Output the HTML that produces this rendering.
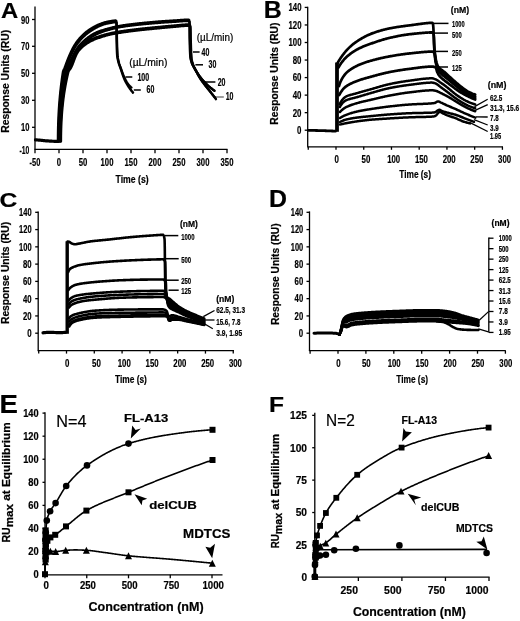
<!DOCTYPE html>
<html><head><meta charset="utf-8"><style>
html,body{margin:0;padding:0;background:#fff;}
svg{display:block;filter:grayscale(1);}
text{font-family:"Liberation Sans", sans-serif;fill:#000;}
</style></head><body>
<svg width="520" height="621" viewBox="0 0 520 621">
<rect width="520" height="621" fill="#fff"/>
<text x="1" y="18.1" font-size="22.4" font-weight="bold" text-anchor="start" textLength="17.2" lengthAdjust="spacingAndGlyphs" stroke="#000" stroke-width="0.2">A</text>
<line x1="35" y1="6.5" x2="35" y2="149.3" stroke="#000" stroke-width="1.3"/>
<line x1="32" y1="19.5" x2="35" y2="19.5" stroke="#000" stroke-width="1.3"/>
<line x1="32" y1="46.3" x2="35" y2="46.3" stroke="#000" stroke-width="1.3"/>
<line x1="32" y1="73.3" x2="35" y2="73.3" stroke="#000" stroke-width="1.3"/>
<line x1="32" y1="100.3" x2="35" y2="100.3" stroke="#000" stroke-width="1.3"/>
<line x1="32" y1="127.3" x2="35" y2="127.3" stroke="#000" stroke-width="1.3"/>
<line x1="34.4" y1="149.3" x2="227.5" y2="149.3" stroke="#000" stroke-width="1.3"/>
<line x1="35" y1="149.3" x2="35" y2="153.3" stroke="#000" stroke-width="1.3"/>
<line x1="59" y1="149.3" x2="59" y2="153.3" stroke="#000" stroke-width="1.3"/>
<line x1="83" y1="149.3" x2="83" y2="153.3" stroke="#000" stroke-width="1.3"/>
<line x1="107" y1="149.3" x2="107" y2="153.3" stroke="#000" stroke-width="1.3"/>
<line x1="131" y1="149.3" x2="131" y2="153.3" stroke="#000" stroke-width="1.3"/>
<line x1="155" y1="149.3" x2="155" y2="153.3" stroke="#000" stroke-width="1.3"/>
<line x1="179" y1="149.3" x2="179" y2="153.3" stroke="#000" stroke-width="1.3"/>
<line x1="203" y1="149.3" x2="203" y2="153.3" stroke="#000" stroke-width="1.3"/>
<line x1="227" y1="149.3" x2="227" y2="153.3" stroke="#000" stroke-width="1.3"/>
<text x="29.4" y="23.5" font-size="10.6" font-weight="bold" text-anchor="end" textLength="8.4" lengthAdjust="spacingAndGlyphs" stroke="#000" stroke-width="0.2">90</text>
<text x="29.4" y="50.3" font-size="10.6" font-weight="bold" text-anchor="end" textLength="8.4" lengthAdjust="spacingAndGlyphs" stroke="#000" stroke-width="0.2">70</text>
<text x="29.4" y="77.3" font-size="10.6" font-weight="bold" text-anchor="end" textLength="8.4" lengthAdjust="spacingAndGlyphs" stroke="#000" stroke-width="0.2">50</text>
<text x="29.4" y="104.3" font-size="10.6" font-weight="bold" text-anchor="end" textLength="8.4" lengthAdjust="spacingAndGlyphs" stroke="#000" stroke-width="0.2">30</text>
<text x="29.4" y="131.3" font-size="10.6" font-weight="bold" text-anchor="end" textLength="8.4" lengthAdjust="spacingAndGlyphs" stroke="#000" stroke-width="0.2">10</text>
<text x="29.4" y="154" font-size="10.6" font-weight="bold" text-anchor="end" textLength="9.8" lengthAdjust="spacingAndGlyphs" stroke="#000" stroke-width="0.2">-10</text>
<text x="35" y="166" font-size="10.4" font-weight="bold" text-anchor="middle" textLength="10.8" lengthAdjust="spacingAndGlyphs" stroke="#000" stroke-width="0.2">-50</text>
<text x="59" y="166" font-size="10.4" font-weight="bold" text-anchor="middle" textLength="4.3" lengthAdjust="spacingAndGlyphs" stroke="#000" stroke-width="0.2">0</text>
<text x="83" y="166" font-size="10.4" font-weight="bold" text-anchor="middle" textLength="8.6" lengthAdjust="spacingAndGlyphs" stroke="#000" stroke-width="0.2">50</text>
<text x="107" y="166" font-size="10.4" font-weight="bold" text-anchor="middle" textLength="12.8" lengthAdjust="spacingAndGlyphs" stroke="#000" stroke-width="0.2">100</text>
<text x="131" y="166" font-size="10.4" font-weight="bold" text-anchor="middle" textLength="12.8" lengthAdjust="spacingAndGlyphs" stroke="#000" stroke-width="0.2">150</text>
<text x="155" y="166" font-size="10.4" font-weight="bold" text-anchor="middle" textLength="12.8" lengthAdjust="spacingAndGlyphs" stroke="#000" stroke-width="0.2">200</text>
<text x="179" y="166" font-size="10.4" font-weight="bold" text-anchor="middle" textLength="12.8" lengthAdjust="spacingAndGlyphs" stroke="#000" stroke-width="0.2">250</text>
<text x="203" y="166" font-size="10.4" font-weight="bold" text-anchor="middle" textLength="12.8" lengthAdjust="spacingAndGlyphs" stroke="#000" stroke-width="0.2">300</text>
<text x="227" y="166" font-size="10.4" font-weight="bold" text-anchor="middle" textLength="12.8" lengthAdjust="spacingAndGlyphs" stroke="#000" stroke-width="0.2">350</text>
<text x="115.6" y="182.9" font-size="11" font-weight="bold" text-anchor="start" textLength="33" lengthAdjust="spacingAndGlyphs" stroke="#000" stroke-width="0.2">Time (s)</text>
<text transform="translate(8.9,132.8) rotate(-90)" x="0" y="0" font-size="10.3" font-weight="bold" textLength="103" lengthAdjust="spacingAndGlyphs" stroke="#000" stroke-width="0.2">Response Units (RU)</text>
<text x="129.2" y="65.6" font-size="10" font-weight="normal" text-anchor="start" textLength="38.2" lengthAdjust="spacingAndGlyphs" stroke="#000" stroke-width="0.2">(µL/min)</text>
<text x="137.4" y="80.7" font-size="10.3" font-weight="bold" text-anchor="start" textLength="11.8" lengthAdjust="spacingAndGlyphs" stroke="#000" stroke-width="0.2">100</text>
<text x="146.6" y="93.2" font-size="10.3" font-weight="bold" text-anchor="start" textLength="7.8" lengthAdjust="spacingAndGlyphs" stroke="#000" stroke-width="0.2">60</text>
<text x="196.7" y="40.8" font-size="10" font-weight="normal" text-anchor="start" textLength="36.5" lengthAdjust="spacingAndGlyphs" stroke="#000" stroke-width="0.2">(µL/min)</text>
<text x="201.5" y="55.7" font-size="10.3" font-weight="bold" text-anchor="start" textLength="7.8" lengthAdjust="spacingAndGlyphs" stroke="#000" stroke-width="0.2">40</text>
<text x="208.5" y="68.3" font-size="10.3" font-weight="bold" text-anchor="start" textLength="7.8" lengthAdjust="spacingAndGlyphs" stroke="#000" stroke-width="0.2">30</text>
<text x="217.7" y="85.5" font-size="10.3" font-weight="bold" text-anchor="start" textLength="7.8" lengthAdjust="spacingAndGlyphs" stroke="#000" stroke-width="0.2">20</text>
<text x="225.7" y="99.7" font-size="10.3" font-weight="bold" text-anchor="start" textLength="7.8" lengthAdjust="spacingAndGlyphs" stroke="#000" stroke-width="0.2">10</text>
<line x1="125.4" y1="77" x2="132.3" y2="77" stroke="#000" stroke-width="1.5"/>
<line x1="133.8" y1="90" x2="140.8" y2="90" stroke="#000" stroke-width="1.5"/>
<line x1="193" y1="52" x2="199.6" y2="52" stroke="#000" stroke-width="1.5"/>
<line x1="195.4" y1="64.8" x2="203" y2="64.8" stroke="#000" stroke-width="1.5"/>
<line x1="204.6" y1="82" x2="215.4" y2="82" stroke="#000" stroke-width="1.5"/>
<line x1="215" y1="97" x2="223.8" y2="97" stroke="#666" stroke-width="1.3"/>
<path d="M35.5,139.8 L36.24,139.86 L36.99,139.93 L37.73,139.99 L38.47,140.06 L39.21,140.13 L39.96,140.2 L40.7,140.27 L41.44,140.34 L42.18,140.42 L42.92,140.5 L43.66,140.58 L44.41,140.66 L45.15,140.73 L45.89,140.79 L46.63,140.85 L47.38,140.91 L48.12,140.96 L48.86,141.02 L49.61,141.07 L50.35,141.11 L51.1,141.16 L51.84,141.19 L52.58,141.23 L53.33,141.26 L54.07,141.29 L54.82,141.32 L55.56,141.34 L56.31,141.36 L57.05,141.38 L57.8,141.4" fill="none" stroke="#000" stroke-width="3.2" stroke-linejoin="round" stroke-linecap="round"/>
<path d="M58,141.5 L58,140.75 L58,140.01 L58,139.26 L58.01,138.52 L58.01,137.78 L58.02,137.03 L58.02,136.29 L58.03,135.55 L58.04,134.82 L58.05,134.08 L58.06,133.34 L58.07,132.61 L58.08,131.88 L58.09,131.14 L58.11,130.41 L58.12,129.68 L58.14,128.95 L58.15,128.22 L58.17,127.5 L58.19,126.77 L58.21,126.05 L58.23,125.32 L58.25,124.6 L58.27,123.88 L58.3,123.16 L58.32,122.44 L58.35,121.72 L58.37,121 L58.4,120.28 L58.43,119.57 L58.46,118.85 L58.49,118.14 L58.52,117.42 L58.55,116.71 L58.59,116 L58.62,115.29 L58.66,114.58 L58.69,113.87 L58.73,113.16 L58.77,112.45 L58.81,111.75 L58.85,111.04 L58.89,110.34 L58.94,109.63 L58.98,108.93 L59.03,108.23 L59.07,107.53 L59.12,106.83 L59.17,106.13 L59.22,105.43 L59.27,104.73 L59.32,104.03 L59.37,103.34 L59.43,102.64 L59.48,101.95 L59.54,101.25 L59.59,100.56 L59.65,99.87 L59.71,99.18 L59.77,98.48 L59.83,97.79 L59.89,97.1 L59.96,96.41 L60.02,95.73 L60.09,95.04 L60.15,94.35 L60.22,93.66 L60.29,92.98 L60.36,92.29 L60.43,91.61 L60.51,90.92 L60.58,90.24 L60.65,89.56 L60.73,88.88 L60.81,88.19 L60.88,87.51 L60.96,86.83 L61.04,86.15 L61.13,85.47 L61.21,84.79 L61.29,84.12 L61.38,83.44 L61.46,82.76 L61.55,82.08 L61.64,81.41 L61.73,80.73 L61.82,80.06 L61.91,79.38 L62,78.71 L62.1,78.03 L62.19,77.36 L62.29,76.69 L62.39,76.01 L62.49,75.34 L62.59,74.67 L62.69,74 L62.79,73.33 L62.9,72.66 L63,71.99 L63.16,71.32 L63.39,70.67 L63.67,70.01 L63.98,69.37 L64.29,68.72 L64.57,68.07 L64.83,67.41 L65.08,66.75 L65.33,66.09 L65.58,65.43 L65.83,64.77 L66.07,64.11 L66.32,63.45 L66.56,62.79 L66.81,62.13 L67.05,61.47 L67.3,60.81 L67.55,60.15 L67.8,59.49 L68.06,58.84 L68.32,58.19 L68.59,57.54 L68.86,56.89 L69.14,56.24 L69.42,55.6 L69.7,54.96 L69.99,54.31 L70.28,53.67 L70.57,53.02 L70.87,52.37 L71.17,51.73 L71.47,51.09 L71.78,50.45 L72.09,49.81 L72.41,49.18 L72.73,48.55 L73.06,47.93 L73.4,47.31 L73.74,46.7 L74.09,46.09 L74.44,45.49 L74.81,44.9 L75.18,44.32 L75.56,43.74 L75.96,43.16 L76.36,42.58 L76.77,42.01 L77.19,41.44 L77.62,40.88 L78.06,40.31 L78.51,39.76 L78.96,39.21 L79.43,38.66 L79.89,38.13 L80.37,37.6 L80.85,37.08 L81.33,36.56 L81.82,36.06 L82.31,35.56 L82.81,35.08 L83.31,34.6 L83.82,34.13 L84.34,33.66 L84.87,33.2 L85.41,32.74 L85.96,32.29 L86.51,31.85 L87.07,31.41 L87.64,30.98 L88.22,30.56 L88.8,30.14 L89.38,29.74 L89.97,29.34 L90.56,28.96 L91.15,28.58 L91.75,28.22 L92.35,27.87 L92.95,27.53 L93.56,27.19 L94.18,26.85 L94.8,26.51 L95.43,26.18 L96.06,25.86 L96.69,25.54 L97.33,25.23 L97.98,24.93 L98.63,24.63 L99.28,24.35 L99.93,24.07 L100.59,23.81 L101.25,23.56 L101.91,23.31 L102.57,23.09 L103.24,22.87 L103.9,22.67 L104.57,22.48 L105.25,22.3 L105.93,22.13 L106.62,21.96 L107.31,21.81 L108.01,21.66 L108.7,21.53 L109.39,21.4 L110.09,21.29 L110.78,21.17 L111.49,21.05 L112.19,20.93 L112.9,20.83 L113.6,20.73 L114.3,20.66 L114.99,20.61 L115.68,20.6 L116.21,20.86 L116.25,21.2 L116.28,21.59 L116.31,22.03 L116.34,22.52 L116.36,23.06 L116.38,23.64 L116.4,24.27 L116.42,24.92 L116.43,25.62 L116.44,26.34 L116.45,27.09 L116.46,27.86 L116.47,28.65 L116.48,29.46 L116.48,30.28 L116.49,31.11 L116.5,31.95 L116.5,32.79 L116.51,33.63 L116.51,34.47 L116.52,35.3 L116.53,36.12 L116.54,36.92 L116.55,37.71 L116.57,38.48 L116.58,39.23 L116.6,39.95 L116.62,40.66 L116.64,41.36 L116.66,42.07 L116.67,42.77 L116.69,43.48 L116.71,44.18 L116.73,44.89 L116.75,45.59 L116.77,46.3 L116.79,47 L116.82,47.71 L116.84,48.42 L116.87,49.12 L116.9,49.82 L116.93,50.53 L116.96,51.23 L116.99,51.93 L117.03,52.63 L117.07,53.33 L117.11,54.03 L117.15,54.73 L117.2,55.43 L117.27,56.12 L117.35,56.82 L117.46,57.52 L117.59,58.21 L117.73,58.9 L117.88,59.6 L118.04,60.29 L118.21,60.97 L118.38,61.66 L118.56,62.34 L118.74,63.01 L118.94,63.68 L119.17,64.35 L119.41,65.01 L119.65,65.68 L119.9,66.34 L120.15,67 L120.39,67.66 L120.62,68.33 L120.84,69 L121.07,69.66 L121.29,70.34 L121.51,71.01 L121.73,71.68 L121.95,72.35 L122.17,73.02 L122.4,73.69 L122.62,74.36 L122.86,75.03 L123.09,75.69 L123.33,76.35 L123.58,77.01 L123.83,77.66 L124.09,78.31 L124.36,78.96 L124.64,79.6 L124.94,80.23 L125.24,80.86 L125.56,81.49 L125.89,82.11 L126.23,82.73 L126.58,83.35 L126.93,83.96 L127.3,84.57 L127.66,85.17 L128.04,85.77 L128.41,86.36 L128.79,86.95 L129.18,87.54 L129.57,88.12 L129.98,88.69 L130.39,89.26 L130.81,89.83 L131.23,90.39 L131.66,90.95 L132.1,91.51 L132.55,92.05 L133,92.6" fill="none" stroke="#000" stroke-width="2.5" stroke-linejoin="round" stroke-linecap="round"/>
<path d="M58.6,141.5 L58.6,140.72 L58.6,139.95 L58.6,139.18 L58.61,138.41 L58.61,137.64 L58.62,136.88 L58.62,136.11 L58.63,135.35 L58.63,134.59 L58.64,133.83 L58.65,133.08 L58.66,132.32 L58.67,131.57 L58.69,130.82 L58.7,130.07 L58.71,129.32 L58.73,128.57 L58.74,127.83 L58.76,127.09 L58.78,126.35 L58.8,125.61 L58.82,124.87 L58.84,124.14 L58.86,123.4 L58.88,122.67 L58.9,121.94 L58.93,121.21 L58.95,120.48 L58.98,119.76 L59.01,119.03 L59.04,118.31 L59.07,117.59 L59.1,116.87 L59.13,116.15 L59.16,115.43 L59.2,114.72 L59.23,114 L59.27,113.29 L59.31,112.58 L59.34,111.87 L59.38,111.16 L59.42,110.46 L59.47,109.75 L59.51,109.05 L59.55,108.35 L59.6,107.65 L59.64,106.95 L59.69,106.25 L59.74,105.55 L59.79,104.86 L59.84,104.16 L59.89,103.47 L59.95,102.78 L60,102.09 L60.06,101.4 L60.11,100.71 L60.17,100.02 L60.23,99.34 L60.29,98.65 L60.35,97.97 L60.42,97.29 L60.48,96.61 L60.54,95.93 L60.61,95.25 L60.68,94.57 L60.75,93.9 L60.82,93.22 L60.89,92.55 L60.96,91.87 L61.04,91.2 L61.11,90.53 L61.19,89.86 L61.27,89.19 L61.35,88.52 L61.43,87.86 L61.51,87.19 L61.59,86.53 L61.68,85.86 L61.76,85.2 L61.85,84.54 L61.94,83.87 L62.03,83.21 L62.12,82.55 L62.22,81.9 L62.31,81.24 L62.41,80.58 L62.5,79.92 L62.6,79.27 L62.7,78.61 L62.8,77.96 L62.91,77.31 L63.01,76.66 L63.12,76 L63.22,75.35 L63.33,74.7 L63.44,74.05 L63.55,73.4 L63.67,72.76 L63.78,72.11 L63.95,71.47 L64.24,70.85 L64.61,70.23 L65.01,69.62 L65.39,69 L65.7,68.37 L65.99,67.73 L66.27,67.09 L66.54,66.44 L66.8,65.79 L67.05,65.13 L67.3,64.48 L67.55,63.82 L67.79,63.15 L68.04,62.49 L68.28,61.83 L68.52,61.17 L68.77,60.51 L69.02,59.85 L69.28,59.2 L69.54,58.55 L69.81,57.9 L70.09,57.26 L70.37,56.62 L70.66,55.98 L70.96,55.33 L71.25,54.69 L71.55,54.05 L71.85,53.41 L72.16,52.77 L72.47,52.13 L72.78,51.5 L73.1,50.87 L73.42,50.24 L73.75,49.62 L74.09,49 L74.43,48.38 L74.78,47.78 L75.14,47.18 L75.5,46.58 L75.87,46 L76.25,45.42 L76.64,44.85 L77.04,44.27 L77.45,43.7 L77.87,43.14 L78.3,42.57 L78.74,42.01 L79.18,41.46 L79.64,40.91 L80.1,40.37 L80.57,39.83 L81.04,39.3 L81.52,38.78 L82.01,38.27 L82.5,37.76 L82.99,37.27 L83.49,36.78 L83.99,36.3 L84.5,35.83 L85.01,35.37 L85.54,34.91 L86.08,34.46 L86.62,34.01 L87.18,33.57 L87.74,33.14 L88.3,32.71 L88.88,32.29 L89.46,31.88 L90.04,31.47 L90.63,31.07 L91.22,30.69 L91.81,30.31 L92.41,29.94 L93,29.58 L93.6,29.22 L94.2,28.87 L94.81,28.52 L95.43,28.18 L96.05,27.83 L96.67,27.49 L97.3,27.16 L97.93,26.83 L98.56,26.51 L99.2,26.2 L99.85,25.91 L100.49,25.62 L101.14,25.35 L101.8,25.09 L102.45,24.84 L103.11,24.62 L103.77,24.41 L104.44,24.21 L105.11,24.03 L105.79,23.85 L106.48,23.69 L107.16,23.53 L107.86,23.39 L108.55,23.25 L109.25,23.12 L109.94,23.01 L110.63,22.9 L111.33,22.78 L112.03,22.67 L112.73,22.56 L113.43,22.47 L114.13,22.39 L114.83,22.33 L115.52,22.3 L116.3,22.37 L116.62,22.61 L116.66,22.9 L116.69,23.27 L116.72,23.71 L116.75,24.2 L116.78,24.75 L116.8,25.35 L116.82,25.99 L116.83,26.68 L116.84,27.41 L116.86,28.16 L116.87,28.95 L116.87,29.76 L116.88,30.59 L116.89,31.43 L116.89,32.28 L116.9,33.14 L116.91,34 L116.92,34.86 L116.92,35.7 L116.93,36.54 L116.94,37.36 L116.96,38.15 L116.97,38.92 L116.99,39.66 L117.01,40.36 L117.03,41.07 L117.05,41.77 L117.07,42.47 L117.09,43.18 L117.11,43.88 L117.13,44.59 L117.15,45.29 L117.17,45.99 L117.19,46.7 L117.21,47.4 L117.24,48.11 L117.26,48.81 L117.29,49.51 L117.32,50.22 L117.35,50.92 L117.38,51.62 L117.41,52.32 L117.45,53.02 L117.49,53.72 L117.53,54.42 L117.58,55.11 L117.63,55.81 L117.7,56.51 L117.79,57.2 L117.9,57.9 L118.02,58.59 L118.15,59.29 L118.29,59.98 L118.44,60.67 L118.6,61.36 L118.77,62.04 L118.93,62.72 L119.1,63.4 L119.3,64.07 L119.52,64.74 L119.75,65.4 L119.99,66.06 L120.24,66.72 L120.5,67.38 L120.74,68.04 L120.98,68.7 L121.22,69.37 L121.46,70.03 L121.7,70.69 L121.93,71.36 L122.18,72.02 L122.42,72.68 L122.67,73.34 L122.92,74 L123.17,74.65 L123.44,75.3 L123.71,75.95 L123.99,76.59 L124.27,77.23 L124.57,77.86 L124.88,78.49 L125.19,79.13 L125.52,79.76 L125.85,80.38 L126.2,81 L126.55,81.61 L126.92,82.22 L127.3,82.8 L127.7,83.38 L128.1,83.94 L128.53,84.48 L128.98,85.01 L129.45,85.53 L129.94,86.04 L130.45,86.54 L130.97,87.03 L131.5,87.5" fill="none" stroke="#000" stroke-width="2.3" stroke-linejoin="round" stroke-linecap="round"/>
<path d="M59.2,141.5 L59.2,140.72 L59.2,139.93 L59.2,139.15 L59.21,138.37 L59.21,137.6 L59.22,136.82 L59.22,136.05 L59.23,135.28 L59.24,134.52 L59.25,133.75 L59.26,132.99 L59.27,132.23 L59.28,131.47 L59.3,130.71 L59.31,129.95 L59.33,129.2 L59.35,128.45 L59.36,127.7 L59.38,126.95 L59.4,126.21 L59.42,125.46 L59.45,124.72 L59.47,123.98 L59.49,123.24 L59.52,122.51 L59.55,121.77 L59.58,121.04 L59.6,120.31 L59.63,119.58 L59.67,118.85 L59.7,118.13 L59.73,117.41 L59.77,116.68 L59.8,115.96 L59.84,115.24 L59.88,114.53 L59.92,113.81 L59.96,113.1 L60,112.39 L60.05,111.68 L60.09,110.97 L60.14,110.26 L60.18,109.56 L60.23,108.85 L60.28,108.15 L60.33,107.45 L60.38,106.75 L60.44,106.05 L60.49,105.36 L60.55,104.66 L60.6,103.97 L60.66,103.28 L60.72,102.59 L60.78,101.9 L60.84,101.21 L60.91,100.53 L60.97,99.84 L61.04,99.16 L61.11,98.48 L61.18,97.8 L61.25,97.12 L61.32,96.44 L61.39,95.76 L61.47,95.09 L61.54,94.41 L61.62,93.74 L61.7,93.07 L61.78,92.4 L61.86,91.73 L61.94,91.06 L62.02,90.39 L62.11,89.73 L62.2,89.06 L62.28,88.4 L62.37,87.74 L62.47,87.08 L62.56,86.42 L62.65,85.76 L62.75,85.1 L62.84,84.44 L62.94,83.79 L63.04,83.13 L63.14,82.48 L63.25,81.83 L63.35,81.17 L63.46,80.52 L63.56,79.87 L63.67,79.22 L63.78,78.58 L63.9,77.93 L64.01,77.28 L64.12,76.64 L64.24,75.99 L64.36,75.35 L64.48,74.71 L64.6,74.06 L64.72,73.42 L64.85,72.78 L64.97,72.14 L65.15,71.51 L65.44,70.9 L65.82,70.29 L66.24,69.69 L66.66,69.09 L67.01,68.47 L67.33,67.85 L67.63,67.22 L67.93,66.58 L68.22,65.94 L68.5,65.29 L68.78,64.65 L69.06,64 L69.33,63.35 L69.6,62.7 L69.88,62.05 L70.15,61.4 L70.43,60.76 L70.71,60.11 L71,59.47 L71.3,58.83 L71.6,58.2 L71.91,57.58 L72.23,56.95 L72.55,56.32 L72.86,55.68 L73.19,55.05 L73.51,54.42 L73.84,53.79 L74.17,53.16 L74.51,52.54 L74.86,51.92 L75.21,51.3 L75.56,50.7 L75.93,50.1 L76.3,49.5 L76.68,48.92 L77.07,48.35 L77.46,47.79 L77.87,47.23 L78.3,46.69 L78.73,46.14 L79.18,45.6 L79.64,45.07 L80.11,44.54 L80.59,44.01 L81.08,43.5 L81.58,42.99 L82.08,42.48 L82.6,41.99 L83.11,41.5 L83.64,41.02 L84.16,40.55 L84.69,40.08 L85.23,39.63 L85.76,39.19 L86.3,38.76 L86.85,38.33 L87.4,37.9 L87.97,37.47 L88.54,37.05 L89.11,36.64 L89.7,36.23 L90.28,35.83 L90.88,35.44 L91.48,35.05 L92.08,34.68 L92.69,34.31 L93.31,33.96 L93.92,33.62 L94.55,33.3 L95.17,32.99 L95.79,32.69 L96.42,32.41 L97.06,32.14 L97.7,31.88 L98.35,31.63 L99,31.38 L99.66,31.14 L100.33,30.91 L101,30.68 L101.67,30.46 L102.34,30.24 L103.02,30.03 L103.7,29.82 L104.38,29.62 L105.06,29.42 L105.74,29.23 L106.42,29.04 L107.1,28.85 L107.78,28.66 L108.46,28.48 L109.13,28.29 L109.81,28.11 L110.49,27.93 L111.17,27.75 L111.85,27.57 L112.54,27.4 L113.22,27.23 L113.91,27.07 L114.59,26.91 L115.28,26.75 L115.96,26.59 L116.65,26.45 L117.34,26.3 L118.03,26.16 L118.72,26.03 L119.41,25.9 L120.1,25.78 L120.79,25.67 L121.48,25.55 L122.17,25.44 L122.87,25.33 L123.56,25.23 L124.25,25.12 L124.95,25.02 L125.64,24.92 L126.34,24.82 L127.04,24.73 L127.73,24.63 L128.43,24.54 L129.13,24.45 L129.83,24.36 L130.53,24.27 L131.22,24.19 L131.92,24.1 L132.62,24.02 L133.32,23.94 L134.02,23.86 L134.72,23.78 L135.42,23.7 L136.12,23.62 L136.82,23.54 L137.52,23.47 L138.22,23.39 L138.92,23.32 L139.62,23.24 L140.31,23.17 L141.01,23.09 L141.71,23.02 L142.41,22.95 L143.11,22.88 L143.81,22.81 L144.51,22.74 L145.21,22.67 L145.91,22.6 L146.61,22.54 L147.31,22.47 L148.01,22.41 L148.71,22.34 L149.41,22.28 L150.11,22.21 L150.81,22.15 L151.51,22.09 L152.21,22.03 L152.91,21.97 L153.61,21.91 L154.31,21.85 L155.01,21.79 L155.71,21.74 L156.41,21.68 L157.11,21.62 L157.81,21.57 L158.51,21.51 L159.22,21.46 L159.92,21.41 L160.62,21.35 L161.32,21.3 L162.02,21.25 L162.72,21.2 L163.42,21.15 L164.12,21.1 L164.82,21.05 L165.52,21.01 L166.23,20.96 L166.93,20.91 L167.63,20.87 L168.33,20.82 L169.03,20.78 L169.73,20.73 L170.43,20.69 L171.14,20.64 L171.84,20.6 L172.54,20.55 L173.24,20.51 L173.94,20.47 L174.64,20.42 L175.35,20.38 L176.06,20.33 L176.78,20.28 L177.51,20.23 L178.25,20.17 L178.99,20.12 L179.73,20.06 L180.47,20.01 L181.21,19.95 L181.94,19.9 L182.67,19.85 L183.39,19.8 L184.1,19.76 L184.8,19.72 L185.49,19.68 L186.16,19.65 L186.81,19.63 L187.44,19.61 L188.06,19.6 L188.66,19.64 L189.2,20.17 L189.23,20.7 L189.27,21.26 L189.3,21.84 L189.33,22.44 L189.35,23.06 L189.37,23.7 L189.39,24.36 L189.41,25.03 L189.42,25.72 L189.43,26.43 L189.44,27.14 L189.45,27.87 L189.46,28.61 L189.47,29.35 L189.48,30.1 L189.48,30.86 L189.49,31.61 L189.49,32.38 L189.5,33.14 L189.51,33.9 L189.51,34.66 L189.52,35.42 L189.53,36.18 L189.54,36.93 L189.55,37.67 L189.56,38.4 L189.58,39.12 L189.6,39.83 L189.61,40.54 L189.63,41.24 L189.65,41.94 L189.67,42.65 L189.68,43.35 L189.7,44.06 L189.72,44.76 L189.74,45.47 L189.76,46.17 L189.78,46.88 L189.8,47.58 L189.82,48.29 L189.84,48.99 L189.87,49.7 L189.9,50.4 L189.93,51.1 L189.96,51.8 L189.99,52.5 L190.03,53.2 L190.07,53.9 L190.11,54.6 L190.15,55.3 L190.2,55.99 L190.26,56.68 L190.35,57.38 L190.47,58.08 L190.61,58.77 L190.76,59.47 L190.93,60.16 L191.11,60.84 L191.31,61.52 L191.5,62.19 L191.71,62.84 L191.96,63.5 L192.23,64.14 L192.54,64.78 L192.86,65.41 L193.2,66.03 L193.54,66.66 L193.88,67.27 L194.21,67.89 L194.55,68.5 L194.9,69.11 L195.26,69.72 L195.62,70.33 L195.99,70.93 L196.36,71.52 L196.74,72.12 L197.13,72.71 L197.52,73.29 L197.91,73.87 L198.31,74.45 L198.71,75.02 L199.12,75.6 L199.54,76.17 L199.96,76.73 L200.38,77.29 L200.81,77.85 L201.25,78.41 L201.69,78.95 L202.14,79.49 L202.59,80.03 L203.05,80.56 L203.52,81.08 L203.99,81.6 L204.47,82.11 L204.96,82.62 L205.45,83.12 L205.95,83.62 L206.46,84.11 L206.97,84.6 L207.48,85.08 L208,85.55 L208.52,86.02 L209.05,86.48 L209.58,86.94 L210.12,87.39 L210.66,87.83 L211.21,88.27 L211.76,88.71 L212.32,89.14 L212.88,89.56 L213.45,89.98 L214.02,90.39 L214.6,90.8" fill="none" stroke="#000" stroke-width="2.3" stroke-linejoin="round" stroke-linecap="round"/>
<path d="M59.8,141.5 L59.8,140.69 L59.8,139.89 L59.8,139.08 L59.81,138.29 L59.81,137.49 L59.82,136.69 L59.82,135.9 L59.83,135.11 L59.84,134.33 L59.85,133.55 L59.86,132.76 L59.87,131.99 L59.89,131.21 L59.9,130.44 L59.92,129.67 L59.93,128.9 L59.95,128.13 L59.97,127.37 L59.99,126.61 L60.01,125.85 L60.03,125.1 L60.06,124.35 L60.08,123.59 L60.11,122.85 L60.13,122.1 L60.16,121.36 L60.19,120.62 L60.22,119.88 L60.25,119.14 L60.29,118.41 L60.32,117.67 L60.35,116.94 L60.39,116.22 L60.43,115.49 L60.47,114.77 L60.51,114.05 L60.55,113.33 L60.59,112.61 L60.64,111.9 L60.68,111.19 L60.73,110.47 L60.78,109.77 L60.83,109.06 L60.88,108.36 L60.93,107.65 L60.98,106.95 L61.04,106.26 L61.1,105.56 L61.15,104.86 L61.21,104.17 L61.27,103.48 L61.33,102.79 L61.4,102.11 L61.46,101.42 L61.53,100.74 L61.6,100.06 L61.66,99.38 L61.74,98.7 L61.81,98.02 L61.88,97.35 L61.95,96.68 L62.03,96.01 L62.11,95.34 L62.19,94.67 L62.27,94 L62.35,93.34 L62.43,92.68 L62.52,92.01 L62.61,91.35 L62.69,90.7 L62.78,90.04 L62.88,89.39 L62.97,88.73 L63.06,88.08 L63.16,87.43 L63.26,86.78 L63.36,86.13 L63.46,85.49 L63.56,84.84 L63.66,84.2 L63.77,83.56 L63.88,82.91 L63.98,82.28 L64.09,81.64 L64.21,81 L64.32,80.36 L64.44,79.73 L64.55,79.1 L64.67,78.46 L64.79,77.83 L64.91,77.2 L65.04,76.58 L65.16,75.95 L65.29,75.32 L65.42,74.7 L65.55,74.07 L65.68,73.45 L65.82,72.83 L65.95,72.21 L66.14,71.59 L66.47,71.01 L66.91,70.43 L67.39,69.86 L67.83,69.28 L68.18,68.68 L68.51,68.06 L68.83,67.44 L69.13,66.81 L69.43,66.17 L69.71,65.53 L69.99,64.88 L70.27,64.23 L70.55,63.58 L70.82,62.93 L71.1,62.28 L71.38,61.63 L71.66,60.99 L71.95,60.35 L72.25,59.71 L72.55,59.08 L72.87,58.46 L73.2,57.84 L73.52,57.21 L73.85,56.58 L74.19,55.96 L74.52,55.33 L74.86,54.71 L75.21,54.09 L75.56,53.47 L75.91,52.86 L76.27,52.25 L76.64,51.65 L77.02,51.06 L77.4,50.48 L77.79,49.91 L78.2,49.34 L78.61,48.79 L79.03,48.25 L79.47,47.71 L79.91,47.17 L80.37,46.64 L80.84,46.12 L81.33,45.6 L81.82,45.08 L82.32,44.58 L82.82,44.07 L83.34,43.58 L83.85,43.09 L84.38,42.62 L84.91,42.15 L85.44,41.68 L85.98,41.23 L86.52,40.79 L87.06,40.35 L87.6,39.93 L88.15,39.5 L88.71,39.08 L89.28,38.66 L89.86,38.24 L90.44,37.83 L91.02,37.43 L91.61,37.04 L92.21,36.65 L92.81,36.27 L93.42,35.9 L94.03,35.54 L94.64,35.2 L95.26,34.86 L95.88,34.54 L96.5,34.23 L97.13,33.94 L97.76,33.66 L98.39,33.38 L99.04,33.11 L99.68,32.85 L100.34,32.6 L101,32.35 L101.66,32.11 L102.32,31.87 L102.99,31.64 L103.66,31.42 L104.34,31.2 L105.01,30.98 L105.69,30.77 L106.37,30.57 L107.04,30.36 L107.72,30.17 L108.4,29.97 L109.07,29.78 L109.74,29.59 L110.42,29.4 L111.1,29.22 L111.78,29.04 L112.46,28.86 L113.14,28.69 L113.82,28.52 L114.51,28.35 L115.19,28.19 L115.88,28.03 L116.57,27.88 L117.25,27.73 L117.94,27.59 L118.63,27.45 L119.32,27.32 L120.01,27.2 L120.7,27.08 L121.39,26.97 L122.08,26.85 L122.77,26.74 L123.47,26.64 L124.16,26.53 L124.85,26.43 L125.55,26.33 L126.24,26.23 L126.94,26.13 L127.64,26.04 L128.33,25.95 L129.03,25.86 L129.73,25.77 L130.43,25.68 L131.13,25.6 L131.82,25.51 L132.52,25.43 L133.22,25.35 L133.92,25.27 L134.62,25.19 L135.32,25.11 L136.02,25.03 L136.72,24.95 L137.42,24.88 L138.12,24.8 L138.81,24.73 L139.51,24.65 L140.21,24.58 L140.91,24.5 L141.61,24.43 L142.31,24.36 L143,24.29 L143.7,24.22 L144.4,24.15 L145.1,24.08 L145.8,24.01 L146.5,23.95 L147.2,23.88 L147.9,23.82 L148.6,23.75 L149.3,23.69 L150,23.62 L150.7,23.56 L151.4,23.5 L152.1,23.44 L152.8,23.38 L153.5,23.32 L154.2,23.26 L154.9,23.2 L155.6,23.15 L156.3,23.09 L157,23.03 L157.7,22.98 L158.4,22.92 L159.1,22.87 L159.8,22.82 L160.5,22.76 L161.2,22.71 L161.9,22.66 L162.6,22.61 L163.3,22.56 L164,22.51 L164.7,22.46 L165.4,22.41 L166.11,22.37 L166.81,22.32 L167.51,22.27 L168.21,22.23 L168.91,22.18 L169.61,22.14 L170.31,22.09 L171.01,22.05 L171.71,22.01 L172.42,21.96 L173.12,21.92 L173.82,21.87 L174.52,21.83 L175.22,21.79 L175.93,21.74 L176.64,21.69 L177.35,21.64 L178.07,21.58 L178.79,21.53 L179.5,21.47 L180.22,21.42 L180.94,21.36 L181.66,21.31 L182.38,21.26 L183.09,21.21 L183.79,21.17 L184.5,21.13 L185.19,21.09 L185.88,21.06 L186.56,21.03 L187.23,21.01 L187.89,21 L188.54,21 L189.31,21.28 L189.61,21.72 L189.65,22.16 L189.68,22.65 L189.71,23.17 L189.74,23.74 L189.76,24.33 L189.79,24.96 L189.8,25.61 L189.82,26.29 L189.83,26.99 L189.85,27.72 L189.86,28.46 L189.87,29.22 L189.87,29.99 L189.88,30.77 L189.89,31.56 L189.89,32.36 L189.9,33.15 L189.91,33.95 L189.92,34.75 L189.92,35.54 L189.93,36.33 L189.94,37.1 L189.95,37.86 L189.97,38.61 L189.98,39.34 L190,40.05 L190.02,40.76 L190.04,41.46 L190.05,42.16 L190.07,42.87 L190.09,43.57 L190.1,44.28 L190.12,44.98 L190.14,45.69 L190.16,46.39 L190.17,47.1 L190.19,47.8 L190.21,48.51 L190.23,49.21 L190.26,49.91 L190.28,50.62 L190.31,51.32 L190.33,52.02 L190.36,52.72 L190.39,53.42 L190.43,54.12 L190.47,54.82 L190.51,55.51 L190.55,56.21 L190.59,56.9 L190.65,57.6 L190.74,58.29 L190.86,58.99 L191,59.68 L191.16,60.38 L191.34,61.07 L191.53,61.75 L191.73,62.42 L191.93,63.09 L192.15,63.74 L192.4,64.38 L192.69,65.02 L193.01,65.65 L193.34,66.28 L193.69,66.9 L194.04,67.52 L194.39,68.13 L194.74,68.74 L195.08,69.35 L195.44,69.96 L195.8,70.56 L196.17,71.16 L196.55,71.75 L196.93,72.34 L197.32,72.93 L197.71,73.51 L198.11,74.09 L198.51,74.67 L198.91,75.24 L199.32,75.81 L199.74,76.38 L200.15,76.95 L200.58,77.51 L201.01,78.07 L201.44,78.62 L201.88,79.17 L202.33,79.71 L202.78,80.25 L203.24,80.79 L203.7,81.31 L204.17,81.83 L204.64,82.35 L205.12,82.86 L205.61,83.37 L206.1,83.87 L206.6,84.37 L207.11,84.86 L207.62,85.35 L208.13,85.83 L208.65,86.29 L209.18,86.76 L209.71,87.21 L210.25,87.66 L210.8,88.1 L211.35,88.53 L211.91,88.96 L212.47,89.38 L213.04,89.79 L213.62,90.2 L214.2,90.6" fill="none" stroke="#000" stroke-width="2.3" stroke-linejoin="round" stroke-linecap="round"/>
<path d="M60.4,141.5 L60.4,140.72 L60.4,139.95 L60.41,139.17 L60.41,138.4 L60.42,137.63 L60.42,136.87 L60.43,136.1 L60.44,135.34 L60.45,134.58 L60.47,133.82 L60.48,133.06 L60.5,132.3 L60.51,131.55 L60.53,130.8 L60.55,130.05 L60.57,129.3 L60.6,128.55 L60.62,127.81 L60.65,127.07 L60.67,126.32 L60.7,125.58 L60.73,124.85 L60.76,124.11 L60.79,123.38 L60.83,122.65 L60.86,121.92 L60.9,121.19 L60.93,120.46 L60.97,119.73 L61.01,119.01 L61.06,118.29 L61.1,117.57 L61.14,116.85 L61.19,116.13 L61.24,115.42 L61.29,114.7 L61.34,113.99 L61.39,113.28 L61.44,112.57 L61.5,111.86 L61.55,111.15 L61.61,110.45 L61.67,109.75 L61.73,109.04 L61.79,108.34 L61.86,107.65 L61.92,106.95 L61.99,106.25 L62.06,105.56 L62.12,104.86 L62.19,104.17 L62.27,103.48 L62.34,102.79 L62.42,102.1 L62.49,101.42 L62.57,100.73 L62.65,100.05 L62.73,99.37 L62.81,98.68 L62.9,98 L62.98,97.32 L63.07,96.65 L63.16,95.97 L63.25,95.3 L63.34,94.62 L63.43,93.95 L63.52,93.28 L63.62,92.61 L63.72,91.94 L63.81,91.27 L63.91,90.6 L64.02,89.93 L64.12,89.27 L64.22,88.61 L64.33,87.94 L64.44,87.28 L64.55,86.62 L64.66,85.96 L64.77,85.3 L64.88,84.64 L65,83.99 L65.11,83.33 L65.23,82.68 L65.35,82.02 L65.47,81.37 L65.6,80.72 L65.72,80.07 L65.84,79.41 L65.97,78.77 L66.1,78.12 L66.23,77.47 L66.36,76.82 L66.5,76.18 L66.63,75.53 L66.77,74.89 L66.91,74.24 L67.05,73.6 L67.19,72.96 L67.33,72.31 L67.49,71.68 L67.74,71.05 L68.07,70.44 L68.45,69.83 L68.86,69.23 L69.26,68.63 L69.63,68.01 L69.95,67.39 L70.26,66.75 L70.55,66.11 L70.83,65.45 L71.11,64.79 L71.37,64.12 L71.63,63.45 L71.89,62.77 L72.14,62.09 L72.39,61.41 L72.64,60.73 L72.88,60.05 L73.13,59.36 L73.37,58.69 L73.62,58.01 L73.88,57.34 L74.13,56.68 L74.39,56.02 L74.66,55.37 L74.94,54.73 L75.22,54.1 L75.52,53.48 L75.82,52.87 L76.14,52.28 L76.47,51.7 L76.81,51.14 L77.17,50.59 L77.54,50.06 L77.94,49.53 L78.36,49.01 L78.81,48.49 L79.27,47.98 L79.75,47.47 L80.25,46.96 L80.77,46.47 L81.3,45.98 L81.84,45.49 L82.4,45.02 L82.96,44.56 L83.54,44.1 L84.12,43.66 L84.71,43.23 L85.3,42.8 L85.89,42.4 L86.49,42 L87.09,41.62 L87.69,41.25 L88.28,40.9 L88.87,40.56 L89.47,40.24 L90.07,39.92 L90.69,39.61 L91.32,39.31 L91.95,39.02 L92.6,38.74 L93.25,38.46 L93.91,38.19 L94.57,37.93 L95.23,37.68 L95.9,37.43 L96.57,37.18 L97.24,36.95 L97.92,36.72 L98.59,36.49 L99.26,36.27 L99.93,36.05 L100.59,35.84 L101.26,35.63 L101.93,35.43 L102.6,35.23 L103.28,35.03 L103.95,34.84 L104.63,34.66 L105.31,34.47 L105.99,34.29 L106.67,34.12 L107.36,33.95 L108.04,33.78 L108.72,33.62 L109.41,33.46 L110.09,33.3 L110.78,33.14 L111.46,32.99 L112.15,32.85 L112.84,32.7 L113.52,32.56 L114.21,32.42 L114.9,32.29 L115.59,32.16 L116.28,32.03 L116.97,31.91 L117.67,31.78 L118.36,31.67 L119.05,31.55 L119.74,31.44 L120.44,31.33 L121.13,31.23 L121.82,31.12 L122.52,31.02 L123.21,30.91 L123.91,30.81 L124.6,30.72 L125.3,30.62 L125.99,30.52 L126.69,30.43 L127.39,30.33 L128.08,30.24 L128.78,30.15 L129.47,30.06 L130.17,29.97 L130.87,29.88 L131.56,29.79 L132.26,29.71 L132.96,29.62 L133.66,29.54 L134.35,29.45 L135.05,29.37 L135.75,29.29 L136.45,29.21 L137.14,29.13 L137.84,29.05 L138.54,28.97 L139.24,28.89 L139.93,28.81 L140.63,28.73 L141.33,28.65 L142.03,28.58 L142.73,28.5 L143.42,28.43 L144.12,28.35 L144.82,28.28 L145.52,28.21 L146.22,28.14 L146.91,28.06 L147.61,27.99 L148.31,27.92 L149.01,27.86 L149.71,27.79 L150.41,27.72 L151.11,27.65 L151.81,27.58 L152.51,27.52 L153.2,27.45 L153.9,27.38 L154.6,27.32 L155.3,27.25 L156,27.18 L156.7,27.12 L157.4,27.05 L158.1,26.98 L158.8,26.92 L159.5,26.85 L160.19,26.78 L160.89,26.71 L161.59,26.65 L162.29,26.58 L162.99,26.51 L163.69,26.44 L164.39,26.37 L165.09,26.31 L165.78,26.24 L166.48,26.17 L167.18,26.1 L167.88,26.04 L168.58,25.97 L169.28,25.91 L169.98,25.84 L170.68,25.78 L171.38,25.71 L172.08,25.65 L172.78,25.59 L173.48,25.53 L174.17,25.47 L174.87,25.41 L175.57,25.35 L176.28,25.29 L176.98,25.22 L177.69,25.16 L178.4,25.09 L179.11,25.02 L179.82,24.95 L180.53,24.88 L181.24,24.81 L181.95,24.75 L182.66,24.69 L183.36,24.63 L184.06,24.58 L184.76,24.53 L185.46,24.49 L186.15,24.46 L186.84,24.43 L187.52,24.41 L188.19,24.4 L188.92,24.45 L189.71,24.73 L190.01,25.08 L190.06,25.47 L190.09,25.92 L190.13,26.43 L190.16,26.99 L190.18,27.59 L190.2,28.24 L190.22,28.93 L190.24,29.65 L190.25,30.4 L190.26,31.18 L190.27,31.97 L190.28,32.78 L190.29,33.6 L190.3,34.42 L190.31,35.24 L190.32,36.06 L190.33,36.86 L190.34,37.66 L190.36,38.43 L190.38,39.18 L190.4,39.91 L190.42,40.61 L190.44,41.31 L190.46,42.01 L190.48,42.72 L190.51,43.42 L190.53,44.13 L190.55,44.83 L190.57,45.54 L190.59,46.24 L190.61,46.95 L190.64,47.65 L190.66,48.36 L190.69,49.06 L190.71,49.77 L190.74,50.47 L190.77,51.17 L190.81,51.87 L190.84,52.58 L190.88,53.28 L190.92,53.97 L190.96,54.67 L191,55.37 L191.05,56.06 L191.1,56.76 L191.15,57.45 L191.21,58.14 L191.29,58.83 L191.41,59.52 L191.55,60.21 L191.71,60.9 L191.89,61.59 L192.09,62.27 L192.29,62.95 L192.51,63.62 L192.73,64.28 L192.95,64.94 L193.21,65.58 L193.5,66.22 L193.81,66.85 L194.14,67.47 L194.48,68.1 L194.82,68.72 L195.15,69.34 L195.48,69.96 L195.8,70.59 L196.12,71.22 L196.43,71.85 L196.75,72.47 L197.07,73.1 L197.39,73.73 L197.72,74.35 L198.05,74.97 L198.39,75.59 L198.73,76.2 L199.08,76.8 L199.44,77.4 L199.81,77.99 L200.19,78.58 L200.58,79.16 L200.98,79.74 L201.38,80.31 L201.79,80.89 L202.21,81.45 L202.63,82.02 L203.05,82.58 L203.48,83.14 L203.9,83.7 L204.32,84.27 L204.75,84.83 L205.17,85.39 L205.6,85.94 L206.03,86.5 L206.46,87.05 L206.9,87.6 L207.34,88.15 L207.78,88.7 L208.21,89.25 L208.65,89.79 L209.09,90.34 L209.52,90.89 L209.96,91.45 L210.39,92 L210.82,92.55 L211.26,93.11 L211.69,93.66 L212.12,94.21 L212.55,94.77 L212.98,95.32 L213.41,95.87 L213.85,96.43 L214.28,96.98 L214.71,97.54 L215.14,98.09 L215.57,98.65 L216,99.2" fill="none" stroke="#000" stroke-width="2.3" stroke-linejoin="round" stroke-linecap="round"/>
<path d="M61,141.5 L61,140.7 L61,139.91 L61.01,139.12 L61.01,138.33 L61.02,137.55 L61.02,136.76 L61.03,135.98 L61.04,135.21 L61.06,134.43 L61.07,133.66 L61.08,132.88 L61.1,132.12 L61.12,131.35 L61.14,130.58 L61.16,129.82 L61.18,129.06 L61.2,128.31 L61.23,127.55 L61.25,126.8 L61.28,126.05 L61.31,125.3 L61.34,124.55 L61.37,123.81 L61.41,123.06 L61.44,122.32 L61.48,121.59 L61.51,120.85 L61.55,120.12 L61.59,119.39 L61.64,118.66 L61.68,117.93 L61.73,117.2 L61.77,116.48 L61.82,115.76 L61.87,115.04 L61.92,114.32 L61.97,113.6 L62.03,112.89 L62.08,112.18 L62.14,111.47 L62.2,110.76 L62.26,110.05 L62.32,109.35 L62.39,108.65 L62.45,107.95 L62.52,107.25 L62.58,106.55 L62.65,105.85 L62.73,105.16 L62.8,104.47 L62.87,103.78 L62.95,103.09 L63.02,102.4 L63.1,101.72 L63.18,101.03 L63.27,100.35 L63.35,99.67 L63.43,98.99 L63.52,98.31 L63.61,97.64 L63.7,96.96 L63.79,96.29 L63.88,95.62 L63.98,94.95 L64.07,94.28 L64.17,93.61 L64.27,92.95 L64.37,92.28 L64.48,91.62 L64.58,90.96 L64.69,90.3 L64.79,89.64 L64.9,88.98 L65.01,88.33 L65.13,87.67 L65.24,87.02 L65.36,86.37 L65.47,85.72 L65.59,85.07 L65.71,84.42 L65.83,83.77 L65.96,83.13 L66.08,82.48 L66.21,81.84 L66.34,81.2 L66.47,80.55 L66.6,79.91 L66.74,79.28 L66.87,78.64 L67.01,78 L67.15,77.36 L67.29,76.73 L67.43,76.1 L67.58,75.46 L67.72,74.83 L67.87,74.2 L68.02,73.57 L68.17,72.94 L68.32,72.31 L68.5,71.69 L68.78,71.09 L69.16,70.5 L69.59,69.91 L70.04,69.33 L70.47,68.74 L70.83,68.14 L71.16,67.52 L71.47,66.89 L71.77,66.24 L72.06,65.59 L72.34,64.93 L72.62,64.27 L72.88,63.59 L73.14,62.92 L73.4,62.24 L73.65,61.56 L73.91,60.87 L74.16,60.19 L74.41,59.51 L74.66,58.84 L74.91,58.17 L75.17,57.5 L75.44,56.84 L75.71,56.19 L75.99,55.55 L76.28,54.92 L76.58,54.31 L76.89,53.7 L77.21,53.11 L77.55,52.54 L77.9,51.99 L78.27,51.45 L78.65,50.92 L79.07,50.4 L79.5,49.89 L79.96,49.37 L80.43,48.87 L80.93,48.37 L81.44,47.87 L81.96,47.38 L82.5,46.9 L83.06,46.43 L83.62,45.97 L84.19,45.52 L84.78,45.07 L85.36,44.64 L85.96,44.22 L86.56,43.8 L87.16,43.41 L87.76,43.02 L88.36,42.65 L88.96,42.29 L89.55,41.94 L90.15,41.61 L90.75,41.29 L91.36,40.97 L91.99,40.67 L92.62,40.37 L93.26,40.08 L93.91,39.8 L94.56,39.53 L95.22,39.26 L95.88,39 L96.55,38.75 L97.22,38.5 L97.89,38.26 L98.56,38.02 L99.23,37.79 L99.9,37.57 L100.57,37.34 L101.23,37.12 L101.9,36.91 L102.56,36.7 L103.23,36.49 L103.91,36.29 L104.58,36.08 L105.26,35.89 L105.93,35.7 L106.61,35.51 L107.29,35.33 L107.97,35.15 L108.66,34.97 L109.34,34.8 L110.02,34.64 L110.71,34.48 L111.39,34.33 L112.08,34.18 L112.76,34.04 L113.45,33.91 L114.14,33.77 L114.83,33.65 L115.53,33.52 L116.22,33.4 L116.91,33.29 L117.61,33.17 L118.3,33.06 L119,32.95 L119.69,32.85 L120.38,32.74 L121.08,32.64 L121.77,32.53 L122.47,32.43 L123.16,32.33 L123.86,32.23 L124.55,32.13 L125.25,32.04 L125.94,31.94 L126.64,31.85 L127.34,31.75 L128.03,31.66 L128.73,31.57 L129.43,31.48 L130.12,31.39 L130.82,31.3 L131.52,31.21 L132.21,31.12 L132.91,31.04 L133.61,30.95 L134.31,30.86 L135,30.78 L135.7,30.7 L136.4,30.62 L137.1,30.53 L137.8,30.45 L138.49,30.37 L139.19,30.29 L139.89,30.21 L140.59,30.13 L141.28,30.06 L141.98,29.98 L142.68,29.9 L143.38,29.83 L144.08,29.76 L144.78,29.68 L145.47,29.61 L146.17,29.54 L146.87,29.47 L147.57,29.4 L148.27,29.33 L148.97,29.26 L149.67,29.19 L150.37,29.12 L151.07,29.05 L151.77,28.99 L152.47,28.92 L153.16,28.85 L153.86,28.79 L154.56,28.72 L155.26,28.65 L155.96,28.59 L156.66,28.52 L157.36,28.45 L158.06,28.39 L158.76,28.32 L159.46,28.25 L160.16,28.18 L160.86,28.12 L161.56,28.05 L162.26,27.98 L162.95,27.91 L163.65,27.85 L164.35,27.78 L165.05,27.71 L165.75,27.64 L166.45,27.57 L167.15,27.51 L167.85,27.44 L168.55,27.37 L169.25,27.31 L169.95,27.24 L170.65,27.18 L171.35,27.12 L172.05,27.05 L172.75,26.99 L173.45,26.93 L174.15,26.87 L174.85,26.81 L175.55,26.75 L176.25,26.69 L176.95,26.63 L177.66,26.56 L178.36,26.49 L179.07,26.42 L179.78,26.35 L180.48,26.28 L181.19,26.22 L181.9,26.15 L182.6,26.09 L183.3,26.03 L184.01,25.98 L184.71,25.93 L185.4,25.89 L186.1,25.86 L186.79,25.83 L187.48,25.81 L188.16,25.8 L188.89,25.83 L189.75,26.02 L190.34,26.3 L190.43,26.61 L190.48,26.99 L190.52,27.45 L190.55,27.98 L190.58,28.56 L190.6,29.2 L190.62,29.89 L190.64,30.62 L190.65,31.39 L190.67,32.18 L190.68,33 L190.69,33.83 L190.7,34.67 L190.71,35.51 L190.72,36.34 L190.73,37.17 L190.75,37.97 L190.76,38.75 L190.78,39.5 L190.81,40.21 L190.83,40.91 L190.85,41.62 L190.87,42.32 L190.9,43.03 L190.92,43.73 L190.94,44.44 L190.96,45.14 L190.98,45.85 L191,46.56 L191.02,47.26 L191.04,47.97 L191.07,48.68 L191.09,49.38 L191.12,50.09 L191.14,50.79 L191.17,51.49 L191.2,52.2 L191.24,52.9 L191.27,53.6 L191.31,54.3 L191.35,54.99 L191.39,55.69 L191.44,56.39 L191.49,57.08 L191.54,57.77 L191.6,58.46 L191.67,59.15 L191.78,59.84 L191.93,60.52 L192.09,61.21 L192.29,61.9 L192.5,62.58 L192.72,63.25 L192.95,63.92 L193.18,64.59 L193.41,65.24 L193.67,65.89 L193.94,66.53 L194.25,67.16 L194.57,67.79 L194.9,68.41 L195.24,69.03 L195.58,69.65 L195.92,70.27 L196.25,70.89 L196.57,71.52 L196.89,72.14 L197.21,72.77 L197.54,73.4 L197.86,74.02 L198.19,74.64 L198.52,75.26 L198.86,75.88 L199.2,76.49 L199.55,77.1 L199.9,77.71 L200.26,78.3 L200.64,78.9 L201.02,79.48 L201.41,80.07 L201.8,80.65 L202.2,81.23 L202.61,81.8 L203.02,82.37 L203.44,82.94 L203.86,83.51 L204.28,84.07 L204.7,84.63 L205.12,85.19 L205.54,85.75 L205.98,86.31 L206.41,86.86 L206.85,87.41 L207.29,87.95 L207.74,88.5 L208.18,89.04 L208.63,89.58 L209.08,90.12 L209.52,90.67 L209.97,91.21 L210.41,91.76 L210.85,92.31 L211.28,92.86 L211.72,93.41 L212.15,93.96 L212.58,94.52 L213.02,95.07 L213.45,95.62 L213.88,96.18 L214.31,96.73 L214.74,97.29 L215.17,97.84 L215.6,98.4" fill="none" stroke="#000" stroke-width="2.3" stroke-linejoin="round" stroke-linecap="round"/>
<text x="263.8" y="18.4" font-size="24" font-weight="bold" text-anchor="start" textLength="18" lengthAdjust="spacingAndGlyphs" stroke="#000" stroke-width="0.2">B</text>
<line x1="307.7" y1="6.8" x2="307.7" y2="146.8" stroke="#000" stroke-width="1.3"/>
<line x1="304.7" y1="130.2" x2="307.7" y2="130.2" stroke="#000" stroke-width="1.3"/>
<line x1="304.7" y1="112.66" x2="307.7" y2="112.66" stroke="#000" stroke-width="1.3"/>
<line x1="304.7" y1="95.12" x2="307.7" y2="95.12" stroke="#000" stroke-width="1.3"/>
<line x1="304.7" y1="77.58" x2="307.7" y2="77.58" stroke="#000" stroke-width="1.3"/>
<line x1="304.7" y1="60.04" x2="307.7" y2="60.04" stroke="#000" stroke-width="1.3"/>
<line x1="304.7" y1="42.5" x2="307.7" y2="42.5" stroke="#000" stroke-width="1.3"/>
<line x1="304.7" y1="24.96" x2="307.7" y2="24.96" stroke="#000" stroke-width="1.3"/>
<line x1="304.7" y1="7.42" x2="307.7" y2="7.42" stroke="#000" stroke-width="1.3"/>
<line x1="307.1" y1="146.8" x2="503" y2="146.8" stroke="#000" stroke-width="1.3"/>
<line x1="308.26" y1="146.8" x2="308.26" y2="149.8" stroke="#000" stroke-width="1.3"/>
<line x1="336" y1="146.8" x2="336" y2="149.8" stroke="#000" stroke-width="1.3"/>
<line x1="363.74" y1="146.8" x2="363.74" y2="149.8" stroke="#000" stroke-width="1.3"/>
<line x1="391.47" y1="146.8" x2="391.47" y2="149.8" stroke="#000" stroke-width="1.3"/>
<line x1="419.2" y1="146.8" x2="419.2" y2="149.8" stroke="#000" stroke-width="1.3"/>
<line x1="446.94" y1="146.8" x2="446.94" y2="149.8" stroke="#000" stroke-width="1.3"/>
<line x1="474.67" y1="146.8" x2="474.67" y2="149.8" stroke="#000" stroke-width="1.3"/>
<line x1="502.41" y1="146.8" x2="502.41" y2="149.8" stroke="#000" stroke-width="1.3"/>
<text x="301.5" y="134.1" font-size="10.6" font-weight="bold" text-anchor="end" textLength="4.4" lengthAdjust="spacingAndGlyphs" stroke="#000" stroke-width="0.2">0</text>
<text x="301.5" y="116.56" font-size="10.6" font-weight="bold" text-anchor="end" textLength="8.8" lengthAdjust="spacingAndGlyphs" stroke="#000" stroke-width="0.2">20</text>
<text x="301.5" y="99.02" font-size="10.6" font-weight="bold" text-anchor="end" textLength="8.8" lengthAdjust="spacingAndGlyphs" stroke="#000" stroke-width="0.2">40</text>
<text x="301.5" y="81.48" font-size="10.6" font-weight="bold" text-anchor="end" textLength="8.8" lengthAdjust="spacingAndGlyphs" stroke="#000" stroke-width="0.2">60</text>
<text x="301.5" y="63.94" font-size="10.6" font-weight="bold" text-anchor="end" textLength="8.8" lengthAdjust="spacingAndGlyphs" stroke="#000" stroke-width="0.2">80</text>
<text x="301.5" y="46.4" font-size="10.6" font-weight="bold" text-anchor="end" textLength="13" lengthAdjust="spacingAndGlyphs" stroke="#000" stroke-width="0.2">100</text>
<text x="301.5" y="28.86" font-size="10.6" font-weight="bold" text-anchor="end" textLength="13" lengthAdjust="spacingAndGlyphs" stroke="#000" stroke-width="0.2">120</text>
<text x="301.5" y="11.32" font-size="10.6" font-weight="bold" text-anchor="end" textLength="13" lengthAdjust="spacingAndGlyphs" stroke="#000" stroke-width="0.2">140</text>
<text x="336.8" y="163.2" font-size="11.6" font-weight="bold" text-anchor="middle" textLength="4.4" lengthAdjust="spacingAndGlyphs" stroke="#000" stroke-width="0.2">0</text>
<text x="365.94" y="163.2" font-size="11.6" font-weight="bold" text-anchor="middle" textLength="8.8" lengthAdjust="spacingAndGlyphs" stroke="#000" stroke-width="0.2">50</text>
<text x="393.67" y="163.2" font-size="11.6" font-weight="bold" text-anchor="middle" textLength="13" lengthAdjust="spacingAndGlyphs" stroke="#000" stroke-width="0.2">100</text>
<text x="421.4" y="163.2" font-size="11.6" font-weight="bold" text-anchor="middle" textLength="13" lengthAdjust="spacingAndGlyphs" stroke="#000" stroke-width="0.2">150</text>
<text x="449.14" y="163.2" font-size="11.6" font-weight="bold" text-anchor="middle" textLength="13" lengthAdjust="spacingAndGlyphs" stroke="#000" stroke-width="0.2">200</text>
<text x="476.87" y="163.2" font-size="11.6" font-weight="bold" text-anchor="middle" textLength="13" lengthAdjust="spacingAndGlyphs" stroke="#000" stroke-width="0.2">250</text>
<text x="504.61" y="163.2" font-size="11.6" font-weight="bold" text-anchor="middle" textLength="13" lengthAdjust="spacingAndGlyphs" stroke="#000" stroke-width="0.2">300</text>
<text x="399.3" y="178.4" font-size="10.6" font-weight="bold" text-anchor="start" textLength="31.7" lengthAdjust="spacingAndGlyphs" stroke="#000" stroke-width="0.2">Time (s)</text>
<text transform="translate(278.1,124.7) rotate(-90)" x="0" y="0" font-size="10.3" font-weight="bold" textLength="102.1" lengthAdjust="spacingAndGlyphs" stroke="#000" stroke-width="0.2">Response Units (RU)</text>
<text x="450.8" y="13.2" font-size="8.8" font-weight="bold" text-anchor="start" textLength="18.4" lengthAdjust="spacingAndGlyphs" stroke="#000" stroke-width="0.2">(nM)</text>
<text x="452" y="26.5" font-size="9.6" font-weight="bold" text-anchor="start" textLength="12.7" lengthAdjust="spacingAndGlyphs" stroke="#000" stroke-width="0.2">1000</text>
<text x="452" y="38.3" font-size="9.6" font-weight="bold" text-anchor="start" textLength="9.7" lengthAdjust="spacingAndGlyphs" stroke="#000" stroke-width="0.2">500</text>
<text x="452" y="55.5" font-size="9.6" font-weight="bold" text-anchor="start" textLength="9.7" lengthAdjust="spacingAndGlyphs" stroke="#000" stroke-width="0.2">250</text>
<text x="452" y="71.3" font-size="9.6" font-weight="bold" text-anchor="start" textLength="9.7" lengthAdjust="spacingAndGlyphs" stroke="#000" stroke-width="0.2">125</text>
<line x1="433.5" y1="23.4" x2="448.5" y2="23.4" stroke="#000" stroke-width="1.5"/>
<line x1="429" y1="33.1" x2="448" y2="33.1" stroke="#000" stroke-width="1.5"/>
<line x1="433" y1="51.4" x2="448" y2="51.4" stroke="#000" stroke-width="1.5"/>
<line x1="439" y1="67" x2="448" y2="67" stroke="#000" stroke-width="1.5"/>
<text x="487.7" y="87.8" font-size="8.8" font-weight="bold" text-anchor="start" textLength="18.8" lengthAdjust="spacingAndGlyphs" stroke="#000" stroke-width="0.2">(nM)</text>
<text x="490" y="100.9" font-size="9.6" font-weight="bold" text-anchor="start" textLength="12.3" lengthAdjust="spacingAndGlyphs" stroke="#000" stroke-width="0.2">62.5</text>
<text x="490" y="110.5" font-size="9.6" font-weight="bold" text-anchor="start" textLength="29.2" lengthAdjust="spacingAndGlyphs" stroke="#000" stroke-width="0.2">31.3, 15.6</text>
<text x="490" y="120.5" font-size="9.6" font-weight="bold" text-anchor="start" textLength="8.6" lengthAdjust="spacingAndGlyphs" stroke="#000" stroke-width="0.2">7.8</text>
<text x="490" y="130.5" font-size="9.6" font-weight="bold" text-anchor="start" textLength="8.6" lengthAdjust="spacingAndGlyphs" stroke="#000" stroke-width="0.2">3.9</text>
<text x="490" y="138.9" font-size="9.6" font-weight="bold" text-anchor="start" textLength="11.2" lengthAdjust="spacingAndGlyphs" stroke="#000" stroke-width="0.2">1.95</text>
<line x1="474.6" y1="106.6" x2="487.7" y2="99.2" stroke="#000" stroke-width="1.3"/>
<line x1="474.6" y1="110.6" x2="487.7" y2="104.6" stroke="#000" stroke-width="1.3"/>
<line x1="476" y1="116.8" x2="487.7" y2="117" stroke="#000" stroke-width="1.3"/>
<line x1="474" y1="119.6" x2="487.7" y2="125" stroke="#000" stroke-width="1.3"/>
<line x1="470" y1="122.6" x2="487.7" y2="131.5" stroke="#000" stroke-width="1.3"/>
<path d="M308.5,130.3 L309.23,130.32 L309.96,130.34 L310.69,130.35 L311.42,130.37 L312.15,130.39 L312.88,130.41 L313.61,130.43 L314.34,130.45 L315.07,130.47 L315.8,130.49 L316.53,130.5 L317.26,130.52 L317.99,130.54 L318.72,130.56 L319.45,130.58 L320.18,130.6 L320.91,130.62 L321.64,130.64 L322.37,130.66 L323.1,130.68 L323.83,130.7 L324.56,130.72 L325.29,130.74 L326.02,130.76 L326.75,130.79 L327.48,130.81 L328.21,130.83 L328.94,130.86 L329.67,130.89 L330.4,130.92 L331.13,130.95 L331.86,130.99 L332.58,131.02 L333.31,131.07 L334.04,131.11 L334.77,131.15 L335.5,131.2" fill="none" stroke="#000" stroke-width="2.8" stroke-linejoin="round" stroke-linecap="round"/>
<line x1="337" y1="131.8" x2="337" y2="62.5" stroke="#000" stroke-width="3.8"/>
<path d="M337.6,63 L337.95,62.39 L338.3,61.77 L338.66,61.17 L339.02,60.56 L339.39,59.96 L339.77,59.37 L340.15,58.78 L340.54,58.19 L340.93,57.61 L341.33,57.04 L341.74,56.47 L342.15,55.9 L342.56,55.33 L342.98,54.76 L343.41,54.2 L343.84,53.64 L344.28,53.08 L344.72,52.53 L345.17,51.98 L345.62,51.44 L346.08,50.9 L346.54,50.37 L347.01,49.85 L347.49,49.34 L347.97,48.83 L348.46,48.34 L348.96,47.85 L349.46,47.37 L349.97,46.89 L350.5,46.41 L351.02,45.94 L351.56,45.48 L352.1,45.02 L352.65,44.57 L353.2,44.12 L353.76,43.69 L354.32,43.26 L354.89,42.84 L355.46,42.43 L356.03,42.02 L356.61,41.63 L357.18,41.25 L357.77,40.86 L358.35,40.48 L358.94,40.11 L359.54,39.73 L360.14,39.36 L360.75,38.99 L361.35,38.63 L361.97,38.27 L362.58,37.92 L363.2,37.57 L363.82,37.22 L364.45,36.89 L365.08,36.55 L365.71,36.23 L366.34,35.91 L366.97,35.59 L367.61,35.29 L368.25,34.99 L368.89,34.7 L369.53,34.42 L370.18,34.15 L370.82,33.88 L371.47,33.63 L372.12,33.38 L372.77,33.14 L373.42,32.9 L374.08,32.67 L374.74,32.44 L375.4,32.21 L376.06,31.99 L376.73,31.77 L377.4,31.55 L378.08,31.34 L378.75,31.13 L379.43,30.92 L380.11,30.72 L380.79,30.53 L381.47,30.34 L382.15,30.15 L382.84,29.96 L383.52,29.78 L384.21,29.61 L384.89,29.44 L385.58,29.27 L386.27,29.11 L386.96,28.95 L387.64,28.79 L388.33,28.64 L389.02,28.5 L389.7,28.36 L390.39,28.22 L391.08,28.09 L391.76,27.96 L392.45,27.84 L393.14,27.71 L393.83,27.59 L394.53,27.47 L395.22,27.36 L395.91,27.25 L396.61,27.14 L397.3,27.03 L398,26.92 L398.69,26.82 L399.39,26.72 L400.09,26.62 L400.79,26.52 L401.48,26.42 L402.18,26.32 L402.88,26.23 L403.58,26.13 L404.28,26.04 L404.98,25.95 L405.68,25.86 L406.37,25.77 L407.07,25.68 L407.77,25.59 L408.47,25.5 L409.17,25.41 L409.86,25.32 L410.57,25.23 L411.28,25.13 L412.01,25.04 L412.75,24.94 L413.5,24.83 L414.26,24.73 L415.02,24.63 L415.79,24.52 L416.56,24.42 L417.34,24.31 L418.12,24.21 L418.89,24.1 L419.67,24 L420.44,23.9 L421.21,23.8 L421.97,23.7 L422.73,23.61 L423.47,23.52 L424.21,23.43 L424.93,23.34 L425.65,23.27 L426.34,23.19 L427.02,23.12 L427.69,23.06 L428.33,23 L428.96,22.95 L429.56,22.91 L430.15,22.87 L430.7,22.84 L431.24,22.82 L431.74,22.8 L432.22,22.8 L432.7,23.25 L433,23.99 L433.08,24.62 L433.15,25.25 L433.21,25.9 L433.27,26.56 L433.32,27.22 L433.37,27.9 L433.41,28.58 L433.45,29.26 L433.49,29.96 L433.52,30.66 L433.54,31.36 L433.57,32.07 L433.59,32.79 L433.61,33.51 L433.63,34.23 L433.65,34.95 L433.66,35.68 L433.68,36.41 L433.7,37.14 L433.71,37.87 L433.73,38.59 L433.75,39.32 L433.77,40.05 L433.8,40.78 L433.82,41.5 L433.85,42.22 L433.88,42.93 L433.92,43.65 L433.96,44.36 L434,45.06 L434.05,45.76 L434.1,46.46 L434.15,47.17 L434.2,47.87 L434.26,48.58 L434.31,49.28 L434.37,49.99 L434.43,50.69 L434.49,51.4 L434.56,52.1 L434.63,52.81 L434.7,53.51 L434.78,54.21 L434.86,54.91 L434.94,55.61 L435.03,56.31 L435.13,57 L435.23,57.69 L435.33,58.38 L435.44,59.07 L435.56,59.75 L435.68,60.43 L435.84,61.12 L436.02,61.81 L436.22,62.5 L436.45,63.18 L436.7,63.85 L436.98,64.5 L437.26,65.13 L437.57,65.73 L437.94,66.31 L438.37,66.88 L438.85,67.42 L439.34,67.93 L439.83,68.43 L440.35,68.89 L440.88,69.34 L441.44,69.77 L442.01,70.19 L442.59,70.6 L443.16,71.02 L443.72,71.45 L444.27,71.89 L444.8,72.35 L445.33,72.81 L445.85,73.29 L446.37,73.76 L446.88,74.24 L447.4,74.72 L447.91,75.21 L448.42,75.69 L448.94,76.16 L449.46,76.64 L449.98,77.11 L450.5,77.58 L451.02,78.05 L451.54,78.53 L452.06,79 L452.59,79.47 L453.11,79.94 L453.64,80.4 L454.16,80.87 L454.69,81.33 L455.22,81.79 L455.75,82.26 L456.29,82.72 L456.82,83.18 L457.35,83.64 L457.88,84.1 L458.42,84.56 L458.96,85.01 L459.5,85.46 L460.04,85.91 L460.59,86.35 L461.14,86.78 L461.7,87.2 L462.26,87.62 L462.83,88.05 L463.39,88.47 L463.96,88.89 L464.54,89.3 L465.12,89.71 L465.7,90.11 L466.29,90.5 L466.88,90.88 L467.48,91.24 L468.09,91.58 L468.7,91.9 L469.32,92.22 L469.95,92.52 L470.58,92.82 L471.22,93.11 L471.87,93.38 L472.53,93.65 L473.19,93.9 L473.85,94.15 L474.52,94.38 L475.2,94.6" fill="none" stroke="#000" stroke-width="2.7" stroke-linejoin="round" stroke-linecap="round"/>
<path d="M338.4,67.6 L338.76,66.97 L339.12,66.35 L339.49,65.73 L339.87,65.12 L340.26,64.51 L340.65,63.92 L341.06,63.33 L341.47,62.75 L341.89,62.18 L342.32,61.62 L342.75,61.07 L343.19,60.53 L343.64,60 L344.1,59.48 L344.56,58.97 L345.03,58.47 L345.51,57.99 L346,57.51 L346.5,57.04 L347.01,56.57 L347.54,56.1 L348.07,55.64 L348.62,55.19 L349.17,54.75 L349.73,54.3 L350.3,53.87 L350.87,53.44 L351.46,53.02 L352.04,52.61 L352.64,52.21 L353.23,51.81 L353.83,51.42 L354.43,51.04 L355.04,50.67 L355.65,50.3 L356.25,49.95 L356.86,49.61 L357.47,49.27 L358.08,48.95 L358.7,48.63 L359.32,48.32 L359.95,48.01 L360.58,47.72 L361.22,47.43 L361.87,47.14 L362.52,46.87 L363.17,46.59 L363.83,46.32 L364.49,46.06 L365.15,45.8 L365.81,45.55 L366.47,45.29 L367.14,45.05 L367.8,44.8 L368.47,44.56 L369.13,44.31 L369.79,44.08 L370.45,43.84 L371.11,43.6 L371.77,43.36 L372.44,43.13 L373.1,42.89 L373.77,42.66 L374.43,42.43 L375.1,42.19 L375.77,41.97 L376.43,41.74 L377.1,41.51 L377.77,41.29 L378.44,41.07 L379.12,40.85 L379.79,40.63 L380.46,40.42 L381.14,40.21 L381.81,40 L382.49,39.8 L383.16,39.6 L383.84,39.4 L384.52,39.21 L385.19,39.02 L385.87,38.83 L386.55,38.65 L387.23,38.47 L387.91,38.3 L388.59,38.13 L389.28,37.97 L389.96,37.81 L390.64,37.65 L391.33,37.5 L392.01,37.35 L392.7,37.2 L393.38,37.05 L394.07,36.9 L394.76,36.75 L395.45,36.61 L396.14,36.46 L396.83,36.32 L397.52,36.19 L398.22,36.05 L398.91,35.92 L399.6,35.78 L400.3,35.66 L400.99,35.53 L401.69,35.41 L402.38,35.29 L403.08,35.17 L403.78,35.06 L404.47,34.95 L405.17,34.84 L405.87,34.74 L406.56,34.64 L407.26,34.54 L407.96,34.45 L408.66,34.36 L409.35,34.27 L410.05,34.19 L410.75,34.12 L411.47,34.04 L412.19,33.96 L412.92,33.88 L413.66,33.8 L414.41,33.71 L415.16,33.64 L415.91,33.56 L416.67,33.48 L417.42,33.4 L418.18,33.33 L418.94,33.25 L419.7,33.18 L420.46,33.11 L421.21,33.04 L421.95,32.97 L422.7,32.91 L423.43,32.85 L424.16,32.79 L424.88,32.74 L425.59,32.68 L426.28,32.64 L426.97,32.59 L427.64,32.55 L428.3,32.52 L428.94,32.48 L429.57,32.46 L430.18,32.44 L430.77,32.42 L431.34,32.41 L431.9,32.4 L432.44,32.46 L433.02,32.93 L433.47,33.62 L433.64,34.24 L433.73,34.84 L433.81,35.47 L433.88,36.1 L433.95,36.76 L434,37.43 L434.05,38.11 L434.09,38.81 L434.13,39.52 L434.16,40.23 L434.19,40.96 L434.21,41.69 L434.23,42.42 L434.26,43.16 L434.28,43.91 L434.31,44.65 L434.33,45.39 L434.36,46.13 L434.39,46.87 L434.43,47.6 L434.47,48.32 L434.52,49.04 L434.58,49.75 L434.64,50.45 L434.71,51.15 L434.78,51.85 L434.86,52.55 L434.94,53.26 L435.02,53.96 L435.11,54.66 L435.21,55.36 L435.31,56.06 L435.42,56.76 L435.53,57.46 L435.64,58.16 L435.77,58.85 L435.89,59.54 L436.03,60.23 L436.17,60.91 L436.31,61.59 L436.46,62.27 L436.63,62.95 L436.83,63.64 L437.04,64.32 L437.27,65 L437.53,65.67 L437.8,66.32 L438.08,66.96 L438.39,67.58 L438.72,68.18 L439.11,68.76 L439.55,69.32 L440.02,69.86 L440.49,70.39 L440.97,70.9 L441.47,71.39 L441.98,71.87 L442.51,72.34 L443.04,72.81 L443.58,73.27 L444.11,73.74 L444.63,74.21 L445.15,74.68 L445.67,75.15 L446.2,75.62 L446.72,76.09 L447.25,76.56 L447.77,77.03 L448.3,77.5 L448.82,77.97 L449.35,78.43 L449.88,78.9 L450.4,79.37 L450.93,79.84 L451.45,80.31 L451.98,80.78 L452.51,81.24 L453.03,81.71 L453.56,82.17 L454.1,82.63 L454.63,83.09 L455.17,83.54 L455.71,84 L456.25,84.45 L456.79,84.9 L457.33,85.35 L457.87,85.8 L458.42,86.25 L458.97,86.69 L459.52,87.13 L460.07,87.56 L460.63,87.99 L461.19,88.42 L461.75,88.84 L462.32,89.26 L462.88,89.67 L463.45,90.09 L464.03,90.51 L464.6,90.92 L465.18,91.33 L465.77,91.73 L466.35,92.12 L466.95,92.49 L467.55,92.86 L468.15,93.21 L468.76,93.54 L469.38,93.87 L470,94.18 L470.63,94.49 L471.27,94.79 L471.91,95.08 L472.56,95.37 L473.21,95.64 L473.87,95.9 L474.53,96.16 L475.2,96.4" fill="none" stroke="#000" stroke-width="2.7" stroke-linejoin="round" stroke-linecap="round"/>
<path d="M339,86 L339.22,85.27 L339.45,84.55 L339.69,83.85 L339.95,83.15 L340.23,82.46 L340.51,81.78 L340.81,81.11 L341.12,80.45 L341.45,79.81 L341.78,79.17 L342.13,78.55 L342.48,77.94 L342.85,77.35 L343.22,76.77 L343.61,76.21 L344,75.66 L344.4,75.12 L344.8,74.6 L345.21,74.1 L345.64,73.61 L346.09,73.13 L346.57,72.66 L347.06,72.19 L347.58,71.73 L348.12,71.29 L348.67,70.84 L349.25,70.41 L349.83,69.99 L350.43,69.57 L351.04,69.16 L351.65,68.76 L352.28,68.38 L352.91,68 L353.55,67.63 L354.18,67.27 L354.82,66.92 L355.46,66.58 L356.1,66.25 L356.73,65.93 L357.36,65.62 L357.98,65.32 L358.61,65.03 L359.24,64.74 L359.89,64.47 L360.53,64.2 L361.19,63.94 L361.85,63.68 L362.51,63.43 L363.18,63.19 L363.85,62.95 L364.52,62.71 L365.2,62.49 L365.88,62.26 L366.55,62.04 L367.23,61.83 L367.91,61.62 L368.59,61.42 L369.27,61.21 L369.94,61.02 L370.62,60.82 L371.29,60.63 L371.97,60.44 L372.65,60.25 L373.33,60.06 L374.01,59.88 L374.69,59.7 L375.38,59.52 L376.06,59.34 L376.74,59.17 L377.43,59 L378.12,58.83 L378.8,58.66 L379.49,58.49 L380.18,58.33 L380.87,58.17 L381.56,58.01 L382.25,57.86 L382.94,57.71 L383.63,57.56 L384.32,57.41 L385.02,57.26 L385.71,57.12 L386.4,56.98 L387.09,56.85 L387.79,56.71 L388.48,56.58 L389.17,56.45 L389.86,56.32 L390.56,56.2 L391.25,56.08 L391.94,55.96 L392.64,55.84 L393.33,55.72 L394.03,55.6 L394.73,55.49 L395.42,55.37 L396.12,55.26 L396.82,55.15 L397.51,55.04 L398.21,54.93 L398.91,54.82 L399.61,54.72 L400.31,54.62 L401.01,54.52 L401.71,54.42 L402.41,54.32 L403.11,54.23 L403.81,54.13 L404.51,54.04 L405.21,53.95 L405.91,53.87 L406.61,53.78 L407.31,53.7 L408.01,53.62 L408.71,53.54 L409.42,53.46 L410.12,53.39 L410.82,53.31 L411.53,53.24 L412.25,53.16 L412.96,53.08 L413.68,53.01 L414.41,52.93 L415.14,52.85 L415.87,52.77 L416.6,52.69 L417.33,52.62 L418.06,52.54 L418.79,52.47 L419.52,52.39 L420.25,52.32 L420.98,52.25 L421.7,52.19 L422.43,52.12 L423.15,52.06 L423.86,52 L424.57,51.94 L425.28,51.89 L425.98,51.84 L426.68,51.79 L427.36,51.75 L428.04,51.72 L428.72,51.68 L429.38,51.66 L430.04,51.63 L430.69,51.62 L431.33,51.61 L431.96,51.6 L432.6,51.67 L433.29,52.03 L433.89,52.55 L434.23,53.07 L434.42,53.6 L434.57,54.19 L434.7,54.82 L434.81,55.5 L434.9,56.21 L434.98,56.95 L435.06,57.71 L435.13,58.47 L435.2,59.24 L435.29,60 L435.38,60.74 L435.5,61.47 L435.64,62.16 L435.79,62.85 L435.96,63.54 L436.14,64.22 L436.34,64.9 L436.55,65.58 L436.77,66.26 L437,66.93 L437.24,67.59 L437.5,68.24 L437.76,68.89 L438.05,69.54 L438.37,70.18 L438.71,70.81 L439.07,71.42 L439.46,72 L439.87,72.55 L440.34,73.07 L440.85,73.57 L441.38,74.05 L441.91,74.52 L442.44,74.98 L442.99,75.43 L443.54,75.87 L444.1,76.3 L444.66,76.73 L445.21,77.17 L445.77,77.61 L446.32,78.05 L446.87,78.49 L447.42,78.93 L447.98,79.37 L448.53,79.81 L449.08,80.25 L449.63,80.69 L450.17,81.14 L450.72,81.59 L451.26,82.05 L451.79,82.5 L452.33,82.96 L452.87,83.42 L453.41,83.87 L453.95,84.33 L454.49,84.78 L455.03,85.23 L455.58,85.67 L456.13,86.12 L456.67,86.57 L457.22,87.02 L457.77,87.46 L458.32,87.91 L458.87,88.35 L459.43,88.78 L459.98,89.22 L460.54,89.64 L461.11,90.07 L461.68,90.48 L462.25,90.9 L462.82,91.31 L463.4,91.72 L463.97,92.13 L464.56,92.54 L465.14,92.94 L465.73,93.33 L466.32,93.72 L466.92,94.09 L467.52,94.45 L468.13,94.8 L468.75,95.13 L469.37,95.46 L470,95.77 L470.63,96.08 L471.27,96.38 L471.91,96.68 L472.56,96.96 L473.21,97.23 L473.87,97.5 L474.53,97.75 L475.2,98" fill="none" stroke="#000" stroke-width="2.7" stroke-linejoin="round" stroke-linecap="round"/>
<path d="M339.3,95 L339.64,94.34 L340,93.68 L340.37,93.04 L340.75,92.41 L341.14,91.79 L341.55,91.19 L341.97,90.6 L342.4,90.03 L342.84,89.48 L343.29,88.95 L343.76,88.45 L344.23,87.97 L344.71,87.51 L345.21,87.08 L345.72,86.67 L346.25,86.27 L346.8,85.89 L347.37,85.51 L347.96,85.15 L348.57,84.8 L349.18,84.46 L349.82,84.13 L350.46,83.8 L351.11,83.49 L351.77,83.18 L352.44,82.88 L353.11,82.59 L353.78,82.31 L354.46,82.03 L355.13,81.76 L355.8,81.5 L356.47,81.24 L357.13,80.98 L357.78,80.73 L358.44,80.49 L359.09,80.25 L359.76,80.02 L360.42,79.79 L361.09,79.57 L361.76,79.36 L362.44,79.15 L363.11,78.95 L363.79,78.74 L364.47,78.54 L365.15,78.35 L365.83,78.16 L366.51,77.96 L367.2,77.77 L367.88,77.59 L368.56,77.4 L369.24,77.21 L369.92,77.02 L370.6,76.83 L371.28,76.65 L371.96,76.46 L372.64,76.27 L373.32,76.08 L374,75.89 L374.68,75.71 L375.36,75.52 L376.04,75.34 L376.72,75.15 L377.4,74.97 L378.09,74.79 L378.77,74.61 L379.45,74.43 L380.14,74.26 L380.82,74.08 L381.5,73.91 L382.19,73.74 L382.87,73.57 L383.56,73.41 L384.25,73.25 L384.93,73.09 L385.62,72.93 L386.31,72.77 L387,72.62 L387.68,72.47 L388.37,72.33 L389.06,72.19 L389.75,72.05 L390.44,71.91 L391.13,71.78 L391.82,71.65 L392.52,71.52 L393.21,71.39 L393.9,71.26 L394.59,71.14 L395.29,71.01 L395.98,70.89 L396.68,70.77 L397.37,70.65 L398.07,70.54 L398.77,70.42 L399.46,70.31 L400.16,70.19 L400.86,70.08 L401.55,69.97 L402.25,69.87 L402.95,69.76 L403.65,69.66 L404.35,69.56 L405.04,69.46 L405.74,69.36 L406.44,69.26 L407.14,69.17 L407.84,69.07 L408.54,68.98 L409.24,68.89 L409.94,68.81 L410.64,68.72 L411.34,68.63 L412.04,68.54 L412.74,68.45 L413.44,68.36 L414.15,68.26 L414.85,68.17 L415.56,68.07 L416.26,67.98 L416.97,67.89 L417.67,67.79 L418.38,67.7 L419.09,67.61 L419.79,67.52 L420.5,67.44 L421.2,67.35 L421.91,67.27 L422.61,67.19 L423.32,67.12 L424.02,67.05 L424.73,66.98 L425.43,66.92 L426.13,66.86 L426.83,66.81 L427.53,66.76 L428.23,66.72 L428.92,66.68 L429.62,66.65 L430.31,66.63 L431,66.61 L431.69,66.6 L432.39,66.6 L433.14,66.68 L433.92,66.85 L434.64,67.07 L435.24,67.34 L435.65,67.63 L435.95,68.1 L436.21,68.72 L436.42,69.45 L436.63,70.22 L436.84,71 L437.09,71.73 L437.37,72.38 L437.68,73.02 L438,73.65 L438.35,74.27 L438.71,74.88 L439.1,75.46 L439.52,76.01 L439.98,76.53 L440.48,77.04 L441,77.53 L441.52,78.02 L442.04,78.49 L442.58,78.94 L443.13,79.39 L443.68,79.83 L444.23,80.27 L444.78,80.7 L445.34,81.14 L445.89,81.57 L446.45,82.01 L447.01,82.44 L447.57,82.86 L448.13,83.29 L448.69,83.72 L449.26,84.14 L449.82,84.56 L450.38,84.99 L450.95,85.41 L451.51,85.83 L452.07,86.26 L452.63,86.69 L453.19,87.12 L453.75,87.55 L454.31,87.99 L454.87,88.41 L455.44,88.84 L456,89.26 L456.57,89.68 L457.15,90.09 L457.72,90.49 L458.31,90.88 L458.89,91.26 L459.49,91.64 L460.09,92.01 L460.69,92.37 L461.29,92.73 L461.9,93.09 L462.51,93.44 L463.13,93.79 L463.75,94.13 L464.37,94.47 L464.99,94.8 L465.62,95.13 L466.24,95.46 L466.87,95.78 L467.5,96.1 L468.13,96.42 L468.76,96.73 L469.39,97.04 L470.03,97.34 L470.67,97.64 L471.31,97.93 L471.95,98.22 L472.6,98.5 L473.25,98.78 L473.89,99.06 L474.55,99.33 L475.2,99.6" fill="none" stroke="#000" stroke-width="2.7" stroke-linejoin="round" stroke-linecap="round"/>
<path d="M339.6,104.3 L339.94,103.61 L340.3,102.93 L340.68,102.26 L341.07,101.61 L341.47,100.98 L341.89,100.37 L342.33,99.79 L342.78,99.24 L343.24,98.73 L343.71,98.25 L344.2,97.8 L344.7,97.41 L345.21,97.05 L345.75,96.74 L346.31,96.45 L346.89,96.17 L347.51,95.91 L348.14,95.66 L348.79,95.43 L349.46,95.21 L350.15,95 L350.85,94.8 L351.55,94.61 L352.27,94.42 L352.98,94.23 L353.7,94.05 L354.42,93.87 L355.13,93.68 L355.84,93.5 L356.54,93.31 L357.23,93.11 L357.9,92.91 L358.58,92.71 L359.25,92.51 L359.93,92.31 L360.6,92.12 L361.28,91.92 L361.96,91.73 L362.63,91.54 L363.31,91.35 L363.99,91.16 L364.67,90.97 L365.35,90.79 L366.03,90.6 L366.7,90.41 L367.38,90.22 L368.06,90.04 L368.74,89.85 L369.42,89.66 L370.09,89.47 L370.77,89.28 L371.45,89.09 L372.13,88.9 L372.8,88.7 L373.48,88.5 L374.15,88.3 L374.83,88.1 L375.51,87.9 L376.18,87.7 L376.86,87.5 L377.53,87.3 L378.21,87.1 L378.89,86.9 L379.56,86.7 L380.24,86.51 L380.92,86.31 L381.59,86.12 L382.27,85.93 L382.95,85.74 L383.63,85.55 L384.31,85.37 L384.99,85.19 L385.67,85.02 L386.35,84.84 L387.03,84.68 L387.71,84.51 L388.4,84.35 L389.08,84.2 L389.77,84.05 L390.45,83.91 L391.14,83.76 L391.83,83.62 L392.51,83.48 L393.2,83.35 L393.89,83.21 L394.58,83.08 L395.28,82.95 L395.97,82.82 L396.66,82.69 L397.35,82.56 L398.05,82.44 L398.74,82.32 L399.43,82.19 L400.13,82.08 L400.82,81.96 L401.52,81.84 L402.21,81.73 L402.91,81.62 L403.61,81.51 L404.3,81.4 L405,81.3 L405.7,81.19 L406.39,81.09 L407.09,80.99 L407.79,80.9 L408.48,80.8 L409.18,80.71 L409.88,80.62 L410.57,80.52 L411.27,80.43 L411.97,80.34 L412.67,80.24 L413.37,80.14 L414.07,80.05 L414.78,79.95 L415.48,79.85 L416.18,79.75 L416.89,79.65 L417.59,79.56 L418.3,79.46 L419,79.37 L419.7,79.27 L420.41,79.18 L421.11,79.1 L421.82,79.01 L422.52,78.93 L423.22,78.85 L423.93,78.78 L424.63,78.71 L425.33,78.64 L426.03,78.58 L426.73,78.52 L427.42,78.47 L428.12,78.43 L428.82,78.39 L429.51,78.36 L430.2,78.33 L430.89,78.31 L431.58,78.3 L432.27,78.3 L432.96,78.39 L433.65,78.58 L434.32,78.82 L434.98,79.07 L435.62,79.34 L436.25,79.67 L436.87,80.02 L437.47,80.38 L438.06,80.76 L438.63,81.18 L439.19,81.6 L439.76,82.03 L440.33,82.43 L440.91,82.83 L441.5,83.22 L442.08,83.61 L442.67,84 L443.25,84.39 L443.83,84.79 L444.4,85.2 L444.97,85.62 L445.52,86.05 L446.08,86.48 L446.63,86.92 L447.18,87.36 L447.73,87.8 L448.27,88.25 L448.82,88.69 L449.37,89.13 L449.91,89.58 L450.45,90.03 L450.99,90.49 L451.52,90.95 L452.06,91.41 L452.59,91.86 L453.13,92.31 L453.68,92.76 L454.22,93.2 L454.78,93.63 L455.34,94.05 L455.9,94.47 L456.47,94.89 L457.04,95.3 L457.61,95.71 L458.19,96.12 L458.77,96.52 L459.36,96.91 L459.95,97.3 L460.54,97.68 L461.13,98.05 L461.73,98.42 L462.33,98.78 L462.94,99.13 L463.55,99.49 L464.17,99.83 L464.78,100.18 L465.41,100.51 L466.03,100.84 L466.66,101.15 L467.3,101.46 L467.93,101.75 L468.57,102.03 L469.22,102.3 L469.87,102.57 L470.52,102.83 L471.18,103.08 L471.84,103.32 L472.5,103.55 L473.17,103.78 L473.84,103.99 L474.52,104.2 L475.2,104.4" fill="none" stroke="#000" stroke-width="2.5" stroke-linejoin="round" stroke-linecap="round"/>
<path d="M339.8,107 L340.19,106.34 L340.59,105.7 L341,105.06 L341.44,104.45 L341.88,103.85 L342.34,103.29 L342.81,102.75 L343.29,102.25 L343.79,101.78 L344.3,101.36 L344.83,100.99 L345.37,100.66 L345.93,100.37 L346.51,100.1 L347.12,99.85 L347.75,99.62 L348.4,99.39 L349.07,99.19 L349.75,98.99 L350.45,98.8 L351.15,98.62 L351.86,98.44 L352.57,98.27 L353.29,98.1 L354.01,97.93 L354.73,97.76 L355.44,97.59 L356.14,97.41 L356.84,97.22 L357.52,97.02 L358.19,96.82 L358.87,96.62 L359.54,96.41 L360.22,96.21 L360.89,96.01 L361.56,95.8 L362.24,95.6 L362.91,95.39 L363.58,95.19 L364.26,94.98 L364.93,94.78 L365.61,94.58 L366.28,94.38 L366.96,94.18 L367.63,93.98 L368.31,93.78 L368.99,93.59 L369.66,93.4 L370.34,93.2 L371.02,93.01 L371.69,92.82 L372.37,92.62 L373.05,92.43 L373.73,92.23 L374.4,92.04 L375.08,91.84 L375.76,91.65 L376.44,91.45 L377.12,91.26 L377.79,91.06 L378.47,90.87 L379.15,90.68 L379.83,90.49 L380.51,90.3 L381.19,90.12 L381.87,89.93 L382.55,89.75 L383.23,89.57 L383.92,89.4 L384.6,89.22 L385.28,89.06 L385.96,88.89 L386.65,88.73 L387.33,88.57 L388.02,88.42 L388.71,88.27 L389.39,88.12 L390.08,87.98 L390.77,87.85 L391.46,87.71 L392.15,87.58 L392.84,87.45 L393.53,87.32 L394.22,87.19 L394.91,87.07 L395.61,86.95 L396.3,86.82 L397,86.7 L397.69,86.59 L398.39,86.47 L399.08,86.36 L399.78,86.24 L400.47,86.13 L401.17,86.02 L401.87,85.92 L402.57,85.81 L403.26,85.71 L403.96,85.61 L404.66,85.51 L405.36,85.41 L406.05,85.31 L406.75,85.22 L407.45,85.12 L408.15,85.03 L408.85,84.94 L409.55,84.86 L410.24,84.77 L410.94,84.68 L411.64,84.59 L412.34,84.5 L413.04,84.41 L413.74,84.32 L414.45,84.22 L415.15,84.13 L415.85,84.03 L416.56,83.94 L417.26,83.85 L417.96,83.75 L418.67,83.66 L419.37,83.57 L420.07,83.49 L420.78,83.4 L421.48,83.32 L422.19,83.24 L422.89,83.16 L423.59,83.09 L424.29,83.02 L425,82.95 L425.7,82.89 L426.4,82.84 L427.1,82.79 L427.8,82.74 L428.49,82.7 L429.19,82.67 L429.89,82.64 L430.58,82.62 L431.28,82.61 L431.97,82.6 L432.66,82.63 L433.36,82.76 L434.05,82.96 L434.72,83.17 L435.37,83.41 L436.01,83.72 L436.63,84.06 L437.24,84.43 L437.82,84.82 L438.38,85.24 L438.92,85.7 L439.46,86.16 L440,86.6 L440.57,87.03 L441.13,87.45 L441.7,87.86 L442.28,88.27 L442.85,88.68 L443.42,89.09 L443.99,89.5 L444.56,89.92 L445.12,90.34 L445.69,90.76 L446.25,91.18 L446.82,91.6 L447.38,92.03 L447.94,92.45 L448.5,92.87 L449.06,93.3 L449.63,93.72 L450.19,94.15 L450.74,94.58 L451.3,95.01 L451.86,95.45 L452.41,95.88 L452.97,96.31 L453.53,96.73 L454.1,97.15 L454.67,97.56 L455.24,97.97 L455.82,98.37 L456.4,98.78 L456.98,99.18 L457.56,99.57 L458.15,99.96 L458.73,100.35 L459.33,100.74 L459.92,101.12 L460.52,101.49 L461.12,101.85 L461.72,102.21 L462.33,102.57 L462.94,102.92 L463.55,103.27 L464.16,103.62 L464.78,103.96 L465.41,104.3 L466.03,104.63 L466.66,104.95 L467.29,105.25 L467.93,105.55 L468.57,105.83 L469.21,106.1 L469.86,106.37 L470.52,106.62 L471.17,106.87 L471.84,107.12 L472.5,107.35 L473.17,107.58 L473.84,107.79 L474.52,108 L475.2,108.2" fill="none" stroke="#000" stroke-width="2.5" stroke-linejoin="round" stroke-linecap="round"/>
<path d="M340,112 L340.51,111.48 L341.02,110.97 L341.54,110.47 L342.07,109.98 L342.61,109.51 L343.15,109.06 L343.71,108.63 L344.28,108.23 L344.85,107.86 L345.44,107.52 L346.04,107.2 L346.65,106.89 L347.28,106.6 L347.91,106.31 L348.56,106.03 L349.21,105.76 L349.87,105.51 L350.54,105.26 L351.21,105.01 L351.89,104.78 L352.57,104.55 L353.25,104.32 L353.93,104.11 L354.62,103.89 L355.3,103.68 L355.99,103.48 L356.67,103.28 L357.34,103.08 L358.02,102.88 L358.69,102.69 L359.37,102.5 L360.05,102.32 L360.74,102.15 L361.42,101.97 L362.1,101.81 L362.79,101.64 L363.48,101.48 L364.17,101.32 L364.86,101.17 L365.55,101.01 L366.24,100.85 L366.93,100.7 L367.62,100.55 L368.31,100.39 L368.99,100.23 L369.68,100.07 L370.37,99.91 L371.06,99.75 L371.74,99.59 L372.43,99.43 L373.12,99.26 L373.8,99.1 L374.49,98.94 L375.18,98.77 L375.86,98.61 L376.55,98.45 L377.24,98.28 L377.92,98.12 L378.61,97.96 L379.3,97.8 L379.99,97.64 L380.67,97.48 L381.36,97.32 L382.05,97.16 L382.74,97.01 L383.43,96.85 L384.12,96.7 L384.8,96.55 L385.49,96.4 L386.18,96.26 L386.87,96.12 L387.57,95.97 L388.26,95.84 L388.95,95.7 L389.64,95.57 L390.33,95.44 L391.02,95.31 L391.72,95.18 L392.41,95.05 L393.11,94.92 L393.8,94.8 L394.49,94.67 L395.19,94.55 L395.88,94.43 L396.58,94.3 L397.28,94.18 L397.97,94.06 L398.67,93.94 L399.36,93.83 L400.06,93.71 L400.76,93.6 L401.46,93.49 L402.15,93.38 L402.85,93.27 L403.55,93.16 L404.25,93.06 L404.95,92.96 L405.64,92.86 L406.34,92.76 L407.04,92.67 L407.74,92.58 L408.44,92.49 L409.14,92.4 L409.84,92.32 L410.54,92.24 L411.24,92.15 L411.94,92.07 L412.64,91.98 L413.34,91.9 L414.04,91.81 L414.74,91.72 L415.45,91.64 L416.15,91.55 L416.85,91.47 L417.56,91.38 L418.26,91.3 L418.96,91.22 L419.67,91.14 L420.37,91.06 L421.07,90.98 L421.78,90.91 L422.48,90.84 L423.18,90.77 L423.89,90.71 L424.59,90.65 L425.29,90.59 L426,90.54 L426.7,90.49 L427.4,90.45 L428.11,90.41 L428.81,90.38 L429.51,90.35 L430.22,90.33 L430.92,90.31 L431.62,90.3 L432.32,90.3 L433.03,90.34 L433.73,90.43 L434.43,90.54 L435.12,90.66 L435.8,90.83 L436.48,91.04 L437.15,91.27 L437.81,91.52 L438.45,91.81 L439.08,92.13 L439.71,92.46 L440.34,92.77 L440.98,93.08 L441.61,93.39 L442.24,93.7 L442.87,94.02 L443.5,94.34 L444.13,94.66 L444.76,94.99 L445.38,95.31 L446.01,95.64 L446.63,95.97 L447.25,96.31 L447.87,96.65 L448.48,96.99 L449.1,97.34 L449.71,97.7 L450.31,98.06 L450.91,98.43 L451.51,98.8 L452.1,99.18 L452.7,99.56 L453.3,99.94 L453.89,100.31 L454.49,100.69 L455.09,101.06 L455.7,101.42 L456.3,101.79 L456.9,102.16 L457.5,102.53 L458.11,102.89 L458.71,103.26 L459.32,103.62 L459.92,103.98 L460.53,104.33 L461.14,104.69 L461.76,105.03 L462.37,105.38 L462.99,105.73 L463.6,106.07 L464.22,106.42 L464.84,106.76 L465.46,107.09 L466.09,107.42 L466.72,107.75 L467.35,108.06 L467.98,108.36 L468.62,108.65 L469.26,108.94 L469.91,109.22 L470.56,109.49 L471.21,109.75 L471.87,110.01 L472.53,110.26 L473.19,110.51 L473.86,110.75 L474.53,110.98 L475.2,111.2" fill="none" stroke="#000" stroke-width="2.5" stroke-linejoin="round" stroke-linecap="round"/>
<path d="M340,118 L340.61,117.63 L341.22,117.27 L341.83,116.92 L342.45,116.57 L343.07,116.24 L343.7,115.92 L344.33,115.62 L344.97,115.34 L345.61,115.07 L346.26,114.82 L346.92,114.57 L347.57,114.32 L348.24,114.08 L348.9,113.85 L349.57,113.63 L350.24,113.41 L350.92,113.19 L351.59,112.98 L352.27,112.78 L352.95,112.58 L353.64,112.39 L354.32,112.21 L355,112.03 L355.69,111.85 L356.37,111.69 L357.06,111.52 L357.74,111.37 L358.42,111.22 L359.11,111.07 L359.8,110.93 L360.49,110.8 L361.18,110.66 L361.87,110.54 L362.56,110.41 L363.26,110.29 L363.95,110.17 L364.65,110.05 L365.35,109.94 L366.04,109.83 L366.74,109.71 L367.44,109.6 L368.13,109.49 L368.83,109.38 L369.52,109.27 L370.22,109.17 L370.92,109.06 L371.61,108.95 L372.31,108.84 L373,108.73 L373.7,108.62 L374.39,108.52 L375.09,108.41 L375.79,108.31 L376.48,108.2 L377.18,108.1 L377.88,107.99 L378.57,107.89 L379.27,107.79 L379.97,107.69 L380.67,107.59 L381.36,107.5 L382.06,107.4 L382.76,107.3 L383.46,107.21 L384.16,107.12 L384.85,107.03 L385.55,106.94 L386.25,106.85 L386.95,106.76 L387.65,106.68 L388.35,106.59 L389.05,106.51 L389.74,106.43 L390.44,106.35 L391.14,106.27 L391.84,106.19 L392.54,106.12 L393.24,106.04 L393.94,105.96 L394.64,105.89 L395.34,105.81 L396.04,105.74 L396.74,105.67 L397.44,105.59 L398.15,105.52 L398.85,105.45 L399.55,105.38 L400.25,105.32 L400.95,105.25 L401.65,105.18 L402.35,105.12 L403.05,105.06 L403.76,104.99 L404.46,104.93 L405.16,104.87 L405.86,104.81 L406.56,104.76 L407.26,104.7 L407.97,104.65 L408.67,104.6 L409.37,104.54 L410.07,104.5 L410.77,104.45 L411.48,104.4 L412.18,104.36 L412.88,104.32 L413.59,104.28 L414.29,104.25 L414.99,104.21 L415.7,104.18 L416.4,104.15 L417.1,104.12 L417.81,104.09 L418.51,104.06 L419.22,104.03 L419.92,104 L420.63,103.97 L421.33,103.94 L422.03,103.91 L422.74,103.88 L423.44,103.84 L424.14,103.81 L424.85,103.78 L425.55,103.74 L426.25,103.71 L426.96,103.67 L427.66,103.63 L428.36,103.58 L429.06,103.54 L429.77,103.49 L430.47,103.44 L431.17,103.39 L431.87,103.33 L432.57,103.27 L433.28,103.19 L433.98,103.09 L434.66,102.96 L435.32,102.71 L435.96,102.35 L436.61,101.97 L437.24,101.63 L437.88,101.43 L438.53,101.43 L439.18,101.64 L439.82,101.97 L440.47,102.33 L441.12,102.65 L441.76,102.94 L442.4,103.24 L443.03,103.54 L443.67,103.84 L444.3,104.14 L444.94,104.45 L445.58,104.75 L446.22,105.04 L446.86,105.34 L447.5,105.62 L448.15,105.9 L448.79,106.18 L449.44,106.45 L450.09,106.73 L450.74,107 L451.39,107.27 L452.04,107.54 L452.69,107.81 L453.34,108.08 L453.99,108.36 L454.63,108.64 L455.28,108.92 L455.92,109.21 L456.56,109.5 L457.2,109.8 L457.84,110.09 L458.48,110.39 L459.11,110.69 L459.75,110.99 L460.39,111.29 L461.03,111.59 L461.66,111.89 L462.3,112.19 L462.94,112.48 L463.58,112.77 L464.23,113.06 L464.87,113.34 L465.52,113.62 L466.16,113.9 L466.81,114.18 L467.46,114.45 L468.11,114.72 L468.76,114.99 L469.41,115.26 L470.06,115.53 L470.71,115.79 L471.37,116.06 L472.02,116.32 L472.67,116.58 L473.33,116.84 L473.99,117.09 L474.64,117.35 L475.3,117.6" fill="none" stroke="#000" stroke-width="2.5" stroke-linejoin="round" stroke-linecap="round"/>
<path d="M340,122 L340.64,121.69 L341.28,121.38 L341.93,121.07 L342.58,120.79 L343.23,120.51 L343.88,120.26 L344.54,120.03 L345.21,119.82 L345.88,119.64 L346.56,119.47 L347.24,119.31 L347.92,119.15 L348.61,119 L349.3,118.85 L349.99,118.71 L350.69,118.58 L351.39,118.45 L352.09,118.33 L352.79,118.21 L353.49,118.1 L354.19,117.99 L354.89,117.88 L355.59,117.78 L356.29,117.68 L356.99,117.58 L357.69,117.49 L358.39,117.4 L359.09,117.31 L359.79,117.22 L360.49,117.14 L361.19,117.06 L361.89,116.99 L362.59,116.92 L363.29,116.84 L364,116.77 L364.7,116.7 L365.4,116.64 L366.1,116.57 L366.81,116.5 L367.51,116.44 L368.21,116.37 L368.92,116.3 L369.62,116.24 L370.32,116.17 L371.02,116.1 L371.73,116.03 L372.43,115.96 L373.13,115.89 L373.83,115.83 L374.53,115.76 L375.24,115.69 L375.94,115.62 L376.64,115.55 L377.34,115.49 L378.05,115.42 L378.75,115.35 L379.45,115.29 L380.15,115.22 L380.86,115.16 L381.56,115.09 L382.26,115.03 L382.96,114.97 L383.67,114.91 L384.37,114.85 L385.07,114.79 L385.78,114.73 L386.48,114.67 L387.18,114.61 L387.89,114.56 L388.59,114.5 L389.29,114.45 L390,114.4 L390.7,114.35 L391.4,114.3 L392.11,114.25 L392.81,114.2 L393.51,114.15 L394.22,114.1 L394.92,114.05 L395.63,114 L396.33,113.95 L397.03,113.91 L397.74,113.86 L398.44,113.81 L399.15,113.77 L399.85,113.72 L400.56,113.68 L401.26,113.64 L401.96,113.59 L402.67,113.55 L403.37,113.51 L404.08,113.47 L404.78,113.44 L405.49,113.4 L406.19,113.37 L406.9,113.33 L407.6,113.3 L408.31,113.27 L409.01,113.24 L409.71,113.21 L410.42,113.18 L411.12,113.16 L411.83,113.14 L412.53,113.12 L413.24,113.1 L413.95,113.08 L414.65,113.06 L415.36,113.04 L416.06,113.03 L416.77,113.01 L417.47,113 L418.18,112.98 L418.89,112.97 L419.59,112.96 L420.3,112.94 L421,112.93 L421.71,112.92 L422.41,112.9 L423.12,112.89 L423.83,112.87 L424.53,112.86 L425.24,112.84 L425.94,112.82 L426.65,112.8 L427.35,112.78 L428.06,112.76 L428.76,112.74 L429.47,112.72 L430.17,112.69 L430.87,112.66 L431.58,112.63 L432.28,112.6 L432.99,112.55 L433.71,112.49 L434.4,112.41 L435.05,112.25 L435.69,111.94 L436.32,111.52 L436.93,111.05 L437.54,110.59 L438.15,110.19 L438.76,109.91 L439.39,109.8 L440.02,109.93 L440.66,110.26 L441.3,110.65 L441.95,110.98 L442.61,111.22 L443.27,111.45 L443.95,111.66 L444.62,111.86 L445.3,112.06 L445.98,112.25 L446.67,112.43 L447.35,112.62 L448.03,112.81 L448.71,112.99 L449.4,113.17 L450.08,113.34 L450.77,113.5 L451.46,113.67 L452.14,113.83 L452.83,114 L453.51,114.18 L454.19,114.36 L454.87,114.56 L455.54,114.77 L456.2,114.99 L456.87,115.22 L457.53,115.45 L458.19,115.7 L458.85,115.95 L459.51,116.21 L460.17,116.47 L460.82,116.73 L461.48,117 L462.13,117.27 L462.79,117.53 L463.44,117.79 L464.1,118.05 L464.76,118.31 L465.42,118.56 L466.08,118.81 L466.74,119.06 L467.4,119.31 L468.06,119.56 L468.72,119.81 L469.38,120.06 L470.04,120.31 L470.7,120.56 L471.36,120.8 L472.02,121.05 L472.68,121.3 L473.34,121.55 L474,121.8" fill="none" stroke="#000" stroke-width="2.5" stroke-linejoin="round" stroke-linecap="round"/>
<path d="M340,124.5 L340.69,124.35 L341.38,124.2 L342.07,124.05 L342.77,123.91 L343.46,123.76 L344.15,123.62 L344.85,123.49 L345.54,123.35 L346.23,123.22 L346.93,123.09 L347.62,122.96 L348.32,122.84 L349.02,122.71 L349.71,122.58 L350.41,122.46 L351.11,122.34 L351.8,122.22 L352.5,122.1 L353.2,121.98 L353.9,121.87 L354.59,121.75 L355.29,121.64 L355.99,121.54 L356.69,121.43 L357.39,121.33 L358.09,121.23 L358.79,121.13 L359.49,121.04 L360.19,120.94 L360.89,120.85 L361.59,120.75 L362.29,120.66 L362.99,120.57 L363.7,120.48 L364.4,120.4 L365.1,120.31 L365.8,120.23 L366.51,120.15 L367.21,120.08 L367.91,120 L368.62,119.93 L369.32,119.86 L370.02,119.8 L370.73,119.73 L371.43,119.67 L372.14,119.61 L372.84,119.56 L373.54,119.5 L374.25,119.44 L374.95,119.39 L375.66,119.33 L376.36,119.28 L377.07,119.23 L377.77,119.18 L378.48,119.13 L379.19,119.08 L379.89,119.03 L380.6,118.99 L381.3,118.94 L382.01,118.9 L382.71,118.85 L383.42,118.81 L384.13,118.76 L384.83,118.72 L385.54,118.67 L386.24,118.63 L386.95,118.59 L387.66,118.54 L388.36,118.5 L389.07,118.46 L389.77,118.41 L390.48,118.37 L391.19,118.33 L391.89,118.28 L392.6,118.24 L393.3,118.2 L394.01,118.15 L394.71,118.11 L395.42,118.07 L396.13,118.02 L396.83,117.98 L397.54,117.94 L398.24,117.9 L398.95,117.86 L399.66,117.82 L400.36,117.78 L401.07,117.74 L401.77,117.7 L402.48,117.66 L403.19,117.62 L403.89,117.58 L404.6,117.55 L405.31,117.51 L406.01,117.48 L406.72,117.44 L407.42,117.41 L408.13,117.38 L408.84,117.35 L409.54,117.32 L410.25,117.29 L410.96,117.26 L411.66,117.24 L412.37,117.22 L413.08,117.19 L413.79,117.17 L414.49,117.16 L415.2,117.14 L415.91,117.12 L416.62,117.11 L417.33,117.09 L418.04,117.08 L418.74,117.06 L419.45,117.05 L420.16,117.03 L420.87,117.02 L421.58,117 L422.28,116.99 L422.99,116.97 L423.7,116.95 L424.41,116.93 L425.11,116.91 L425.82,116.89 L426.53,116.87 L427.23,116.84 L427.94,116.82 L428.64,116.79 L429.35,116.76 L430.05,116.72 L430.75,116.69 L431.46,116.65 L432.16,116.6 L432.87,116.54 L433.6,116.44 L434.29,116.32 L434.94,116.16 L435.53,115.86 L436.09,115.4 L436.62,114.83 L437.14,114.19 L437.65,113.55 L438.16,112.94 L438.68,112.42 L439.21,112.03 L439.76,111.82 L440.35,111.85 L440.96,112.1 L441.59,112.49 L442.22,112.93 L442.86,113.33 L443.5,113.64 L444.14,113.94 L444.78,114.24 L445.42,114.53 L446.07,114.81 L446.72,115.09 L447.38,115.35 L448.04,115.61 L448.7,115.86 L449.36,116.1 L450.03,116.33 L450.7,116.55 L451.38,116.77 L452.05,116.99 L452.72,117.21 L453.4,117.43 L454.06,117.66 L454.73,117.9 L455.39,118.15 L456.04,118.42 L456.69,118.69 L457.34,118.98 L457.99,119.27 L458.63,119.57 L459.28,119.87 L459.92,120.16 L460.57,120.44 L461.22,120.72 L461.87,120.99 L462.53,121.24 L463.2,121.47 L463.86,121.69 L464.54,121.91 L465.21,122.12 L465.89,122.32 L466.56,122.52 L467.25,122.71 L467.93,122.89 L468.62,123.07 L469.31,123.24 L470,123.4" fill="none" stroke="#000" stroke-width="2.5" stroke-linejoin="round" stroke-linecap="round"/>
<text x="-0.6" y="207.2" font-size="21" font-weight="bold" text-anchor="start" textLength="17.8" lengthAdjust="spacingAndGlyphs" stroke="#000" stroke-width="0.2">C</text>
<line x1="38.2" y1="211.4" x2="38.2" y2="350.6" stroke="#000" stroke-width="1.3"/>
<line x1="35.2" y1="333.2" x2="38.2" y2="333.2" stroke="#000" stroke-width="1.3"/>
<line x1="35.2" y1="315.93" x2="38.2" y2="315.93" stroke="#000" stroke-width="1.3"/>
<line x1="35.2" y1="298.66" x2="38.2" y2="298.66" stroke="#000" stroke-width="1.3"/>
<line x1="35.2" y1="281.39" x2="38.2" y2="281.39" stroke="#000" stroke-width="1.3"/>
<line x1="35.2" y1="264.12" x2="38.2" y2="264.12" stroke="#000" stroke-width="1.3"/>
<line x1="35.2" y1="246.85" x2="38.2" y2="246.85" stroke="#000" stroke-width="1.3"/>
<line x1="35.2" y1="229.58" x2="38.2" y2="229.58" stroke="#000" stroke-width="1.3"/>
<line x1="35.2" y1="212.31" x2="38.2" y2="212.31" stroke="#000" stroke-width="1.3"/>
<line x1="37.6" y1="350.6" x2="234" y2="350.6" stroke="#000" stroke-width="1.3"/>
<line x1="38.71" y1="350.6" x2="38.71" y2="353.6" stroke="#000" stroke-width="1.3"/>
<line x1="66.5" y1="350.6" x2="66.5" y2="353.6" stroke="#000" stroke-width="1.3"/>
<line x1="94.29" y1="350.6" x2="94.29" y2="353.6" stroke="#000" stroke-width="1.3"/>
<line x1="122.08" y1="350.6" x2="122.08" y2="353.6" stroke="#000" stroke-width="1.3"/>
<line x1="149.87" y1="350.6" x2="149.87" y2="353.6" stroke="#000" stroke-width="1.3"/>
<line x1="177.66" y1="350.6" x2="177.66" y2="353.6" stroke="#000" stroke-width="1.3"/>
<line x1="205.45" y1="350.6" x2="205.45" y2="353.6" stroke="#000" stroke-width="1.3"/>
<line x1="233.24" y1="350.6" x2="233.24" y2="353.6" stroke="#000" stroke-width="1.3"/>
<text x="31.6" y="337.1" font-size="10.6" font-weight="bold" text-anchor="end" textLength="4.4" lengthAdjust="spacingAndGlyphs" stroke="#000" stroke-width="0.2">0</text>
<text x="31.6" y="319.83" font-size="10.6" font-weight="bold" text-anchor="end" textLength="8.6" lengthAdjust="spacingAndGlyphs" stroke="#000" stroke-width="0.2">20</text>
<text x="31.6" y="302.56" font-size="10.6" font-weight="bold" text-anchor="end" textLength="8.6" lengthAdjust="spacingAndGlyphs" stroke="#000" stroke-width="0.2">40</text>
<text x="31.6" y="285.29" font-size="10.6" font-weight="bold" text-anchor="end" textLength="8.6" lengthAdjust="spacingAndGlyphs" stroke="#000" stroke-width="0.2">60</text>
<text x="31.6" y="268.02" font-size="10.6" font-weight="bold" text-anchor="end" textLength="8.6" lengthAdjust="spacingAndGlyphs" stroke="#000" stroke-width="0.2">80</text>
<text x="31.6" y="250.75" font-size="10.6" font-weight="bold" text-anchor="end" textLength="12.5" lengthAdjust="spacingAndGlyphs" stroke="#000" stroke-width="0.2">100</text>
<text x="31.6" y="233.48" font-size="10.6" font-weight="bold" text-anchor="end" textLength="12.5" lengthAdjust="spacingAndGlyphs" stroke="#000" stroke-width="0.2">120</text>
<text x="31.6" y="216.21" font-size="10.6" font-weight="bold" text-anchor="end" textLength="12.5" lengthAdjust="spacingAndGlyphs" stroke="#000" stroke-width="0.2">140</text>
<text x="67.2" y="367" font-size="11.6" font-weight="bold" text-anchor="middle" textLength="4.4" lengthAdjust="spacingAndGlyphs" stroke="#000" stroke-width="0.2">0</text>
<text x="96.49" y="367" font-size="11.6" font-weight="bold" text-anchor="middle" textLength="8.8" lengthAdjust="spacingAndGlyphs" stroke="#000" stroke-width="0.2">50</text>
<text x="124.28" y="367" font-size="11.6" font-weight="bold" text-anchor="middle" textLength="13" lengthAdjust="spacingAndGlyphs" stroke="#000" stroke-width="0.2">100</text>
<text x="152.07" y="367" font-size="11.6" font-weight="bold" text-anchor="middle" textLength="13" lengthAdjust="spacingAndGlyphs" stroke="#000" stroke-width="0.2">150</text>
<text x="179.86" y="367" font-size="11.6" font-weight="bold" text-anchor="middle" textLength="13" lengthAdjust="spacingAndGlyphs" stroke="#000" stroke-width="0.2">200</text>
<text x="207.65" y="367" font-size="11.6" font-weight="bold" text-anchor="middle" textLength="13" lengthAdjust="spacingAndGlyphs" stroke="#000" stroke-width="0.2">250</text>
<text x="235.44" y="367" font-size="11.6" font-weight="bold" text-anchor="middle" textLength="13" lengthAdjust="spacingAndGlyphs" stroke="#000" stroke-width="0.2">300</text>
<text x="115" y="383" font-size="11" font-weight="bold" text-anchor="start" textLength="31.9" lengthAdjust="spacingAndGlyphs" stroke="#000" stroke-width="0.2">Time (s)</text>
<text transform="translate(9,324) rotate(-90)" x="0" y="0" font-size="10.3" font-weight="bold" textLength="102.1" lengthAdjust="spacingAndGlyphs" stroke="#000" stroke-width="0.2">Response Units (RU)</text>
<text x="180" y="227.2" font-size="8.8" font-weight="bold" text-anchor="start" textLength="17.9" lengthAdjust="spacingAndGlyphs" stroke="#000" stroke-width="0.2">(nM)</text>
<text x="181.2" y="240" font-size="9.6" font-weight="bold" text-anchor="start" textLength="13.3" lengthAdjust="spacingAndGlyphs" stroke="#000" stroke-width="0.2">1000</text>
<text x="181.2" y="263.3" font-size="9.6" font-weight="bold" text-anchor="start" textLength="10" lengthAdjust="spacingAndGlyphs" stroke="#000" stroke-width="0.2">500</text>
<text x="181.2" y="284" font-size="9.6" font-weight="bold" text-anchor="start" textLength="10" lengthAdjust="spacingAndGlyphs" stroke="#000" stroke-width="0.2">250</text>
<text x="181.2" y="294.2" font-size="9.6" font-weight="bold" text-anchor="start" textLength="10" lengthAdjust="spacingAndGlyphs" stroke="#000" stroke-width="0.2">125</text>
<line x1="165" y1="235.6" x2="178.3" y2="235.6" stroke="#000" stroke-width="1.5"/>
<line x1="164.8" y1="258.7" x2="178.7" y2="258.7" stroke="#000" stroke-width="1.5"/>
<line x1="164.8" y1="280.2" x2="178.7" y2="280.2" stroke="#000" stroke-width="1.5"/>
<line x1="168.5" y1="290.2" x2="178.7" y2="290.2" stroke="#000" stroke-width="1.5"/>
<text x="216.2" y="302.4" font-size="8.8" font-weight="bold" text-anchor="start" textLength="18.2" lengthAdjust="spacingAndGlyphs" stroke="#000" stroke-width="0.2">(nM)</text>
<text x="216.2" y="313.2" font-size="9.6" font-weight="bold" text-anchor="start" textLength="28.8" lengthAdjust="spacingAndGlyphs" stroke="#000" stroke-width="0.2">62.5, 31.3</text>
<text x="216.2" y="324.5" font-size="9.6" font-weight="bold" text-anchor="start" textLength="24.2" lengthAdjust="spacingAndGlyphs" stroke="#000" stroke-width="0.2">15.6, 7.8</text>
<text x="216.2" y="336.2" font-size="9.6" font-weight="bold" text-anchor="start" textLength="26" lengthAdjust="spacingAndGlyphs" stroke="#000" stroke-width="0.2">3.9, 1.95</text>
<line x1="203.3" y1="316.6" x2="214.5" y2="310.5" stroke="#000" stroke-width="1.3"/>
<line x1="204" y1="320" x2="214.5" y2="320" stroke="#000" stroke-width="1.3"/>
<line x1="204" y1="323.5" x2="212.8" y2="328.7" stroke="#000" stroke-width="1.3"/>
<path d="M43,332.8 L43.72,332.71 L44.45,332.63 L45.17,332.56 L45.9,332.49 L46.62,332.43 L47.35,332.38 L48.07,332.35 L48.8,332.32 L49.52,332.3 L50.25,332.3 L50.97,332.31 L51.7,332.33 L52.43,332.37 L53.15,332.4 L53.88,332.44 L54.6,332.48 L55.33,332.52 L56.06,332.56 L56.78,332.58 L57.51,332.6 L58.24,332.6 L58.96,332.6 L59.69,332.59 L60.41,332.58 L61.14,332.57 L61.87,332.55 L62.59,332.53 L63.32,332.5 L64.05,332.47 L64.77,332.44 L65.5,332.4" fill="none" stroke="#000" stroke-width="3.2" stroke-linejoin="round" stroke-linecap="round"/>
<line x1="67.2" y1="333.8" x2="67.2" y2="241.3" stroke="#000" stroke-width="3.4"/>
<path d="M67.6,241.5 L68.3,241.63 L68.98,241.82 L69.63,242.05 L70.23,242.41 L70.8,242.86 L71.38,243.29 L71.99,243.6 L72.65,243.8 L73.34,243.98 L74.04,244.12 L74.74,244.19 L75.44,244.19 L76.13,244.13 L76.82,244.03 L77.52,243.9 L78.22,243.76 L78.91,243.61 L79.6,243.47 L80.3,243.35 L80.99,243.22 L81.68,243.09 L82.37,242.95 L83.06,242.81 L83.75,242.67 L84.44,242.53 L85.13,242.38 L85.82,242.24 L86.51,242.1 L87.2,241.97 L87.89,241.84 L88.58,241.72 L89.27,241.61 L89.97,241.5 L90.66,241.41 L91.36,241.32 L92.05,241.23 L92.75,241.14 L93.45,241.06 L94.14,240.98 L94.84,240.9 L95.54,240.82 L96.24,240.75 L96.94,240.67 L97.64,240.6 L98.34,240.53 L99.04,240.46 L99.74,240.39 L100.44,240.33 L101.14,240.26 L101.84,240.2 L102.54,240.13 L103.24,240.06 L103.94,240 L104.64,239.93 L105.34,239.87 L106.04,239.8 L106.74,239.73 L107.44,239.66 L108.14,239.59 L108.84,239.52 L109.54,239.45 L110.24,239.37 L110.94,239.3 L111.64,239.22 L112.34,239.14 L113.04,239.06 L113.74,238.99 L114.43,238.91 L115.13,238.83 L115.83,238.75 L116.53,238.66 L117.23,238.58 L117.93,238.5 L118.62,238.42 L119.32,238.34 L120.02,238.26 L120.72,238.18 L121.42,238.1 L122.12,238.02 L122.82,237.94 L123.51,237.87 L124.21,237.79 L124.91,237.71 L125.61,237.64 L126.31,237.56 L127.01,237.49 L127.71,237.42 L128.41,237.35 L129.11,237.28 L129.81,237.22 L130.51,237.15 L131.21,237.09 L131.91,237.03 L132.61,236.96 L133.31,236.9 L134.01,236.84 L134.71,236.78 L135.41,236.72 L136.11,236.66 L136.81,236.6 L137.51,236.54 L138.21,236.49 L138.91,236.43 L139.61,236.37 L140.31,236.32 L141.01,236.26 L141.72,236.21 L142.42,236.15 L143.12,236.1 L143.82,236.05 L144.52,235.99 L145.22,235.94 L145.92,235.89 L146.62,235.84 L147.33,235.79 L148.03,235.74 L148.73,235.69 L149.43,235.64 L150.13,235.59 L150.86,235.54 L151.62,235.49 L152.42,235.43 L153.23,235.37 L154.06,235.32 L154.9,235.26 L155.73,235.2 L156.56,235.15 L157.37,235.09 L158.17,235.04 L158.93,234.99 L159.66,234.95 L160.35,234.91 L160.98,234.87 L161.56,234.84 L162.08,234.82 L162.53,234.81 L162.89,234.8 L163.2,234.87 L163.49,235.22 L163.76,235.81 L164.02,236.56 L164.24,237.42 L164.41,238.31 L164.54,239.18 L164.6,239.94 L164.62,240.63 L164.64,241.32 L164.66,242 L164.68,242.69 L164.7,243.38 L164.71,244.08 L164.73,244.77 L164.74,245.47 L164.75,246.16 L164.76,246.86 L164.78,247.56 L164.79,248.26 L164.8,248.96 L164.8,249.66 L164.81,250.37 L164.82,251.07 L164.83,251.77 L164.83,252.48 L164.84,253.19 L164.85,253.89 L164.85,254.6 L164.86,255.31 L164.86,256.02 L164.87,256.73 L164.87,257.43 L164.88,258.14 L164.88,258.85 L164.88,259.56 L164.89,260.27 L164.89,260.98 L164.9,261.69 L164.91,262.4 L164.91,263.11 L164.92,263.82 L164.92,264.53 L164.93,265.23 L164.94,265.94 L164.95,266.65 L164.96,267.35 L164.97,268.06 L164.98,268.76 L164.99,269.47 L165,270.17 L165.02,270.87 L165.03,271.58 L165.04,272.28 L165.05,272.99 L165.06,273.7 L165.07,274.4 L165.08,275.11 L165.09,275.82 L165.1,276.53 L165.12,277.23 L165.13,277.94 L165.14,278.65 L165.15,279.36 L165.17,280.07 L165.18,280.77 L165.2,281.48 L165.21,282.19 L165.23,282.89 L165.25,283.6 L165.27,284.3 L165.29,285 L165.31,285.7 L165.33,286.4 L165.36,287.1 L165.39,287.8 L165.42,288.5 L165.45,289.19 L165.48,289.89 L165.52,290.58 L165.56,291.27 L165.6,291.96 L165.66,292.66 L165.77,293.39 L165.92,294.13 L166.11,294.86 L166.34,295.55 L166.59,296.19 L166.87,296.77 L167.2,297.26 L167.72,297.67 L168.36,298.05 L169.02,298.42 L169.63,298.82 L170.18,299.26 L170.72,299.71 L171.24,300.17 L171.77,300.64 L172.29,301.12 L172.81,301.6 L173.33,302.07 L173.86,302.54 L174.39,302.99 L174.93,303.44 L175.47,303.9 L176.01,304.35 L176.56,304.8 L177.1,305.24 L177.66,305.68 L178.22,306.1 L178.78,306.51 L179.36,306.91 L179.94,307.29 L180.53,307.67 L181.13,308.04 L181.73,308.4 L182.34,308.76 L182.95,309.11 L183.57,309.46 L184.19,309.79 L184.81,310.13 L185.43,310.45 L186.06,310.78 L186.69,311.09 L187.31,311.4 L187.95,311.71 L188.58,312.01 L189.22,312.3 L189.86,312.59 L190.51,312.87 L191.15,313.15 L191.8,313.43 L192.45,313.7 L193.1,313.97 L193.75,314.24 L194.4,314.51 L195.04,314.79 L195.69,315.06 L196.34,315.32 L196.99,315.59 L197.65,315.85 L198.3,316.12 L198.95,316.38 L199.6,316.64 L200.26,316.89 L200.91,317.15 L201.57,317.4 L202.23,317.66 L202.88,317.91 L203.54,318.15 L204.2,318.4" fill="none" stroke="#000" stroke-width="2.6" stroke-linejoin="round" stroke-linecap="round"/>
<path d="M68.2,272 L68.48,271.3 L68.8,270.63 L69.17,270.01 L69.58,269.46 L70.02,268.98 L70.52,268.56 L71.09,268.17 L71.72,267.82 L72.38,267.49 L73.05,267.19 L73.72,266.91 L74.37,266.65 L75.02,266.41 L75.69,266.17 L76.36,265.95 L77.04,265.74 L77.73,265.54 L78.41,265.36 L79.1,265.19 L79.79,265.04 L80.47,264.91 L81.16,264.78 L81.85,264.66 L82.55,264.54 L83.24,264.43 L83.94,264.32 L84.63,264.22 L85.33,264.12 L86.03,264.03 L86.73,263.94 L87.43,263.85 L88.14,263.76 L88.84,263.68 L89.54,263.6 L90.25,263.52 L90.95,263.44 L91.66,263.36 L92.36,263.29 L93.06,263.21 L93.76,263.13 L94.47,263.06 L95.17,262.98 L95.87,262.91 L96.57,262.83 L97.27,262.76 L97.97,262.68 L98.67,262.61 L99.38,262.54 L100.08,262.47 L100.78,262.4 L101.48,262.33 L102.19,262.26 L102.89,262.2 L103.59,262.13 L104.29,262.07 L105,262.01 L105.7,261.94 L106.4,261.88 L107.11,261.83 L107.81,261.77 L108.51,261.71 L109.22,261.66 L109.92,261.61 L110.62,261.55 L111.33,261.5 L112.03,261.45 L112.73,261.4 L113.44,261.36 L114.14,261.31 L114.84,261.26 L115.55,261.21 L116.25,261.17 L116.96,261.12 L117.66,261.08 L118.36,261.03 L119.07,260.99 L119.77,260.95 L120.48,260.91 L121.18,260.87 L121.89,260.83 L122.59,260.79 L123.3,260.75 L124,260.71 L124.7,260.67 L125.41,260.63 L126.11,260.59 L126.82,260.56 L127.52,260.52 L128.23,260.49 L128.93,260.45 L129.64,260.42 L130.34,260.38 L131.05,260.35 L131.75,260.32 L132.45,260.28 L133.16,260.25 L133.86,260.22 L134.57,260.19 L135.27,260.15 L135.98,260.12 L136.68,260.09 L137.39,260.06 L138.09,260.03 L138.8,260 L139.5,259.97 L140.21,259.94 L140.91,259.91 L141.62,259.89 L142.32,259.86 L143.03,259.83 L143.73,259.81 L144.44,259.78 L145.14,259.76 L145.85,259.73 L146.55,259.71 L147.26,259.68 L147.96,259.66 L148.67,259.64 L149.37,259.62 L150.08,259.6 L150.79,259.58 L151.53,259.56 L152.27,259.53 L153.03,259.51 L153.79,259.49 L154.56,259.47 L155.32,259.45 L156.08,259.43 L156.84,259.41 L157.59,259.39 L158.32,259.37 L159.04,259.35 L159.74,259.34 L160.41,259.33 L161.06,259.32 L161.69,259.31 L162.27,259.3 L162.83,259.3 L163.37,259.39 L163.96,259.8 L164.51,260.42 L164.95,261.15 L165.18,261.84 L165.22,262.45 L165.25,263.06 L165.28,263.69 L165.3,264.32 L165.32,264.97 L165.34,265.63 L165.35,266.3 L165.37,266.98 L165.38,267.66 L165.39,268.36 L165.4,269.06 L165.41,269.77 L165.42,270.48 L165.42,271.2 L165.43,271.92 L165.44,272.65 L165.44,273.39 L165.45,274.12 L165.45,274.86 L165.46,275.6 L165.46,276.34 L165.47,277.08 L165.47,277.82 L165.48,278.56 L165.49,279.3 L165.5,280.04 L165.51,280.77 L165.52,281.5 L165.53,282.23 L165.55,282.96 L165.56,283.67 L165.58,284.39 L165.6,285.09 L165.63,285.8 L165.65,286.51 L165.68,287.22 L165.71,287.94 L165.74,288.65 L165.78,289.37 L165.82,290.08 L165.87,290.8 L165.92,291.51 L165.97,292.21 L166.04,292.92 L166.1,293.61 L166.18,294.3 L166.26,294.99 L166.35,295.66 L166.46,296.34 L166.65,297.03 L166.91,297.71 L167.23,298.38 L167.59,299 L167.97,299.56 L168.41,300.04 L168.97,300.47 L169.58,300.87 L170.19,301.27 L170.76,301.7 L171.31,302.14 L171.86,302.58 L172.41,303.02 L172.96,303.46 L173.51,303.9 L174.07,304.34 L174.62,304.77 L175.18,305.21 L175.74,305.65 L176.29,306.09 L176.85,306.52 L177.41,306.95 L177.98,307.37 L178.56,307.77 L179.14,308.16 L179.73,308.54 L180.33,308.9 L180.94,309.26 L181.55,309.62 L182.16,309.96 L182.78,310.3 L183.41,310.63 L184.04,310.96 L184.67,311.29 L185.3,311.61 L185.93,311.92 L186.56,312.23 L187.19,312.54 L187.83,312.85 L188.47,313.15 L189.11,313.44 L189.75,313.73 L190.4,314.02 L191.04,314.31 L191.69,314.59 L192.34,314.86 L192.99,315.14 L193.64,315.41 L194.3,315.68 L194.95,315.94 L195.6,316.2 L196.26,316.47 L196.91,316.72 L197.57,316.98 L198.23,317.24 L198.89,317.49 L199.55,317.74 L200.21,317.98 L200.87,318.23 L201.53,318.47 L202.2,318.7 L202.86,318.94 L203.53,319.17 L204.2,319.4" fill="none" stroke="#000" stroke-width="2.6" stroke-linejoin="round" stroke-linecap="round"/>
<path d="M68.4,290 L68.8,289.4 L69.23,288.82 L69.69,288.3 L70.18,287.84 L70.72,287.42 L71.29,287 L71.88,286.6 L72.5,286.23 L73.14,285.87 L73.79,285.55 L74.45,285.27 L75.11,285.02 L75.76,284.81 L76.41,284.63 L77.07,284.47 L77.74,284.31 L78.42,284.16 L79.1,284.02 L79.78,283.89 L80.47,283.76 L81.17,283.64 L81.87,283.53 L82.57,283.42 L83.28,283.32 L83.99,283.22 L84.7,283.13 L85.41,283.04 L86.12,282.95 L86.82,282.86 L87.53,282.78 L88.24,282.7 L88.94,282.62 L89.64,282.54 L90.34,282.46 L91.04,282.38 L91.74,282.31 L92.44,282.24 L93.14,282.17 L93.84,282.1 L94.54,282.03 L95.24,281.97 L95.94,281.9 L96.64,281.84 L97.34,281.78 L98.04,281.72 L98.74,281.67 L99.45,281.61 L100.15,281.56 L100.85,281.5 L101.55,281.45 L102.25,281.4 L102.96,281.35 L103.66,281.3 L104.36,281.25 L105.06,281.2 L105.76,281.15 L106.46,281.1 L107.17,281.05 L107.87,281 L108.57,280.95 L109.27,280.9 L109.97,280.86 L110.68,280.81 L111.38,280.76 L112.08,280.72 L112.78,280.67 L113.48,280.63 L114.19,280.59 L114.89,280.55 L115.59,280.5 L116.29,280.47 L117,280.43 L117.7,280.39 L118.4,280.36 L119.1,280.32 L119.81,280.29 L120.51,280.26 L121.21,280.23 L121.91,280.2 L122.62,280.18 L123.32,280.15 L124.02,280.13 L124.72,280.1 L125.43,280.08 L126.13,280.05 L126.83,280.03 L127.54,280 L128.24,279.98 L128.94,279.96 L129.65,279.93 L130.35,279.91 L131.05,279.89 L131.76,279.87 L132.46,279.85 L133.16,279.83 L133.87,279.81 L134.57,279.79 L135.27,279.77 L135.98,279.76 L136.68,279.74 L137.38,279.72 L138.09,279.71 L138.79,279.69 L139.49,279.68 L140.2,279.67 L140.9,279.65 L141.6,279.64 L142.31,279.63 L143.01,279.62 L143.71,279.61 L144.42,279.61 L145.12,279.6 L145.83,279.59 L146.55,279.59 L147.27,279.58 L148,279.57 L148.74,279.57 L149.48,279.56 L150.22,279.56 L150.96,279.55 L151.7,279.55 L152.45,279.54 L153.19,279.54 L153.93,279.53 L154.66,279.53 L155.39,279.52 L156.11,279.52 L156.83,279.52 L157.53,279.51 L158.23,279.51 L158.92,279.51 L159.59,279.51 L160.26,279.5 L160.9,279.5 L161.54,279.5 L162.15,279.5 L162.75,279.5 L163.36,279.55 L164.03,279.85 L164.69,280.34 L165.27,280.93 L165.67,281.56 L165.81,282.13 L165.87,282.71 L165.91,283.33 L165.95,283.98 L165.97,284.66 L166,285.36 L166.02,286.08 L166.03,286.82 L166.05,287.57 L166.06,288.33 L166.08,289.08 L166.1,289.83 L166.13,290.57 L166.16,291.3 L166.2,292.01 L166.25,292.71 L166.31,293.42 L166.38,294.13 L166.46,294.84 L166.55,295.55 L166.66,296.25 L166.77,296.95 L166.9,297.64 L167.04,298.31 L167.19,298.98 L167.4,299.64 L167.67,300.3 L168.01,300.95 L168.39,301.57 L168.79,302.14 L169.21,302.64 L169.68,303.11 L170.21,303.54 L170.78,303.95 L171.38,304.34 L172,304.72 L172.63,305.1 L173.25,305.47 L173.87,305.85 L174.46,306.24 L175.04,306.64 L175.62,307.04 L176.2,307.44 L176.78,307.84 L177.37,308.23 L177.95,308.62 L178.55,309 L179.14,309.37 L179.74,309.73 L180.35,310.09 L180.96,310.44 L181.57,310.79 L182.18,311.14 L182.8,311.48 L183.42,311.82 L184.04,312.15 L184.66,312.48 L185.29,312.8 L185.91,313.12 L186.54,313.43 L187.18,313.73 L187.81,314.03 L188.45,314.32 L189.09,314.61 L189.74,314.9 L190.38,315.17 L191.03,315.45 L191.68,315.72 L192.33,315.99 L192.98,316.25 L193.64,316.52 L194.29,316.78 L194.94,317.04 L195.6,317.29 L196.25,317.55 L196.91,317.8 L197.57,318.05 L198.23,318.29 L198.89,318.54 L199.55,318.78 L200.21,319.02 L200.87,319.26 L201.53,319.49 L202.2,319.72 L202.86,319.95 L203.53,320.18 L204.2,320.4" fill="none" stroke="#000" stroke-width="2.6" stroke-linejoin="round" stroke-linecap="round"/>
<path d="M68.6,300.5 L69.05,299.93 L69.52,299.39 L70.02,298.9 L70.55,298.46 L71.11,298.07 L71.7,297.69 L72.32,297.32 L72.96,296.97 L73.61,296.65 L74.27,296.36 L74.94,296.11 L75.61,295.9 L76.27,295.74 L76.93,295.59 L77.6,295.44 L78.27,295.31 L78.95,295.18 L79.64,295.05 L80.33,294.93 L81.02,294.82 L81.71,294.71 L82.41,294.61 L83.11,294.51 L83.81,294.42 L84.52,294.33 L85.23,294.24 L85.94,294.16 L86.65,294.08 L87.36,294 L88.07,293.93 L88.79,293.86 L89.5,293.79 L90.21,293.72 L90.92,293.66 L91.63,293.59 L92.34,293.53 L93.05,293.47 L93.76,293.41 L94.46,293.35 L95.17,293.29 L95.87,293.23 L96.57,293.17 L97.27,293.11 L97.97,293.05 L98.68,292.99 L99.38,292.93 L100.08,292.88 L100.79,292.82 L101.49,292.77 L102.19,292.72 L102.9,292.66 L103.6,292.61 L104.3,292.56 L105.01,292.51 L105.71,292.46 L106.42,292.42 L107.12,292.37 L107.82,292.32 L108.53,292.28 L109.23,292.23 L109.94,292.19 L110.64,292.15 L111.35,292.11 L112.05,292.07 L112.76,292.03 L113.46,291.99 L114.17,291.95 L114.87,291.91 L115.58,291.88 L116.28,291.84 L116.99,291.81 L117.69,291.78 L118.4,291.75 L119.1,291.71 L119.81,291.69 L120.51,291.66 L121.21,291.63 L121.92,291.6 L122.62,291.58 L123.33,291.55 L124.03,291.53 L124.74,291.5 L125.44,291.48 L126.15,291.46 L126.85,291.43 L127.56,291.41 L128.26,291.39 L128.97,291.37 L129.67,291.35 L130.38,291.33 L131.08,291.31 L131.79,291.29 L132.49,291.27 L133.2,291.25 L133.9,291.23 L134.61,291.21 L135.32,291.19 L136.02,291.18 L136.73,291.16 L137.43,291.14 L138.14,291.13 L138.84,291.11 L139.55,291.1 L140.25,291.08 L140.96,291.07 L141.66,291.06 L142.37,291.04 L143.07,291.03 L143.78,291.02 L144.48,291.01 L145.19,291 L145.9,290.99 L146.62,290.98 L147.34,290.96 L148.06,290.95 L148.79,290.94 L149.52,290.93 L150.25,290.92 L150.98,290.91 L151.71,290.9 L152.44,290.89 L153.17,290.88 L153.9,290.87 L154.63,290.86 L155.35,290.85 L156.07,290.84 L156.78,290.84 L157.49,290.83 L158.19,290.82 L158.88,290.82 L159.57,290.81 L160.24,290.81 L160.91,290.8 L161.56,290.8 L162.21,290.8 L162.84,290.8 L163.5,290.87 L164.22,291.14 L164.92,291.56 L165.55,292.07 L166.01,292.61 L166.24,293.12 L166.36,293.68 L166.46,294.31 L166.53,294.99 L166.59,295.72 L166.64,296.47 L166.69,297.24 L166.75,298.01 L166.82,298.76 L166.91,299.49 L167.04,300.17 L167.21,300.87 L167.45,301.57 L167.73,302.26 L168.05,302.91 L168.39,303.49 L168.76,304 L169.2,304.46 L169.71,304.89 L170.28,305.28 L170.89,305.66 L171.54,306.02 L172.2,306.37 L172.87,306.72 L173.52,307.08 L174.15,307.44 L174.75,307.82 L175.34,308.2 L175.93,308.59 L176.53,308.97 L177.12,309.35 L177.72,309.72 L178.32,310.09 L178.93,310.44 L179.54,310.79 L180.16,311.14 L180.77,311.48 L181.39,311.82 L182.01,312.16 L182.64,312.49 L183.26,312.82 L183.89,313.14 L184.52,313.46 L185.16,313.77 L185.79,314.08 L186.43,314.38 L187.06,314.68 L187.71,314.97 L188.35,315.25 L189,315.54 L189.64,315.81 L190.3,316.09 L190.95,316.36 L191.6,316.62 L192.26,316.89 L192.91,317.15 L193.57,317.4 L194.23,317.66 L194.89,317.91 L195.55,318.16 L196.21,318.41 L196.87,318.66 L197.53,318.9 L198.19,319.14 L198.85,319.38 L199.52,319.62 L200.18,319.85 L200.85,320.08 L201.52,320.31 L202.19,320.54 L202.86,320.76 L203.53,320.98 L204.2,321.2" fill="none" stroke="#000" stroke-width="2.6" stroke-linejoin="round" stroke-linecap="round"/>
<path d="M68.8,304.5 L69.2,303.87 L69.62,303.25 L70.06,302.68 L70.53,302.18 L71.03,301.78 L71.58,301.44 L72.15,301.12 L72.76,300.81 L73.4,300.53 L74.06,300.27 L74.74,300.02 L75.44,299.78 L76.14,299.56 L76.86,299.36 L77.57,299.17 L78.28,298.99 L78.99,298.82 L79.68,298.67 L80.37,298.52 L81.05,298.38 L81.74,298.24 L82.42,298.11 L83.12,297.98 L83.81,297.86 L84.5,297.74 L85.2,297.62 L85.9,297.51 L86.6,297.4 L87.3,297.29 L88,297.19 L88.71,297.1 L89.41,297 L90.12,296.91 L90.82,296.83 L91.53,296.75 L92.23,296.67 L92.94,296.59 L93.64,296.52 L94.35,296.45 L95.05,296.38 L95.75,296.32 L96.45,296.26 L97.15,296.2 L97.86,296.15 L98.56,296.09 L99.26,296.03 L99.97,295.98 L100.67,295.93 L101.37,295.88 L102.08,295.83 L102.78,295.78 L103.49,295.73 L104.19,295.68 L104.89,295.64 L105.6,295.59 L106.3,295.55 L107.01,295.5 L107.72,295.46 L108.42,295.42 L109.13,295.38 L109.83,295.34 L110.54,295.3 L111.24,295.27 L111.95,295.23 L112.66,295.2 L113.36,295.16 L114.07,295.13 L114.77,295.09 L115.48,295.06 L116.19,295.03 L116.89,295 L117.6,294.97 L118.3,294.94 L119.01,294.91 L119.71,294.88 L120.42,294.86 L121.13,294.83 L121.83,294.81 L122.54,294.78 L123.24,294.76 L123.95,294.73 L124.65,294.71 L125.36,294.68 L126.06,294.66 L126.77,294.64 L127.48,294.62 L128.18,294.59 L128.89,294.57 L129.59,294.55 L130.3,294.53 L131,294.51 L131.71,294.49 L132.42,294.47 L133.12,294.45 L133.83,294.43 L134.53,294.41 L135.24,294.4 L135.95,294.38 L136.65,294.36 L137.36,294.35 L138.06,294.33 L138.77,294.32 L139.48,294.3 L140.18,294.29 L140.89,294.27 L141.59,294.26 L142.3,294.25 L143.01,294.23 L143.71,294.22 L144.42,294.21 L145.12,294.2 L145.83,294.19 L146.55,294.18 L147.27,294.17 L147.99,294.15 L148.72,294.14 L149.45,294.13 L150.18,294.12 L150.92,294.11 L151.65,294.1 L152.38,294.09 L153.11,294.08 L153.84,294.07 L154.57,294.06 L155.29,294.05 L156.01,294.04 L156.73,294.04 L157.43,294.03 L158.14,294.02 L158.83,294.02 L159.52,294.01 L160.19,294.01 L160.86,294.01 L161.52,294 L162.16,294 L162.8,294 L163.44,294.05 L164.14,294.28 L164.84,294.66 L165.5,295.15 L166.06,295.68 L166.46,296.23 L166.69,296.75 L166.84,297.34 L166.96,298 L167.05,298.72 L167.14,299.46 L167.22,300.23 L167.31,300.98 L167.42,301.72 L167.57,302.41 L167.78,303.07 L168.07,303.74 L168.41,304.39 L168.79,305.01 L169.2,305.57 L169.64,306.05 L170.13,306.49 L170.69,306.9 L171.29,307.28 L171.92,307.65 L172.56,308 L173.22,308.35 L173.86,308.69 L174.48,309.04 L175.09,309.4 L175.7,309.74 L176.32,310.08 L176.94,310.42 L177.57,310.75 L178.19,311.08 L178.82,311.4 L179.45,311.73 L180.07,312.05 L180.7,312.38 L181.33,312.7 L181.96,313.02 L182.59,313.34 L183.22,313.65 L183.86,313.96 L184.49,314.27 L185.13,314.58 L185.77,314.88 L186.41,315.18 L187.05,315.47 L187.69,315.76 L188.34,316.04 L188.99,316.32 L189.64,316.6 L190.29,316.87 L190.94,317.14 L191.59,317.41 L192.25,317.68 L192.91,317.94 L193.56,318.2 L194.22,318.45 L194.88,318.71 L195.54,318.96 L196.2,319.21 L196.86,319.45 L197.52,319.7 L198.19,319.94 L198.85,320.18 L199.51,320.42 L200.18,320.65 L200.85,320.88 L201.52,321.11 L202.19,321.34 L202.86,321.56 L203.53,321.78 L204.2,322" fill="none" stroke="#000" stroke-width="2.6" stroke-linejoin="round" stroke-linecap="round"/>
<path d="M69,307.5 L69.47,306.94 L69.95,306.38 L70.44,305.84 L70.95,305.35 L71.49,304.92 L72.04,304.58 L72.61,304.28 L73.21,304 L73.83,303.73 L74.46,303.47 L75.1,303.22 L75.76,302.98 L76.44,302.76 L77.12,302.54 L77.81,302.34 L78.51,302.15 L79.22,301.96 L79.93,301.79 L80.64,301.62 L81.35,301.47 L82.06,301.32 L82.77,301.18 L83.48,301.06 L84.18,300.93 L84.87,300.82 L85.56,300.71 L86.25,300.61 L86.94,300.52 L87.64,300.43 L88.34,300.34 L89.04,300.26 L89.74,300.19 L90.44,300.11 L91.14,300.04 L91.84,299.98 L92.55,299.91 L93.25,299.85 L93.95,299.78 L94.65,299.72 L95.36,299.66 L96.06,299.59 L96.76,299.53 L97.46,299.47 L98.16,299.41 L98.86,299.34 L99.56,299.28 L100.26,299.22 L100.96,299.15 L101.66,299.09 L102.36,299.03 L103.06,298.96 L103.77,298.9 L104.47,298.84 L105.17,298.78 L105.87,298.72 L106.57,298.66 L107.27,298.6 L107.97,298.55 L108.67,298.49 L109.38,298.44 L110.08,298.38 L110.78,298.33 L111.48,298.28 L112.18,298.23 L112.89,298.18 L113.59,298.13 L114.29,298.08 L114.99,298.04 L115.69,298 L116.4,297.96 L117.1,297.92 L117.8,297.88 L118.5,297.84 L119.2,297.81 L119.91,297.78 L120.61,297.75 L121.31,297.72 L122.01,297.7 L122.72,297.68 L123.42,297.65 L124.12,297.63 L124.82,297.61 L125.53,297.59 L126.23,297.57 L126.93,297.55 L127.64,297.53 L128.34,297.52 L129.04,297.5 L129.75,297.48 L130.45,297.46 L131.15,297.45 L131.86,297.43 L132.56,297.42 L133.26,297.4 L133.97,297.39 L134.67,297.37 L135.37,297.36 L136.08,297.35 L136.78,297.33 L137.48,297.32 L138.19,297.31 L138.89,297.3 L139.59,297.28 L140.3,297.27 L141,297.26 L141.7,297.25 L142.41,297.24 L143.11,297.23 L143.81,297.22 L144.52,297.21 L145.22,297.2 L145.93,297.19 L146.64,297.18 L147.36,297.17 L148.08,297.15 L148.8,297.14 L149.52,297.13 L150.25,297.12 L150.97,297.11 L151.7,297.1 L152.42,297.09 L153.15,297.08 L153.87,297.07 L154.59,297.06 L155.31,297.05 L156.02,297.05 L156.73,297.04 L157.44,297.03 L158.13,297.02 L158.83,297.02 L159.51,297.01 L160.19,297.01 L160.86,297.01 L161.53,297 L162.18,297 L162.82,297 L163.48,297.05 L164.19,297.25 L164.91,297.59 L165.6,298.01 L166.21,298.5 L166.69,299.01 L167,299.51 L167.19,300.05 L167.32,300.68 L167.43,301.39 L167.52,302.13 L167.61,302.9 L167.71,303.66 L167.84,304.38 L168.01,305.04 L168.27,305.68 L168.62,306.32 L169.04,306.93 L169.5,307.49 L169.97,307.98 L170.48,308.39 L171.05,308.76 L171.66,309.11 L172.31,309.43 L172.97,309.73 L173.64,310.04 L174.28,310.34 L174.92,310.65 L175.55,310.95 L176.19,311.25 L176.83,311.54 L177.47,311.82 L178.12,312.11 L178.76,312.4 L179.4,312.69 L180.04,312.99 L180.67,313.29 L181.31,313.6 L181.94,313.9 L182.57,314.21 L183.21,314.51 L183.84,314.82 L184.48,315.11 L185.12,315.41 L185.76,315.7 L186.4,315.99 L187.05,316.26 L187.69,316.53 L188.34,316.8 L189,317.06 L189.65,317.32 L190.31,317.58 L190.96,317.83 L191.62,318.08 L192.28,318.33 L192.94,318.58 L193.6,318.83 L194.26,319.07 L194.92,319.32 L195.58,319.56 L196.24,319.8 L196.9,320.04 L197.56,320.28 L198.22,320.52 L198.88,320.76 L199.54,321 L200.21,321.23 L200.87,321.46 L201.54,321.69 L202.2,321.92 L202.87,322.15 L203.53,322.38 L204.2,322.6" fill="none" stroke="#000" stroke-width="2.6" stroke-linejoin="round" stroke-linecap="round"/>
<path d="M68.8,318.5 L69.24,317.91 L69.7,317.36 L70.2,316.85 L70.72,316.4 L71.27,316.02 L71.87,315.67 L72.51,315.35 L73.16,315.05 L73.84,314.78 L74.51,314.55 L75.18,314.35 L75.84,314.16 L76.51,313.97 L77.18,313.79 L77.86,313.61 L78.54,313.44 L79.22,313.27 L79.9,313.1 L80.59,312.94 L81.28,312.78 L81.97,312.63 L82.66,312.48 L83.36,312.34 L84.06,312.2 L84.75,312.06 L85.45,311.93 L86.16,311.8 L86.86,311.68 L87.56,311.57 L88.27,311.46 L88.97,311.35 L89.68,311.25 L90.38,311.15 L91.08,311.07 L91.79,310.98 L92.49,310.9 L93.2,310.83 L93.9,310.76 L94.6,310.7 L95.3,310.65 L96,310.6 L96.7,310.55 L97.4,310.51 L98.1,310.47 L98.8,310.43 L99.51,310.39 L100.21,310.35 L100.91,310.31 L101.61,310.27 L102.32,310.23 L103.02,310.2 L103.72,310.16 L104.43,310.13 L105.13,310.1 L105.84,310.06 L106.54,310.03 L107.25,310 L107.95,309.98 L108.66,309.95 L109.37,309.92 L110.07,309.89 L110.78,309.87 L111.49,309.85 L112.19,309.82 L112.9,309.8 L113.6,309.78 L114.31,309.76 L115.02,309.74 L115.72,309.72 L116.43,309.71 L117.14,309.69 L117.84,309.67 L118.55,309.66 L119.26,309.65 L119.96,309.63 L120.67,309.62 L121.37,309.61 L122.08,309.6 L122.78,309.59 L123.49,309.58 L124.19,309.57 L124.9,309.56 L125.6,309.55 L126.31,309.54 L127.01,309.53 L127.72,309.52 L128.42,309.52 L129.13,309.51 L129.83,309.5 L130.54,309.49 L131.24,309.48 L131.95,309.48 L132.65,309.47 L133.36,309.46 L134.06,309.45 L134.77,309.45 L135.47,309.44 L136.18,309.44 L136.89,309.43 L137.59,309.43 L138.3,309.42 L139,309.42 L139.71,309.41 L140.41,309.41 L141.12,309.41 L141.82,309.41 L142.53,309.4 L143.23,309.4 L143.94,309.4 L144.64,309.4 L145.35,309.4 L146.06,309.4 L146.77,309.4 L147.48,309.4 L148.19,309.4 L148.91,309.4 L149.63,309.4 L150.34,309.4 L151.06,309.4 L151.78,309.4 L152.5,309.4 L153.21,309.4 L153.93,309.4 L154.64,309.4 L155.36,309.4 L156.07,309.4 L156.78,309.4 L157.48,309.4 L158.18,309.4 L158.88,309.4 L159.58,309.4 L160.27,309.4 L160.95,309.4 L161.63,309.4 L162.31,309.4 L162.98,309.4 L163.68,309.47 L164.43,309.68 L165.16,309.98 L165.82,310.35 L166.35,310.75 L166.72,311.17 L166.98,311.73 L167.19,312.42 L167.38,313.17 L167.58,313.91 L167.84,314.59 L168.15,315.36 L168.51,316.09 L168.92,316.49 L169.43,316.39 L170.05,316.05 L170.74,315.64 L171.45,315.3 L172.13,315.2 L172.8,315.24 L173.47,315.34 L174.15,315.47 L174.84,315.65 L175.53,315.85 L176.22,316.06 L176.91,316.29 L177.6,316.52 L178.29,316.74 L178.97,316.94 L179.66,317.12 L180.33,317.31 L181.01,317.5 L181.69,317.7 L182.37,317.89 L183.04,318.09 L183.72,318.29 L184.4,318.49 L185.08,318.69 L185.75,318.88 L186.43,319.07 L187.11,319.26 L187.79,319.44 L188.48,319.62 L189.16,319.8 L189.84,319.98 L190.52,320.16 L191.21,320.33 L191.89,320.51 L192.57,320.68 L193.26,320.86 L193.94,321.03 L194.62,321.21 L195.31,321.38 L195.99,321.55 L196.67,321.73 L197.36,321.9 L198.04,322.07 L198.72,322.24 L199.41,322.41 L200.09,322.59 L200.78,322.76 L201.46,322.93 L202.15,323.09 L202.83,323.26 L203.52,323.43 L204.2,323.6" fill="none" stroke="#000" stroke-width="2.6" stroke-linejoin="round" stroke-linecap="round"/>
<path d="M69,321.5 L69.51,320.98 L70.03,320.49 L70.56,320.02 L71.11,319.58 L71.68,319.19 L72.27,318.85 L72.88,318.52 L73.51,318.21 L74.15,317.92 L74.81,317.64 L75.48,317.39 L76.16,317.15 L76.84,316.93 L77.51,316.73 L78.18,316.55 L78.86,316.38 L79.53,316.22 L80.21,316.06 L80.89,315.9 L81.58,315.74 L82.26,315.59 L82.95,315.44 L83.64,315.29 L84.34,315.15 L85.03,315.01 L85.73,314.88 L86.43,314.75 L87.13,314.63 L87.83,314.51 L88.53,314.4 L89.23,314.3 L89.93,314.2 L90.63,314.1 L91.34,314.01 L92.04,313.93 L92.74,313.86 L93.44,313.79 L94.15,313.73 L94.85,313.67 L95.55,313.63 L96.25,313.59 L96.95,313.55 L97.65,313.51 L98.35,313.48 L99.05,313.44 L99.75,313.41 L100.45,313.38 L101.15,313.35 L101.85,313.32 L102.55,313.29 L103.26,313.26 L103.96,313.24 L104.66,313.21 L105.37,313.18 L106.07,313.16 L106.78,313.14 L107.48,313.11 L108.19,313.09 L108.89,313.07 L109.6,313.05 L110.3,313.03 L111.01,313.01 L111.71,312.99 L112.42,312.98 L113.12,312.96 L113.83,312.94 L114.53,312.93 L115.24,312.91 L115.94,312.9 L116.65,312.89 L117.35,312.87 L118.06,312.86 L118.76,312.85 L119.47,312.84 L120.17,312.83 L120.88,312.82 L121.58,312.81 L122.28,312.8 L122.99,312.79 L123.69,312.78 L124.39,312.77 L125.1,312.76 L125.8,312.76 L126.51,312.75 L127.21,312.74 L127.91,312.73 L128.62,312.73 L129.32,312.72 L130.03,312.72 L130.73,312.71 L131.43,312.71 L132.14,312.7 L132.84,312.69 L133.55,312.69 L134.25,312.68 L134.95,312.68 L135.66,312.67 L136.36,312.67 L137.07,312.66 L137.77,312.66 L138.47,312.65 L139.18,312.65 L139.88,312.64 L140.59,312.64 L141.29,312.63 L141.99,312.63 L142.7,312.62 L143.4,312.61 L144.11,312.61 L144.81,312.6 L145.51,312.59 L146.22,312.59 L146.93,312.58 L147.63,312.57 L148.34,312.56 L149.05,312.55 L149.76,312.54 L150.47,312.53 L151.18,312.52 L151.89,312.51 L152.59,312.5 L153.3,312.49 L154.01,312.48 L154.72,312.47 L155.43,312.46 L156.13,312.45 L156.84,312.44 L157.54,312.43 L158.24,312.43 L158.94,312.42 L159.64,312.41 L160.34,312.41 L161.04,312.4 L161.73,312.4 L162.42,312.4 L163.11,312.4 L163.87,312.46 L164.68,312.59 L165.47,312.78 L166.18,313.02 L166.73,313.29 L167.07,313.59 L167.28,314.05 L167.43,314.69 L167.55,315.45 L167.67,316.27 L167.79,317.09 L167.96,317.85 L168.19,318.48 L168.62,319.09 L169.21,319.56 L169.74,319.49 L170.26,319.01 L170.78,318.34 L171.32,317.73 L171.89,317.41 L172.5,317.41 L173.15,317.44 L173.82,317.49 L174.52,317.55 L175.24,317.63 L175.97,317.72 L176.7,317.82 L177.43,317.93 L178.16,318.04 L178.87,318.15 L179.56,318.26 L180.25,318.39 L180.93,318.54 L181.61,318.71 L182.29,318.9 L182.97,319.09 L183.65,319.29 L184.33,319.49 L185.01,319.69 L185.69,319.88 L186.37,320.06 L187.05,320.24 L187.74,320.4 L188.42,320.57 L189.11,320.73 L189.79,320.89 L190.48,321.05 L191.16,321.21 L191.85,321.37 L192.53,321.52 L193.22,321.68 L193.91,321.84 L194.59,322 L195.28,322.16 L195.96,322.32 L196.65,322.47 L197.34,322.63 L198.02,322.79 L198.71,322.95 L199.4,323.1 L200.08,323.26 L200.77,323.42 L201.45,323.58 L202.14,323.73 L202.83,323.89 L203.51,324.04 L204.2,324.2" fill="none" stroke="#000" stroke-width="2.6" stroke-linejoin="round" stroke-linecap="round"/>
<path d="M69.2,324.5 L69.67,323.94 L70.15,323.39 L70.65,322.87 L71.17,322.4 L71.71,321.99 L72.28,321.64 L72.87,321.31 L73.48,321 L74.12,320.7 L74.78,320.42 L75.44,320.16 L76.12,319.91 L76.81,319.68 L77.5,319.46 L78.2,319.26 L78.89,319.07 L79.57,318.9 L80.25,318.74 L80.93,318.59 L81.61,318.44 L82.3,318.3 L82.99,318.16 L83.68,318.02 L84.37,317.89 L85.07,317.76 L85.76,317.63 L86.46,317.51 L87.16,317.39 L87.86,317.28 L88.56,317.17 L89.27,317.07 L89.97,316.97 L90.68,316.88 L91.38,316.8 L92.09,316.72 L92.79,316.65 L93.49,316.58 L94.2,316.52 L94.9,316.47 L95.6,316.42 L96.3,316.38 L97.01,316.35 L97.71,316.31 L98.41,316.28 L99.11,316.25 L99.82,316.21 L100.52,316.18 L101.22,316.15 L101.93,316.13 L102.63,316.1 L103.33,316.07 L104.04,316.05 L104.74,316.02 L105.45,316 L106.15,315.98 L106.86,315.96 L107.57,315.94 L108.27,315.92 L108.98,315.9 L109.68,315.88 L110.39,315.86 L111.1,315.84 L111.8,315.82 L112.51,315.81 L113.22,315.79 L113.92,315.78 L114.63,315.76 L115.33,315.74 L116.04,315.73 L116.75,315.71 L117.45,315.7 L118.16,315.68 L118.87,315.67 L119.57,315.65 L120.28,315.64 L120.98,315.62 L121.69,315.61 L122.39,315.59 L123.1,315.58 L123.8,315.56 L124.51,315.55 L125.21,315.53 L125.92,315.52 L126.62,315.5 L127.33,315.49 L128.03,315.47 L128.74,315.46 L129.44,315.45 L130.15,315.43 L130.85,315.42 L131.56,315.41 L132.27,315.4 L132.97,315.38 L133.68,315.37 L134.38,315.36 L135.09,315.35 L135.79,315.34 L136.5,315.33 L137.2,315.31 L137.91,315.3 L138.61,315.29 L139.32,315.28 L140.02,315.27 L140.73,315.26 L141.43,315.25 L142.14,315.24 L142.84,315.23 L143.55,315.22 L144.26,315.21 L144.96,315.2 L145.67,315.19 L146.37,315.18 L147.08,315.17 L147.78,315.16 L148.49,315.15 L149.2,315.14 L149.9,315.13 L150.61,315.12 L151.32,315.11 L152.02,315.1 L152.73,315.09 L153.44,315.08 L154.14,315.07 L154.85,315.06 L155.55,315.05 L156.26,315.04 L156.97,315.03 L157.67,315.03 L158.38,315.02 L159.08,315.02 L159.78,315.01 L160.49,315.01 L161.19,315 L161.89,315 L162.6,315 L163.31,315 L164.09,315.04 L164.91,315.1 L165.72,315.2 L166.45,315.32 L167.04,315.46 L167.44,315.62 L167.69,316.02 L167.87,316.7 L168.02,317.52 L168.19,318.37 L168.41,319.12 L168.74,319.68 L169.36,320.14 L169.95,320.1 L170.53,319.65 L171.1,319.08 L171.7,318.66 L172.33,318.6 L172.99,318.62 L173.68,318.64 L174.38,318.68 L175.09,318.72 L175.81,318.78 L176.54,318.84 L177.27,318.91 L177.99,318.98 L178.7,319.05 L179.4,319.12 L180.1,319.22 L180.79,319.33 L181.48,319.47 L182.17,319.62 L182.86,319.79 L183.54,319.96 L184.23,320.14 L184.91,320.32 L185.6,320.49 L186.29,320.66 L186.98,320.82 L187.67,320.97 L188.35,321.12 L189.04,321.27 L189.73,321.43 L190.42,321.58 L191.11,321.73 L191.8,321.88 L192.49,322.03 L193.18,322.19 L193.86,322.34 L194.55,322.49 L195.24,322.64 L195.93,322.79 L196.62,322.94 L197.31,323.09 L198,323.25 L198.69,323.4 L199.38,323.55 L200.07,323.7 L200.75,323.85 L201.44,324 L202.13,324.15 L202.82,324.3 L203.51,324.45 L204.2,324.6" fill="none" stroke="#000" stroke-width="2.6" stroke-linejoin="round" stroke-linecap="round"/>
<path d="M69.2,326.5 L69.58,325.85 L69.98,325.22 L70.4,324.61 L70.85,324.06 L71.32,323.56 L71.82,323.13 L72.34,322.77 L72.91,322.44 L73.51,322.13 L74.14,321.83 L74.8,321.55 L75.48,321.29 L76.17,321.05 L76.88,320.83 L77.58,320.61 L78.29,320.42 L79,320.24 L79.69,320.07 L80.37,319.92 L81.05,319.77 L81.73,319.62 L82.42,319.47 L83.1,319.33 L83.8,319.2 L84.49,319.06 L85.19,318.93 L85.88,318.81 L86.58,318.69 L87.28,318.57 L87.98,318.46 L88.69,318.35 L89.39,318.25 L90.09,318.16 L90.8,318.07 L91.5,317.98 L92.21,317.91 L92.91,317.83 L93.62,317.77 L94.32,317.71 L95.03,317.66 L95.73,317.62 L96.43,317.58 L97.13,317.54 L97.83,317.51 L98.54,317.47 L99.24,317.44 L99.94,317.41 L100.65,317.38 L101.35,317.35 L102.05,317.32 L102.76,317.3 L103.46,317.27 L104.17,317.24 L104.87,317.22 L105.58,317.2 L106.28,317.18 L106.99,317.15 L107.7,317.13 L108.4,317.11 L109.11,317.09 L109.82,317.08 L110.52,317.06 L111.23,317.04 L111.94,317.02 L112.64,317 L113.35,316.99 L114.06,316.97 L114.76,316.96 L115.47,316.94 L116.18,316.93 L116.88,316.91 L117.59,316.9 L118.29,316.88 L119,316.86 L119.71,316.85 L120.41,316.83 L121.12,316.82 L121.82,316.8 L122.53,316.79 L123.23,316.77 L123.94,316.76 L124.65,316.74 L125.35,316.73 L126.06,316.71 L126.76,316.7 L127.47,316.69 L128.17,316.67 L128.88,316.66 L129.58,316.65 L130.29,316.63 L131,316.62 L131.7,316.61 L132.41,316.59 L133.11,316.58 L133.82,316.57 L134.52,316.56 L135.23,316.55 L135.93,316.53 L136.64,316.52 L137.35,316.51 L138.05,316.5 L138.76,316.49 L139.46,316.48 L140.17,316.47 L140.87,316.46 L141.58,316.45 L142.28,316.44 L142.99,316.43 L143.7,316.42 L144.4,316.41 L145.11,316.4 L145.81,316.39 L146.52,316.38 L147.23,316.37 L147.93,316.36 L148.64,316.35 L149.34,316.34 L150.05,316.33 L150.76,316.32 L151.46,316.31 L152.17,316.3 L152.88,316.29 L153.58,316.28 L154.29,316.27 L155,316.26 L155.7,316.25 L156.41,316.24 L157.11,316.23 L157.82,316.23 L158.53,316.22 L159.23,316.21 L159.93,316.21 L160.64,316.21 L161.34,316.2 L162.05,316.2 L162.75,316.2 L163.47,316.21 L164.27,316.24 L165.11,316.3 L165.92,316.38 L166.67,316.49 L167.29,316.62 L167.73,316.77 L167.99,317.08 L168.16,317.76 L168.3,318.63 L168.44,319.5 L168.65,320.19 L169.04,320.55 L169.79,320.78 L170.43,320.66 L171.03,320.17 L171.62,319.71 L172.26,319.6 L172.92,319.6 L173.6,319.61 L174.31,319.63 L175.02,319.64 L175.74,319.66 L176.47,319.69 L177.19,319.71 L177.91,319.74 L178.63,319.77 L179.33,319.81 L180.03,319.87 L180.72,319.96 L181.41,320.08 L182.1,320.23 L182.79,320.39 L183.48,320.56 L184.17,320.74 L184.86,320.92 L185.55,321.09 L186.24,321.26 L186.93,321.41 L187.62,321.54 L188.31,321.68 L189.01,321.81 L189.7,321.95 L190.39,322.08 L191.09,322.21 L191.78,322.34 L192.47,322.48 L193.17,322.61 L193.86,322.75 L194.55,322.89 L195.24,323.03 L195.93,323.18 L196.62,323.32 L197.31,323.47 L198,323.62 L198.69,323.76 L199.38,323.91 L200.07,324.07 L200.76,324.22 L201.45,324.37 L202.14,324.53 L202.82,324.68 L203.51,324.84 L204.2,325" fill="none" stroke="#000" stroke-width="2.6" stroke-linejoin="round" stroke-linecap="round"/>
<text x="269" y="207.4" font-size="23" font-weight="bold" text-anchor="start" textLength="18" lengthAdjust="spacingAndGlyphs" stroke="#000" stroke-width="0.2">D</text>
<line x1="309.5" y1="211.4" x2="309.5" y2="350.7" stroke="#000" stroke-width="1.3"/>
<line x1="306.5" y1="333.2" x2="309.5" y2="333.2" stroke="#000" stroke-width="1.3"/>
<line x1="306.5" y1="315.93" x2="309.5" y2="315.93" stroke="#000" stroke-width="1.3"/>
<line x1="306.5" y1="298.66" x2="309.5" y2="298.66" stroke="#000" stroke-width="1.3"/>
<line x1="306.5" y1="281.39" x2="309.5" y2="281.39" stroke="#000" stroke-width="1.3"/>
<line x1="306.5" y1="264.12" x2="309.5" y2="264.12" stroke="#000" stroke-width="1.3"/>
<line x1="306.5" y1="246.85" x2="309.5" y2="246.85" stroke="#000" stroke-width="1.3"/>
<line x1="306.5" y1="229.58" x2="309.5" y2="229.58" stroke="#000" stroke-width="1.3"/>
<line x1="306.5" y1="212.31" x2="309.5" y2="212.31" stroke="#000" stroke-width="1.3"/>
<line x1="308.9" y1="350.7" x2="505.8" y2="350.7" stroke="#000" stroke-width="1.3"/>
<line x1="310.1" y1="350.7" x2="310.1" y2="353.7" stroke="#000" stroke-width="1.3"/>
<line x1="338" y1="350.7" x2="338" y2="353.7" stroke="#000" stroke-width="1.3"/>
<line x1="365.9" y1="350.7" x2="365.9" y2="353.7" stroke="#000" stroke-width="1.3"/>
<line x1="393.8" y1="350.7" x2="393.8" y2="353.7" stroke="#000" stroke-width="1.3"/>
<line x1="421.7" y1="350.7" x2="421.7" y2="353.7" stroke="#000" stroke-width="1.3"/>
<line x1="449.6" y1="350.7" x2="449.6" y2="353.7" stroke="#000" stroke-width="1.3"/>
<line x1="477.5" y1="350.7" x2="477.5" y2="353.7" stroke="#000" stroke-width="1.3"/>
<line x1="505.4" y1="350.7" x2="505.4" y2="353.7" stroke="#000" stroke-width="1.3"/>
<text x="303.2" y="336.9" font-size="10.3" font-weight="bold" text-anchor="end" textLength="4.4" lengthAdjust="spacingAndGlyphs" stroke="#000" stroke-width="0.2">0</text>
<text x="303.2" y="319.63" font-size="10.3" font-weight="bold" text-anchor="end" textLength="8.6" lengthAdjust="spacingAndGlyphs" stroke="#000" stroke-width="0.2">20</text>
<text x="303.2" y="302.36" font-size="10.3" font-weight="bold" text-anchor="end" textLength="8.6" lengthAdjust="spacingAndGlyphs" stroke="#000" stroke-width="0.2">40</text>
<text x="303.2" y="285.09" font-size="10.3" font-weight="bold" text-anchor="end" textLength="8.6" lengthAdjust="spacingAndGlyphs" stroke="#000" stroke-width="0.2">60</text>
<text x="303.2" y="267.82" font-size="10.3" font-weight="bold" text-anchor="end" textLength="8.6" lengthAdjust="spacingAndGlyphs" stroke="#000" stroke-width="0.2">80</text>
<text x="303.2" y="250.55" font-size="10.3" font-weight="bold" text-anchor="end" textLength="12.4" lengthAdjust="spacingAndGlyphs" stroke="#000" stroke-width="0.2">100</text>
<text x="303.2" y="233.28" font-size="10.3" font-weight="bold" text-anchor="end" textLength="12.4" lengthAdjust="spacingAndGlyphs" stroke="#000" stroke-width="0.2">120</text>
<text x="303.2" y="216.01" font-size="10.3" font-weight="bold" text-anchor="end" textLength="12.4" lengthAdjust="spacingAndGlyphs" stroke="#000" stroke-width="0.2">140</text>
<text x="338.4" y="367" font-size="11.6" font-weight="bold" text-anchor="middle" textLength="4.4" lengthAdjust="spacingAndGlyphs" stroke="#000" stroke-width="0.2">0</text>
<text x="366.3" y="367" font-size="11.6" font-weight="bold" text-anchor="middle" textLength="8.8" lengthAdjust="spacingAndGlyphs" stroke="#000" stroke-width="0.2">50</text>
<text x="394.2" y="367" font-size="11.6" font-weight="bold" text-anchor="middle" textLength="13" lengthAdjust="spacingAndGlyphs" stroke="#000" stroke-width="0.2">100</text>
<text x="422.1" y="367" font-size="11.6" font-weight="bold" text-anchor="middle" textLength="13" lengthAdjust="spacingAndGlyphs" stroke="#000" stroke-width="0.2">150</text>
<text x="450" y="367" font-size="11.6" font-weight="bold" text-anchor="middle" textLength="13" lengthAdjust="spacingAndGlyphs" stroke="#000" stroke-width="0.2">200</text>
<text x="477.9" y="367" font-size="11.6" font-weight="bold" text-anchor="middle" textLength="13" lengthAdjust="spacingAndGlyphs" stroke="#000" stroke-width="0.2">250</text>
<text x="505.8" y="367" font-size="11.6" font-weight="bold" text-anchor="middle" textLength="13" lengthAdjust="spacingAndGlyphs" stroke="#000" stroke-width="0.2">300</text>
<text x="396.2" y="383" font-size="11" font-weight="bold" text-anchor="start" textLength="31.9" lengthAdjust="spacingAndGlyphs" stroke="#000" stroke-width="0.2">Time (s)</text>
<text transform="translate(278.8,325.1) rotate(-90)" x="0" y="0" font-size="10.3" font-weight="bold" textLength="101.7" lengthAdjust="spacingAndGlyphs" stroke="#000" stroke-width="0.2">Response Units (RU)</text>
<text x="491.6" y="226.2" font-size="8.3" font-weight="bold" text-anchor="start" textLength="17.9" lengthAdjust="spacingAndGlyphs" stroke="#000" stroke-width="0.2">(nM)</text>
<line x1="488.8" y1="237.5" x2="488.8" y2="332.6" stroke="#000" stroke-width="1.3"/>
<line x1="488.8" y1="238.2" x2="493.5" y2="238.2" stroke="#000" stroke-width="1.3"/>
<text x="498.8" y="241.2" font-size="8.3" font-weight="bold" text-anchor="start" textLength="13" lengthAdjust="spacingAndGlyphs" stroke="#000" stroke-width="0.2">1000</text>
<line x1="488.8" y1="248.67" x2="493.5" y2="248.67" stroke="#000" stroke-width="1.3"/>
<text x="498.8" y="251.67" font-size="8.3" font-weight="bold" text-anchor="start" textLength="9.8" lengthAdjust="spacingAndGlyphs" stroke="#000" stroke-width="0.2">500</text>
<line x1="488.8" y1="259.14" x2="493.5" y2="259.14" stroke="#000" stroke-width="1.3"/>
<text x="498.8" y="262.14" font-size="8.3" font-weight="bold" text-anchor="start" textLength="9.8" lengthAdjust="spacingAndGlyphs" stroke="#000" stroke-width="0.2">250</text>
<line x1="488.8" y1="269.61" x2="493.5" y2="269.61" stroke="#000" stroke-width="1.3"/>
<text x="498.8" y="272.61" font-size="8.3" font-weight="bold" text-anchor="start" textLength="9.8" lengthAdjust="spacingAndGlyphs" stroke="#000" stroke-width="0.2">125</text>
<line x1="488.8" y1="280.08" x2="493.5" y2="280.08" stroke="#000" stroke-width="1.3"/>
<text x="498.8" y="283.08" font-size="8.3" font-weight="bold" text-anchor="start" textLength="12" lengthAdjust="spacingAndGlyphs" stroke="#000" stroke-width="0.2">62.5</text>
<line x1="488.8" y1="290.55" x2="493.5" y2="290.55" stroke="#000" stroke-width="1.3"/>
<text x="498.8" y="293.55" font-size="8.3" font-weight="bold" text-anchor="start" textLength="12" lengthAdjust="spacingAndGlyphs" stroke="#000" stroke-width="0.2">31.3</text>
<line x1="488.8" y1="301.02" x2="493.5" y2="301.02" stroke="#000" stroke-width="1.3"/>
<text x="498.8" y="304.02" font-size="8.3" font-weight="bold" text-anchor="start" textLength="12" lengthAdjust="spacingAndGlyphs" stroke="#000" stroke-width="0.2">15.6</text>
<line x1="488.8" y1="311.49" x2="493.5" y2="311.49" stroke="#000" stroke-width="1.3"/>
<text x="498.8" y="314.49" font-size="8.3" font-weight="bold" text-anchor="start" textLength="9" lengthAdjust="spacingAndGlyphs" stroke="#000" stroke-width="0.2">7.8</text>
<line x1="488.8" y1="321.96" x2="493.5" y2="321.96" stroke="#000" stroke-width="1.3"/>
<text x="498.8" y="324.96" font-size="8.3" font-weight="bold" text-anchor="start" textLength="9" lengthAdjust="spacingAndGlyphs" stroke="#000" stroke-width="0.2">3.9</text>
<line x1="488.8" y1="332.43" x2="493.5" y2="332.43" stroke="#000" stroke-width="1.3"/>
<text x="498.8" y="335.43" font-size="8.3" font-weight="bold" text-anchor="start" textLength="12" lengthAdjust="spacingAndGlyphs" stroke="#000" stroke-width="0.2">1.95</text>
<line x1="479.2" y1="320.3" x2="488.5" y2="311.6" stroke="#000" stroke-width="1.2"/>
<line x1="478.4" y1="328.9" x2="488.5" y2="331.8" stroke="#000" stroke-width="1.2"/>
<path d="M314,333.2 L314.73,333.17 L315.47,333.15 L316.2,333.13 L316.93,333.1 L317.67,333.09 L318.4,333.07 L319.13,333.05 L319.86,333.04 L320.6,333.03 L321.33,333.02 L322.06,333.01 L322.8,333.01 L323.53,333 L324.26,333 L325,333 L325.73,333 L326.47,333 L327.2,333.01 L327.94,333.02 L328.68,333.03 L329.41,333.04 L330.15,333.05 L330.89,333.07 L331.62,333.08 L332.35,333.11 L333.08,333.13 L333.81,333.15 L334.53,333.18 L335.25,333.22 L335.97,333.31 L336.68,333.47 L337.39,333.67 L338.1,333.9 L338.8,334.15 L339.5,334.4" fill="none" stroke="#000" stroke-width="3.0" stroke-linejoin="round" stroke-linecap="round"/>
<path d="M339.5,334.6 L339.68,333.92 L339.86,333.23 L340.04,332.55 L340.22,331.87 L340.4,331.18 L340.57,330.5 L340.75,329.81 L340.92,329.13 L341.09,328.44 L341.26,327.76 L341.41,327.06 L341.56,326.35 L341.69,325.63 L341.82,324.9 L341.96,324.18 L342.09,323.46 L342.23,322.76 L342.39,322.06 L342.56,321.38 L342.75,320.73 L342.96,320.1 L343.2,319.51 L343.51,318.92 L343.91,318.34 L344.38,317.77 L344.91,317.23 L345.47,316.73 L346.04,316.3 L346.6,315.94 L347.19,315.62 L347.82,315.32 L348.47,315.04 L349.15,314.78 L349.84,314.55 L350.54,314.34 L351.24,314.16 L351.93,314.01 L352.61,313.89 L353.3,313.77 L353.99,313.66 L354.68,313.55 L355.38,313.46 L356.08,313.36 L356.78,313.28 L357.49,313.2 L358.19,313.12 L358.9,313.05 L359.61,312.98 L360.32,312.91 L361.03,312.85 L361.74,312.79 L362.44,312.73 L363.15,312.67 L363.86,312.61 L364.56,312.55 L365.26,312.5 L365.97,312.44 L366.67,312.39 L367.37,312.34 L368.08,312.29 L368.78,312.24 L369.49,312.19 L370.19,312.15 L370.9,312.1 L371.6,312.06 L372.31,312.01 L373.02,311.97 L373.72,311.93 L374.43,311.89 L375.13,311.85 L375.84,311.81 L376.54,311.78 L377.25,311.74 L377.95,311.7 L378.66,311.67 L379.37,311.63 L380.07,311.6 L380.78,311.56 L381.48,311.53 L382.19,311.5 L382.89,311.46 L383.6,311.43 L384.3,311.4 L385.01,311.37 L385.72,311.34 L386.42,311.31 L387.13,311.28 L387.83,311.25 L388.54,311.22 L389.25,311.19 L389.95,311.16 L390.66,311.14 L391.36,311.11 L392.07,311.08 L392.78,311.06 L393.48,311.03 L394.19,311 L394.89,310.98 L395.6,310.95 L396.31,310.93 L397.01,310.9 L397.72,310.88 L398.42,310.85 L399.13,310.83 L399.84,310.81 L400.54,310.78 L401.25,310.76 L401.95,310.73 L402.66,310.7 L403.37,310.67 L404.07,310.65 L404.78,310.62 L405.48,310.59 L406.19,310.56 L406.9,310.53 L407.6,310.51 L408.31,310.48 L409.01,310.45 L409.72,310.42 L410.43,310.4 L411.13,310.37 L411.84,310.35 L412.54,310.33 L413.25,310.31 L413.96,310.29 L414.66,310.27 L415.37,310.25 L416.08,310.24 L416.78,310.23 L417.49,310.22 L418.19,310.21 L418.9,310.2 L419.61,310.2 L420.31,310.2 L421.02,310.2 L421.73,310.2 L422.43,310.2 L423.14,310.2 L423.85,310.2 L424.55,310.2 L425.26,310.2 L425.97,310.2 L426.67,310.2 L427.38,310.2 L428.09,310.2 L428.79,310.2 L429.5,310.2 L430.21,310.2 L430.91,310.2 L431.62,310.2 L432.33,310.2 L433.03,310.2 L433.74,310.2 L434.44,310.2 L435.15,310.2 L435.86,310.2 L436.56,310.2 L437.27,310.2 L437.97,310.21 L438.68,310.24 L439.38,310.28 L440.09,310.33 L440.79,310.39 L441.5,310.46 L442.2,310.54 L442.91,310.62 L443.61,310.7 L444.31,310.79 L445.01,310.88 L445.71,310.96 L446.41,311.05 L447.11,311.15 L447.81,311.26 L448.5,311.37 L449.2,311.5 L449.9,311.63 L450.59,311.77 L451.29,311.92 L451.98,312.07 L452.67,312.23 L453.36,312.39 L454.04,312.56 L454.72,312.73 L455.4,312.91 L456.08,313.11 L456.75,313.32 L457.41,313.56 L458.08,313.8 L458.74,314.05 L459.4,314.31 L460.06,314.56 L460.73,314.81 L461.39,315.06 L462.06,315.29 L462.73,315.52 L463.4,315.72 L464.08,315.92 L464.76,316.11 L465.44,316.3 L466.12,316.48 L466.81,316.66 L467.49,316.84 L468.18,317.02 L468.86,317.19 L469.54,317.38 L470.22,317.56 L470.91,317.75 L471.59,317.93 L472.27,318.12 L472.95,318.31 L473.63,318.49 L474.31,318.68 L474.99,318.86 L475.68,319.05 L476.36,319.24 L477.04,319.43 L477.72,319.61 L478.4,319.8" fill="none" stroke="#000" stroke-width="2.4" stroke-linejoin="round" stroke-linecap="round"/>
<path d="M339.5,334.6 L339.7,333.92 L339.89,333.24 L340.08,332.56 L340.27,331.88 L340.46,331.21 L340.65,330.52 L340.84,329.84 L341.02,329.16 L341.2,328.48 L341.37,327.79 L341.52,327.07 L341.67,326.35 L341.81,325.62 L341.94,324.88 L342.08,324.16 L342.23,323.45 L342.4,322.76 L342.58,322.09 L342.78,321.45 L343.01,320.86 L343.28,320.3 L343.66,319.77 L344.15,319.26 L344.72,318.77 L345.33,318.32 L345.95,317.92 L346.56,317.57 L347.16,317.25 L347.8,316.95 L348.45,316.67 L349.12,316.41 L349.81,316.17 L350.49,315.96 L351.18,315.78 L351.87,315.63 L352.55,315.5 L353.23,315.38 L353.92,315.27 L354.62,315.16 L355.31,315.07 L356.01,314.97 L356.72,314.89 L357.42,314.81 L358.12,314.73 L358.83,314.66 L359.54,314.59 L360.25,314.52 L360.96,314.46 L361.66,314.4 L362.37,314.34 L363.08,314.28 L363.78,314.22 L364.48,314.16 L365.19,314.1 L365.89,314.05 L366.59,314 L367.3,313.95 L368,313.89 L368.7,313.85 L369.41,313.8 L370.11,313.75 L370.82,313.71 L371.52,313.66 L372.23,313.62 L372.93,313.58 L373.64,313.54 L374.34,313.5 L375.05,313.46 L375.75,313.42 L376.46,313.38 L377.16,313.34 L377.87,313.31 L378.57,313.27 L379.27,313.24 L379.98,313.2 L380.68,313.17 L381.39,313.13 L382.09,313.1 L382.8,313.07 L383.5,313.04 L384.21,313 L384.91,312.97 L385.62,312.94 L386.32,312.91 L387.03,312.88 L387.73,312.85 L388.44,312.82 L389.14,312.8 L389.85,312.77 L390.56,312.74 L391.26,312.71 L391.97,312.69 L392.67,312.66 L393.38,312.63 L394.08,312.61 L394.79,312.58 L395.49,312.56 L396.2,312.53 L396.9,312.51 L397.61,312.48 L398.31,312.46 L399.02,312.43 L399.72,312.41 L400.43,312.39 L401.13,312.36 L401.84,312.33 L402.54,312.31 L403.25,312.28 L403.96,312.25 L404.66,312.22 L405.37,312.2 L406.07,312.17 L406.78,312.14 L407.48,312.11 L408.19,312.08 L408.89,312.06 L409.6,312.03 L410.3,312 L411.01,311.98 L411.71,311.95 L412.42,311.93 L413.13,311.91 L413.83,311.89 L414.54,311.87 L415.24,311.86 L415.95,311.84 L416.65,311.83 L417.36,311.82 L418.06,311.81 L418.77,311.8 L419.47,311.8 L420.18,311.8 L420.89,311.8 L421.59,311.8 L422.3,311.8 L423,311.8 L423.71,311.8 L424.42,311.8 L425.12,311.8 L425.83,311.8 L426.53,311.8 L427.24,311.8 L427.95,311.8 L428.65,311.8 L429.36,311.8 L430.07,311.8 L430.77,311.8 L431.48,311.8 L432.18,311.8 L432.89,311.8 L433.59,311.8 L434.3,311.8 L435,311.8 L435.71,311.8 L436.41,311.8 L437.12,311.8 L437.82,311.81 L438.53,311.84 L439.23,311.87 L439.94,311.92 L440.64,311.98 L441.34,312.05 L442.05,312.12 L442.75,312.2 L443.45,312.29 L444.15,312.37 L444.86,312.46 L445.56,312.55 L446.25,312.63 L446.95,312.72 L447.65,312.82 L448.35,312.93 L449.05,313.04 L449.75,313.16 L450.44,313.28 L451.14,313.42 L451.83,313.55 L452.52,313.69 L453.21,313.84 L453.9,313.99 L454.59,314.15 L455.27,314.3 L455.95,314.48 L456.63,314.67 L457.31,314.88 L457.98,315.09 L458.65,315.32 L459.32,315.54 L459.99,315.77 L460.66,316 L461.33,316.22 L462.01,316.43 L462.68,316.63 L463.36,316.82 L464.04,317 L464.73,317.17 L465.41,317.34 L466.1,317.51 L466.78,317.67 L467.47,317.84 L468.16,318 L468.84,318.17 L469.53,318.34 L470.21,318.51 L470.9,318.69 L471.58,318.87 L472.26,319.04 L472.95,319.22 L473.63,319.4 L474.31,319.58 L474.99,319.76 L475.67,319.94 L476.36,320.13 L477.04,320.31 L477.72,320.49 L478.4,320.68" fill="none" stroke="#000" stroke-width="2.4" stroke-linejoin="round" stroke-linecap="round"/>
<path d="M339.5,334.6 L339.71,333.93 L339.92,333.25 L340.13,332.58 L340.34,331.9 L340.54,331.23 L340.74,330.55 L340.94,329.88 L341.13,329.2 L341.32,328.51 L341.49,327.8 L341.64,327.06 L341.79,326.32 L341.93,325.57 L342.08,324.84 L342.24,324.12 L342.41,323.43 L342.6,322.77 L342.83,322.17 L343.08,321.63 L343.4,321.14 L343.88,320.69 L344.47,320.27 L345.13,319.89 L345.82,319.54 L346.47,319.22 L347.1,318.91 L347.74,318.62 L348.39,318.34 L349.06,318.07 L349.73,317.82 L350.4,317.6 L351.08,317.41 L351.76,317.25 L352.44,317.12 L353.13,317 L353.82,316.88 L354.51,316.78 L355.21,316.68 L355.9,316.59 L356.61,316.5 L357.31,316.42 L358.01,316.34 L358.72,316.27 L359.43,316.2 L360.13,316.13 L360.84,316.07 L361.55,316 L362.26,315.94 L362.96,315.89 L363.67,315.83 L364.37,315.77 L365.07,315.71 L365.77,315.66 L366.48,315.61 L367.18,315.55 L367.88,315.5 L368.59,315.45 L369.29,315.41 L370,315.36 L370.7,315.31 L371.4,315.27 L372.11,315.23 L372.81,315.18 L373.52,315.14 L374.22,315.1 L374.93,315.06 L375.63,315.02 L376.33,314.99 L377.04,314.95 L377.74,314.91 L378.45,314.88 L379.15,314.84 L379.86,314.81 L380.56,314.77 L381.27,314.74 L381.97,314.71 L382.68,314.67 L383.38,314.64 L384.08,314.61 L384.79,314.58 L385.49,314.55 L386.2,314.52 L386.9,314.49 L387.61,314.46 L388.31,314.43 L389.02,314.4 L389.72,314.37 L390.43,314.35 L391.13,314.32 L391.84,314.29 L392.54,314.27 L393.25,314.24 L393.95,314.21 L394.66,314.19 L395.36,314.16 L396.07,314.14 L396.77,314.11 L397.48,314.09 L398.18,314.06 L398.89,314.04 L399.59,314.01 L400.3,313.99 L401,313.96 L401.71,313.94 L402.41,313.91 L403.12,313.88 L403.82,313.86 L404.53,313.83 L405.23,313.8 L405.94,313.77 L406.64,313.74 L407.35,313.72 L408.05,313.69 L408.76,313.66 L409.46,313.63 L410.17,313.61 L410.87,313.58 L411.58,313.56 L412.28,313.54 L412.99,313.51 L413.69,313.49 L414.4,313.48 L415.1,313.46 L415.81,313.44 L416.51,313.43 L417.22,313.42 L417.92,313.41 L418.63,313.41 L419.33,313.4 L420.04,313.4 L420.74,313.4 L421.45,313.4 L422.15,313.4 L422.86,313.4 L423.57,313.4 L424.27,313.4 L424.98,313.4 L425.68,313.4 L426.39,313.4 L427.09,313.4 L427.8,313.4 L428.51,313.4 L429.21,313.4 L429.92,313.4 L430.62,313.4 L431.33,313.4 L432.03,313.4 L432.74,313.4 L433.44,313.4 L434.15,313.4 L434.85,313.4 L435.56,313.4 L436.26,313.4 L436.97,313.4 L437.67,313.41 L438.37,313.43 L439.08,313.47 L439.78,313.51 L440.49,313.57 L441.19,313.64 L441.89,313.71 L442.59,313.79 L443.3,313.87 L444,313.96 L444.7,314.04 L445.4,314.13 L446.1,314.21 L446.8,314.3 L447.5,314.39 L448.2,314.48 L448.9,314.59 L449.59,314.69 L450.29,314.8 L450.99,314.92 L451.69,315.04 L452.38,315.17 L453.07,315.3 L453.77,315.43 L454.46,315.57 L455.15,315.71 L455.83,315.86 L456.52,316.03 L457.2,316.21 L457.88,316.4 L458.56,316.59 L459.23,316.79 L459.91,316.99 L460.59,317.19 L461.27,317.38 L461.95,317.57 L462.63,317.75 L463.32,317.92 L464,318.08 L464.69,318.24 L465.38,318.39 L466.07,318.54 L466.76,318.69 L467.45,318.84 L468.14,318.99 L468.82,319.15 L469.51,319.3 L470.2,319.47 L470.88,319.63 L471.57,319.8 L472.25,319.97 L472.94,320.14 L473.62,320.31 L474.31,320.48 L474.99,320.66 L475.67,320.84 L476.35,321.01 L477.04,321.19 L477.72,321.38 L478.4,321.56" fill="none" stroke="#000" stroke-width="2.4" stroke-linejoin="round" stroke-linecap="round"/>
<path d="M339.5,334.6 L339.73,333.93 L339.96,333.26 L340.18,332.59 L340.4,331.92 L340.62,331.25 L340.83,330.58 L341.04,329.9 L341.25,329.23 L341.43,328.52 L341.6,327.77 L341.75,327.01 L341.9,326.24 L342.06,325.49 L342.22,324.75 L342.4,324.06 L342.61,323.42 L342.85,322.85 L343.12,322.37 L343.5,321.96 L344.05,321.61 L344.73,321.3 L345.46,321.01 L346.18,320.73 L346.84,320.45 L347.49,320.17 L348.14,319.89 L348.8,319.61 L349.47,319.35 L350.14,319.11 L350.81,318.89 L351.48,318.71 L352.16,318.57 L352.84,318.45 L353.53,318.33 L354.22,318.22 L354.92,318.12 L355.62,318.02 L356.32,317.93 L357.02,317.85 L357.73,317.77 L358.43,317.7 L359.14,317.62 L359.85,317.56 L360.56,317.49 L361.27,317.43 L361.98,317.37 L362.68,317.31 L363.39,317.25 L364.09,317.19 L364.79,317.14 L365.5,317.08 L366.2,317.03 L366.91,316.97 L367.61,316.92 L368.31,316.87 L369.02,316.82 L369.72,316.78 L370.43,316.73 L371.13,316.69 L371.84,316.64 L372.54,316.6 L373.25,316.56 L373.95,316.52 L374.66,316.48 L375.37,316.44 L376.07,316.4 L376.78,316.36 L377.48,316.33 L378.19,316.29 L378.89,316.25 L379.6,316.22 L380.3,316.19 L381.01,316.15 L381.71,316.12 L382.42,316.08 L383.12,316.05 L383.83,316.02 L384.54,315.99 L385.24,315.96 L385.95,315.93 L386.65,315.9 L387.36,315.87 L388.06,315.84 L388.77,315.81 L389.48,315.78 L390.18,315.76 L390.89,315.73 L391.59,315.7 L392.3,315.67 L393,315.65 L393.71,315.62 L394.42,315.6 L395.12,315.57 L395.83,315.55 L396.53,315.52 L397.24,315.5 L397.94,315.47 L398.65,315.45 L399.36,315.42 L400.06,315.4 L400.77,315.37 L401.47,315.35 L402.18,315.32 L402.89,315.29 L403.59,315.27 L404.3,315.24 L405,315.21 L405.71,315.18 L406.41,315.15 L407.12,315.12 L407.83,315.1 L408.53,315.07 L409.24,315.04 L409.94,315.02 L410.65,314.99 L411.36,314.97 L412.06,314.94 L412.77,314.92 L413.47,314.9 L414.18,314.88 L414.89,314.86 L415.59,314.85 L416.3,314.83 L417,314.82 L417.71,314.81 L418.42,314.81 L419.12,314.8 L419.83,314.8 L420.53,314.8 L421.24,314.8 L421.95,314.8 L422.65,314.8 L423.36,314.8 L424.07,314.8 L424.77,314.8 L425.48,314.8 L426.19,314.8 L426.89,314.8 L427.6,314.8 L428.31,314.8 L429.01,314.8 L429.72,314.8 L430.43,314.8 L431.13,314.8 L431.84,314.8 L432.54,314.8 L433.25,314.8 L433.96,314.8 L434.66,314.8 L435.37,314.8 L436.07,314.8 L436.78,314.8 L437.48,314.8 L438.19,314.82 L438.89,314.86 L439.6,314.9 L440.3,314.96 L441,315.02 L441.71,315.1 L442.41,315.18 L443.11,315.26 L443.82,315.34 L444.52,315.43 L445.22,315.51 L445.92,315.59 L446.62,315.67 L447.33,315.76 L448.03,315.84 L448.73,315.94 L449.43,316.03 L450.13,316.13 L450.83,316.24 L451.52,316.35 L452.22,316.46 L452.92,316.57 L453.62,316.69 L454.31,316.82 L455,316.94 L455.7,317.07 L456.39,317.22 L457.07,317.37 L457.76,317.54 L458.45,317.71 L459.13,317.88 L459.82,318.05 L460.5,318.22 L461.19,318.4 L461.88,318.56 L462.57,318.72 L463.25,318.88 L463.95,319.02 L464.64,319.16 L465.33,319.3 L466.02,319.44 L466.72,319.58 L467.41,319.72 L468.1,319.86 L468.79,320 L469.48,320.15 L470.17,320.3 L470.86,320.45 L471.55,320.61 L472.24,320.77 L472.92,320.94 L473.61,321.1 L474.3,321.27 L474.98,321.44 L475.67,321.61 L476.35,321.79 L477.03,321.97 L477.72,322.15 L478.4,322.33" fill="none" stroke="#000" stroke-width="2.4" stroke-linejoin="round" stroke-linecap="round"/>
<path d="M339.5,334.6 L339.75,333.94 L339.99,333.28 L340.23,332.62 L340.47,331.95 L340.7,331.29 L340.93,330.62 L341.15,329.95 L341.36,329.27 L341.54,328.52 L341.71,327.74 L341.87,326.95 L342.03,326.16 L342.2,325.41 L342.39,324.71 L342.6,324.09 L342.85,323.56 L343.15,323.15 L343.56,322.86 L344.18,322.63 L344.92,322.42 L345.7,322.23 L346.43,322.02 L347.1,321.78 L347.76,321.52 L348.41,321.24 L349.07,320.96 L349.73,320.7 L350.39,320.45 L351.05,320.23 L351.72,320.06 L352.4,319.93 L353.08,319.8 L353.77,319.69 L354.46,319.59 L355.15,319.49 L355.85,319.39 L356.55,319.31 L357.25,319.22 L357.96,319.15 L358.66,319.07 L359.37,319 L360.07,318.94 L360.78,318.87 L361.49,318.81 L362.19,318.75 L362.9,318.69 L363.6,318.63 L364.3,318.58 L365,318.52 L365.71,318.46 L366.41,318.41 L367.11,318.36 L367.81,318.31 L368.51,318.26 L369.22,318.21 L369.92,318.16 L370.62,318.12 L371.32,318.07 L372.03,318.03 L372.73,317.99 L373.43,317.95 L374.14,317.91 L374.84,317.87 L375.54,317.83 L376.25,317.79 L376.95,317.75 L377.65,317.72 L378.36,317.68 L379.06,317.65 L379.76,317.61 L380.47,317.58 L381.17,317.54 L381.87,317.51 L382.58,317.48 L383.28,317.45 L383.98,317.41 L384.69,317.38 L385.39,317.35 L386.1,317.32 L386.8,317.29 L387.5,317.26 L388.21,317.23 L388.91,317.21 L389.61,317.18 L390.32,317.15 L391.02,317.12 L391.72,317.1 L392.43,317.07 L393.13,317.04 L393.84,317.02 L394.54,316.99 L395.24,316.97 L395.95,316.94 L396.65,316.92 L397.35,316.89 L398.06,316.87 L398.76,316.84 L399.47,316.82 L400.17,316.79 L400.87,316.77 L401.58,316.74 L402.28,316.72 L402.98,316.69 L403.69,316.66 L404.39,316.63 L405.1,316.61 L405.8,316.58 L406.5,316.55 L407.21,316.52 L407.91,316.49 L408.61,316.47 L409.32,316.44 L410.02,316.41 L410.73,316.39 L411.43,316.36 L412.13,316.34 L412.84,316.32 L413.54,316.3 L414.25,316.28 L414.95,316.26 L415.65,316.25 L416.36,316.23 L417.06,316.22 L417.77,316.21 L418.47,316.21 L419.17,316.2 L419.88,316.2 L420.58,316.2 L421.29,316.2 L421.99,316.2 L422.69,316.2 L423.4,316.2 L424.1,316.2 L424.81,316.2 L425.51,316.2 L426.22,316.2 L426.92,316.2 L427.63,316.2 L428.33,316.2 L429.04,316.2 L429.74,316.2 L430.45,316.2 L431.15,316.2 L431.85,316.2 L432.56,316.2 L433.26,316.2 L433.97,316.2 L434.67,316.2 L435.37,316.2 L436.08,316.2 L436.78,316.2 L437.48,316.2 L438.18,316.22 L438.89,316.26 L439.59,316.3 L440.29,316.36 L440.99,316.43 L441.69,316.5 L442.39,316.58 L443.1,316.66 L443.8,316.75 L444.5,316.83 L445.2,316.91 L445.9,316.99 L446.6,317.06 L447.3,317.14 L448,317.22 L448.7,317.31 L449.39,317.4 L450.09,317.49 L450.79,317.58 L451.49,317.67 L452.19,317.77 L452.89,317.87 L453.58,317.98 L454.28,318.09 L454.97,318.2 L455.66,318.31 L456.36,318.44 L457.05,318.57 L457.74,318.71 L458.43,318.85 L459.12,318.99 L459.81,319.14 L460.5,319.29 L461.19,319.43 L461.88,319.58 L462.57,319.72 L463.26,319.85 L463.95,319.98 L464.64,320.11 L465.34,320.23 L466.03,320.35 L466.72,320.48 L467.42,320.6 L468.11,320.73 L468.8,320.86 L469.49,321 L470.18,321.14 L470.87,321.28 L471.56,321.43 L472.24,321.59 L472.93,321.74 L473.62,321.9 L474.3,322.06 L474.99,322.23 L475.67,322.4 L476.35,322.57 L477.04,322.74 L477.72,322.92 L478.4,323.1" fill="none" stroke="#000" stroke-width="2.4" stroke-linejoin="round" stroke-linecap="round"/>
<path d="M339.5,334.6 L339.8,333.96 L340.09,333.32 L340.37,332.67 L340.65,332.02 L340.91,331.37 L341.17,330.71 L341.41,330 L341.61,329.18 L341.8,328.3 L341.98,327.42 L342.17,326.59 L342.38,325.85 L342.62,325.27 L342.9,324.9 L343.24,324.78 L343.76,324.78 L344.47,324.79 L345.28,324.79 L346.08,324.8 L346.79,324.79 L347.46,324.67 L348.12,324.45 L348.78,324.17 L349.43,323.85 L350.09,323.51 L350.74,323.21 L351.41,322.95 L352.08,322.78 L352.76,322.66 L353.45,322.54 L354.14,322.43 L354.83,322.33 L355.53,322.24 L356.23,322.15 L356.93,322.06 L357.63,321.98 L358.34,321.91 L359.04,321.83 L359.75,321.77 L360.46,321.7 L361.17,321.64 L361.87,321.58 L362.58,321.52 L363.28,321.46 L363.99,321.4 L364.69,321.34 L365.39,321.29 L366.09,321.23 L366.79,321.18 L367.5,321.13 L368.2,321.08 L368.9,321.03 L369.61,320.99 L370.31,320.94 L371.01,320.89 L371.72,320.85 L372.42,320.81 L373.13,320.77 L373.83,320.73 L374.53,320.69 L375.24,320.65 L375.94,320.61 L376.65,320.57 L377.35,320.53 L378.05,320.5 L378.76,320.46 L379.46,320.43 L380.17,320.39 L380.87,320.36 L381.57,320.32 L382.28,320.29 L382.98,320.26 L383.69,320.23 L384.39,320.2 L385.09,320.16 L385.8,320.13 L386.5,320.1 L387.21,320.08 L387.91,320.05 L388.62,320.02 L389.32,319.99 L390.03,319.96 L390.73,319.93 L391.43,319.91 L392.14,319.88 L392.84,319.85 L393.55,319.83 L394.25,319.8 L394.96,319.78 L395.66,319.75 L396.37,319.73 L397.07,319.7 L397.77,319.68 L398.48,319.65 L399.18,319.63 L399.89,319.6 L400.59,319.58 L401.3,319.55 L402,319.53 L402.71,319.5 L403.41,319.47 L404.11,319.45 L404.82,319.42 L405.52,319.39 L406.23,319.36 L406.93,319.33 L407.64,319.3 L408.34,319.28 L409.05,319.25 L409.75,319.22 L410.46,319.2 L411.16,319.17 L411.86,319.15 L412.57,319.13 L413.27,319.11 L413.98,319.09 L414.68,319.07 L415.39,319.05 L416.09,319.04 L416.8,319.03 L417.5,319.02 L418.21,319.01 L418.91,319 L419.62,319 L420.32,319 L421.03,319 L421.73,319 L422.44,319 L423.14,319 L423.85,319 L424.55,319 L425.26,319 L425.96,319 L426.67,319 L427.37,319 L428.08,319 L428.78,319 L429.49,319 L430.19,319 L430.9,319 L431.6,319 L432.31,319 L433.01,319 L433.72,319 L434.42,319 L435.13,319 L435.83,319 L436.53,319 L437.24,319 L437.94,319.02 L438.64,319.05 L439.35,319.09 L440.05,319.15 L440.75,319.21 L441.45,319.29 L442.15,319.37 L442.86,319.45 L443.56,319.53 L444.26,319.61 L444.96,319.69 L445.66,319.77 L446.36,319.83 L447.07,319.9 L447.77,319.97 L448.47,320.04 L449.17,320.11 L449.87,320.18 L450.57,320.25 L451.28,320.32 L451.98,320.39 L452.68,320.46 L453.38,320.54 L454.08,320.62 L454.78,320.69 L455.48,320.78 L456.18,320.86 L456.88,320.94 L457.58,321.03 L458.28,321.12 L458.98,321.21 L459.68,321.31 L460.37,321.4 L461.07,321.5 L461.77,321.59 L462.47,321.69 L463.17,321.78 L463.87,321.88 L464.57,321.97 L465.26,322.07 L465.96,322.16 L466.66,322.26 L467.36,322.36 L468.06,322.46 L468.75,322.57 L469.45,322.69 L470.14,322.8 L470.83,322.93 L471.53,323.06 L472.22,323.2 L472.91,323.34 L473.6,323.48 L474.29,323.64 L474.97,323.79 L475.66,323.95 L476.35,324.12 L477.03,324.29 L477.72,324.46 L478.4,324.64" fill="none" stroke="#000" stroke-width="2.4" stroke-linejoin="round" stroke-linecap="round"/>
<path d="M339.5,334.6 L339.82,333.97 L340.14,333.34 L340.44,332.7 L340.74,332.06 L341.02,331.42 L341.29,330.76 L341.53,329.99 L341.74,329.14 L341.93,328.26 L342.13,327.41 L342.34,326.65 L342.59,326.04 L342.87,325.64 L343.22,325.5 L343.73,325.56 L344.42,325.7 L345.21,325.86 L346,325.97 L346.71,325.99 L347.39,325.89 L348.05,325.68 L348.71,325.4 L349.36,325.08 L350.01,324.75 L350.67,324.44 L351.34,324.18 L352.01,324 L352.69,323.87 L353.38,323.76 L354.07,323.65 L354.76,323.54 L355.45,323.45 L356.15,323.36 L356.86,323.27 L357.56,323.19 L358.26,323.11 L358.97,323.04 L359.68,322.97 L360.38,322.91 L361.09,322.84 L361.8,322.78 L362.5,322.72 L363.21,322.67 L363.91,322.61 L364.61,322.55 L365.32,322.49 L366.02,322.44 L366.72,322.39 L367.42,322.34 L368.13,322.29 L368.83,322.24 L369.53,322.19 L370.24,322.14 L370.94,322.1 L371.64,322.05 L372.35,322.01 L373.05,321.97 L373.76,321.93 L374.46,321.89 L375.17,321.85 L375.87,321.81 L376.57,321.77 L377.28,321.74 L377.98,321.7 L378.69,321.67 L379.39,321.63 L380.09,321.6 L380.8,321.56 L381.5,321.53 L382.21,321.49 L382.91,321.46 L383.61,321.43 L384.32,321.4 L385.02,321.37 L385.73,321.34 L386.43,321.31 L387.14,321.28 L387.84,321.25 L388.54,321.22 L389.25,321.19 L389.95,321.16 L390.66,321.14 L391.36,321.11 L392.07,321.08 L392.77,321.06 L393.48,321.03 L394.18,321.01 L394.88,320.98 L395.59,320.95 L396.29,320.93 L397,320.9 L397.7,320.88 L398.41,320.85 L399.11,320.83 L399.82,320.81 L400.52,320.78 L401.23,320.76 L401.93,320.73 L402.63,320.7 L403.34,320.68 L404.04,320.65 L404.75,320.62 L405.45,320.59 L406.16,320.56 L406.86,320.54 L407.57,320.51 L408.27,320.48 L408.98,320.45 L409.68,320.43 L410.38,320.4 L411.09,320.38 L411.79,320.35 L412.5,320.33 L413.2,320.31 L413.91,320.29 L414.61,320.27 L415.32,320.25 L416.02,320.24 L416.73,320.23 L417.43,320.22 L418.14,320.21 L418.84,320.2 L419.55,320.2 L420.25,320.2 L420.95,320.2 L421.66,320.2 L422.37,320.2 L423.07,320.2 L423.78,320.2 L424.48,320.2 L425.19,320.2 L425.89,320.2 L426.6,320.2 L427.3,320.2 L428.01,320.2 L428.71,320.2 L429.42,320.2 L430.12,320.2 L430.83,320.2 L431.53,320.2 L432.24,320.2 L432.94,320.2 L433.65,320.2 L434.35,320.2 L435.06,320.2 L435.76,320.2 L436.46,320.2 L437.17,320.2 L437.87,320.21 L438.57,320.24 L439.28,320.29 L439.98,320.35 L440.68,320.41 L441.38,320.49 L442.08,320.57 L442.79,320.65 L443.49,320.73 L444.19,320.81 L444.89,320.89 L445.59,320.96 L446.3,321.03 L447,321.09 L447.7,321.15 L448.4,321.21 L449.1,321.27 L449.81,321.33 L450.51,321.39 L451.21,321.46 L451.91,321.52 L452.62,321.58 L453.32,321.64 L454.02,321.71 L454.72,321.77 L455.42,321.84 L456.13,321.91 L456.83,321.97 L457.53,322.04 L458.23,322.11 L458.93,322.17 L459.63,322.24 L460.34,322.31 L461.04,322.39 L461.74,322.46 L462.44,322.54 L463.14,322.62 L463.84,322.69 L464.54,322.78 L465.24,322.86 L465.94,322.94 L466.64,323.03 L467.34,323.12 L468.04,323.21 L468.74,323.31 L469.43,323.41 L470.13,323.52 L470.82,323.64 L471.52,323.76 L472.21,323.89 L472.9,324.02 L473.59,324.16 L474.28,324.31 L474.97,324.46 L475.66,324.62 L476.34,324.78 L477.03,324.95 L477.72,325.12 L478.4,325.3" fill="none" stroke="#000" stroke-width="2.4" stroke-linejoin="round" stroke-linecap="round"/>
<path d="M339.5,334.6 L339.85,333.99 L340.2,333.37 L340.53,332.74 L340.84,332.11 L341.15,331.48 L341.42,330.79 L341.66,329.98 L341.88,329.11 L342.09,328.25 L342.31,327.46 L342.56,326.82 L342.85,326.38 L343.2,326.22 L343.69,326.33 L344.35,326.58 L345.1,326.87 L345.87,327.11 L346.58,327.2 L347.24,327.12 L347.9,326.93 L348.56,326.66 L349.22,326.35 L349.88,326.01 L350.54,325.7 L351.2,325.42 L351.88,325.23 L352.56,325.1 L353.24,324.98 L353.93,324.87 L354.62,324.76 L355.32,324.66 L356.02,324.57 L356.72,324.49 L357.42,324.4 L358.13,324.33 L358.84,324.26 L359.54,324.19 L360.25,324.12 L360.96,324.06 L361.67,323.99 L362.37,323.93 L363.08,323.88 L363.78,323.82 L364.48,323.76 L365.19,323.7 L365.89,323.65 L366.59,323.6 L367.3,323.55 L368,323.49 L368.7,323.45 L369.41,323.4 L370.11,323.35 L370.81,323.31 L371.52,323.26 L372.22,323.22 L372.93,323.18 L373.63,323.14 L374.34,323.1 L375.04,323.06 L375.75,323.02 L376.45,322.98 L377.16,322.94 L377.86,322.91 L378.56,322.87 L379.27,322.84 L379.97,322.8 L380.68,322.77 L381.38,322.73 L382.09,322.7 L382.79,322.67 L383.5,322.64 L384.2,322.6 L384.91,322.57 L385.61,322.54 L386.32,322.51 L387.02,322.48 L387.72,322.45 L388.43,322.43 L389.13,322.4 L389.84,322.37 L390.54,322.34 L391.25,322.31 L391.95,322.29 L392.66,322.26 L393.36,322.24 L394.07,322.21 L394.77,322.18 L395.48,322.16 L396.18,322.13 L396.89,322.11 L397.59,322.08 L398.3,322.06 L399,322.03 L399.71,322.01 L400.41,321.99 L401.12,321.96 L401.82,321.93 L402.53,321.91 L403.23,321.88 L403.94,321.85 L404.64,321.82 L405.35,321.8 L406.05,321.77 L406.76,321.74 L407.46,321.71 L408.17,321.68 L408.87,321.66 L409.58,321.63 L410.28,321.6 L410.99,321.58 L411.69,321.56 L412.4,321.53 L413.1,321.51 L413.81,321.49 L414.51,321.47 L415.22,321.46 L415.92,321.44 L416.63,321.43 L417.33,321.42 L418.04,321.41 L418.75,321.4 L419.45,321.4 L420.16,321.4 L420.86,321.4 L421.57,321.4 L422.27,321.4 L422.98,321.4 L423.68,321.4 L424.39,321.4 L425.09,321.4 L425.8,321.4 L426.51,321.4 L427.21,321.4 L427.92,321.4 L428.62,321.4 L429.33,321.4 L430.04,321.4 L430.74,321.4 L431.45,321.4 L432.15,321.4 L432.86,321.4 L433.56,321.4 L434.27,321.4 L434.97,321.4 L435.68,321.4 L436.38,321.4 L437.08,321.4 L437.79,321.41 L438.49,321.44 L439.19,321.49 L439.9,321.54 L440.6,321.61 L441.3,321.69 L442,321.77 L442.71,321.85 L443.41,321.93 L444.11,322.01 L444.81,322.09 L445.52,322.16 L446.22,322.22 L446.92,322.27 L447.62,322.33 L448.33,322.39 L449.03,322.44 L449.73,322.49 L450.44,322.55 L451.14,322.6 L451.84,322.65 L452.55,322.7 L453.25,322.75 L453.96,322.8 L454.66,322.86 L455.36,322.91 L456.07,322.95 L456.77,323 L457.47,323.05 L458.18,323.09 L458.88,323.14 L459.59,323.18 L460.29,323.23 L460.99,323.28 L461.7,323.33 L462.4,323.39 L463.1,323.45 L463.81,323.51 L464.51,323.58 L465.21,323.65 L465.91,323.72 L466.62,323.79 L467.32,323.87 L468.02,323.96 L468.72,324.04 L469.42,324.14 L470.11,324.24 L470.81,324.34 L471.5,324.46 L472.2,324.58 L472.89,324.7 L473.58,324.84 L474.27,324.98 L474.96,325.13 L475.65,325.29 L476.34,325.45 L477.03,325.61 L477.71,325.78 L478.4,325.96" fill="none" stroke="#000" stroke-width="2.4" stroke-linejoin="round" stroke-linecap="round"/>
<path d="M437,321.5 L437.74,321.51 L438.47,321.54 L439.2,321.58 L439.91,321.63 L440.63,321.7 L441.34,321.78 L442.04,321.87 L442.73,321.96 L443.42,322.07 L444.1,322.25 L444.78,322.48 L445.45,322.76 L446.12,323.07 L446.78,323.39 L447.43,323.72 L448.07,324.03 L448.7,324.37 L449.32,324.73 L449.92,325.12 L450.53,325.52 L451.13,325.92 L451.74,326.3 L452.36,326.67 L452.99,327 L453.63,327.31 L454.29,327.63 L454.94,327.95 L455.61,328.25 L456.28,328.52 L456.96,328.75 L457.64,328.93 L458.33,329.06 L459.03,329.17 L459.73,329.27 L460.44,329.36 L461.16,329.45 L461.87,329.53 L462.6,329.6 L463.32,329.66 L464.04,329.71 L464.76,329.75 L465.48,329.78 L466.2,329.81 L466.92,329.83 L467.63,329.85 L468.35,329.86 L469.06,329.88 L469.78,329.9 L470.5,329.91 L471.22,329.93 L471.93,329.94 L472.65,329.95 L473.37,329.96 L474.09,329.97 L474.8,329.98 L475.52,329.99 L476.24,329.99 L476.96,330 L477.68,330 L478.4,330" fill="none" stroke="#000" stroke-width="2.6" stroke-linejoin="round" stroke-linecap="round"/>
<text x="-0.5" y="413.2" font-size="25.6" font-weight="bold" text-anchor="start" textLength="18.4" lengthAdjust="spacingAndGlyphs" stroke="#000" stroke-width="0.2">E</text>
<line x1="45" y1="412.3" x2="45" y2="574.8" stroke="#000" stroke-width="1.3"/>
<line x1="42.5" y1="574.6" x2="45" y2="574.6" stroke="#000" stroke-width="1.3"/>
<line x1="42.5" y1="551.53" x2="45" y2="551.53" stroke="#000" stroke-width="1.3"/>
<line x1="42.5" y1="528.46" x2="45" y2="528.46" stroke="#000" stroke-width="1.3"/>
<line x1="42.5" y1="505.39" x2="45" y2="505.39" stroke="#000" stroke-width="1.3"/>
<line x1="42.5" y1="482.32" x2="45" y2="482.32" stroke="#000" stroke-width="1.3"/>
<line x1="42.5" y1="459.25" x2="45" y2="459.25" stroke="#000" stroke-width="1.3"/>
<line x1="42.5" y1="436.18" x2="45" y2="436.18" stroke="#000" stroke-width="1.3"/>
<line x1="42.5" y1="413.11" x2="45" y2="413.11" stroke="#000" stroke-width="1.3"/>
<line x1="43.5" y1="574.8" x2="222.5" y2="574.8" stroke="#000" stroke-width="1.3"/>
<line x1="45" y1="574.8" x2="45" y2="578.3" stroke="#000" stroke-width="1.3"/>
<line x1="86.75" y1="574.8" x2="86.75" y2="578.3" stroke="#000" stroke-width="1.3"/>
<line x1="128.5" y1="574.8" x2="128.5" y2="578.3" stroke="#000" stroke-width="1.3"/>
<line x1="170.25" y1="574.8" x2="170.25" y2="578.3" stroke="#000" stroke-width="1.3"/>
<line x1="212" y1="574.8" x2="212" y2="578.3" stroke="#000" stroke-width="1.3"/>
<text x="38.6" y="578.4" font-size="10.5" font-weight="bold" text-anchor="end" textLength="5.2" lengthAdjust="spacingAndGlyphs" stroke="#000" stroke-width="0.2">0</text>
<text x="38.6" y="555.33" font-size="10.5" font-weight="bold" text-anchor="end" textLength="10.4" lengthAdjust="spacingAndGlyphs" stroke="#000" stroke-width="0.2">20</text>
<text x="38.6" y="532.26" font-size="10.5" font-weight="bold" text-anchor="end" textLength="10.4" lengthAdjust="spacingAndGlyphs" stroke="#000" stroke-width="0.2">40</text>
<text x="38.6" y="509.19" font-size="10.5" font-weight="bold" text-anchor="end" textLength="10.4" lengthAdjust="spacingAndGlyphs" stroke="#000" stroke-width="0.2">60</text>
<text x="38.6" y="486.12" font-size="10.5" font-weight="bold" text-anchor="end" textLength="10.4" lengthAdjust="spacingAndGlyphs" stroke="#000" stroke-width="0.2">80</text>
<text x="38.6" y="463.05" font-size="10.5" font-weight="bold" text-anchor="end" textLength="15.4" lengthAdjust="spacingAndGlyphs" stroke="#000" stroke-width="0.2">100</text>
<text x="38.6" y="439.98" font-size="10.5" font-weight="bold" text-anchor="end" textLength="15.4" lengthAdjust="spacingAndGlyphs" stroke="#000" stroke-width="0.2">120</text>
<text x="38.6" y="416.91" font-size="10.5" font-weight="bold" text-anchor="end" textLength="15.4" lengthAdjust="spacingAndGlyphs" stroke="#000" stroke-width="0.2">140</text>
<text x="46.2" y="589" font-size="10.5" font-weight="bold" text-anchor="middle" textLength="5.4" lengthAdjust="spacingAndGlyphs" stroke="#000" stroke-width="0.2">0</text>
<text x="87.95" y="589" font-size="10.5" font-weight="bold" text-anchor="middle" textLength="16" lengthAdjust="spacingAndGlyphs" stroke="#000" stroke-width="0.2">250</text>
<text x="129.7" y="589" font-size="10.5" font-weight="bold" text-anchor="middle" textLength="16" lengthAdjust="spacingAndGlyphs" stroke="#000" stroke-width="0.2">500</text>
<text x="171.45" y="589" font-size="10.5" font-weight="bold" text-anchor="middle" textLength="16" lengthAdjust="spacingAndGlyphs" stroke="#000" stroke-width="0.2">750</text>
<text x="213.2" y="589" font-size="10.5" font-weight="bold" text-anchor="middle" textLength="21.5" lengthAdjust="spacingAndGlyphs" stroke="#000" stroke-width="0.2">1000</text>
<text x="88.5" y="611.2" font-size="12.6" font-weight="bold" text-anchor="start" textLength="115.2" lengthAdjust="spacingAndGlyphs" stroke="#000" stroke-width="0.2">Concentration (nM)</text>
<text transform="translate(10.1,542.6) rotate(-90)" font-size="11.4" font-weight="bold" stroke="#000" stroke-width="0.25"><tspan textLength="15.3" lengthAdjust="spacingAndGlyphs">RU</tspan><tspan dy="2.8" textLength="23.3" lengthAdjust="spacingAndGlyphs">max</tspan><tspan dy="-2.8" textLength="81.8" lengthAdjust="spacingAndGlyphs"> at Equilibrium</tspan></text>
<text x="56.3" y="427" font-size="16.2" font-weight="normal" text-anchor="start" textLength="30.2" lengthAdjust="spacingAndGlyphs" stroke="#000" stroke-width="0.2">N=4</text>
<text x="124" y="421.8" font-size="10.8" font-weight="bold" text-anchor="start" textLength="44.3" lengthAdjust="spacingAndGlyphs" stroke="#000" stroke-width="0.2">FL-A13</text>
<text x="149.2" y="509.3" font-size="11.8" font-weight="bold" text-anchor="start" textLength="47.7" lengthAdjust="spacingAndGlyphs" stroke="#000" stroke-width="0.2">delCUB</text>
<text x="183.1" y="538" font-size="12" font-weight="bold" text-anchor="start" textLength="47.3" lengthAdjust="spacingAndGlyphs" stroke="#000" stroke-width="0.2">MDTCS</text>
<polygon points="130.8,438.6 132.2,425.6 135.6,430 140.8,428.4" fill="#000"/>
<polygon points="134.5,494.2 147.2,498.8 142.4,500.4 141.7,505.2" fill="#000"/>
<polygon points="212.2,558.2 205.4,546.8 210.2,547.8 215,543.8" fill="#000"/>
<path d="M45,560 L45,559.3 L45,558.59 L45,557.89 L45.01,557.18 L45.01,556.48 L45.02,555.77 L45.02,555.07 L45.03,554.36 L45.03,553.66 L45.04,552.96 L45.05,552.25 L45.06,551.55 L45.07,550.84 L45.08,550.14 L45.09,549.44 L45.1,548.73 L45.12,548.03 L45.13,547.33 L45.14,546.62 L45.16,545.92 L45.17,545.22 L45.19,544.51 L45.2,543.81 L45.22,543.11 L45.24,542.4 L45.26,541.7 L45.27,541 L45.29,540.29 L45.31,539.59 L45.34,538.89 L45.38,538.19 L45.42,537.48 L45.47,536.78 L45.52,536.08 L45.57,535.38 L45.63,534.67 L45.69,533.97 L45.74,533.27 L45.79,532.57 L45.85,531.87 L45.89,531.16 L45.94,530.45 L45.99,529.75 L46.03,529.04 L46.08,528.33 L46.13,527.62 L46.18,526.92 L46.23,526.21 L46.28,525.51 L46.34,524.8 L46.4,524.1 L46.47,523.4 L46.54,522.71 L46.62,522.02 L46.7,521.33 L46.79,520.64 L46.9,519.96 L47.04,519.28 L47.21,518.6 L47.4,517.92 L47.61,517.24 L47.84,516.57 L48.08,515.89 L48.35,515.23 L48.62,514.56 L48.9,513.91 L49.19,513.26 L49.48,512.61 L49.78,511.98 L50.08,511.35 L50.38,510.74 L50.71,510.13 L51.07,509.53 L51.44,508.94 L51.84,508.36 L52.24,507.78 L52.65,507.2 L53.08,506.63 L53.5,506.06 L53.92,505.48 L54.35,504.91 L54.76,504.33 L55.17,503.75 L55.56,503.17 L55.94,502.57 L56.31,501.98 L56.68,501.38 L57.05,500.77 L57.42,500.16 L57.78,499.55 L58.14,498.94 L58.49,498.33 L58.85,497.71 L59.2,497.1 L59.55,496.48 L59.91,495.87 L60.26,495.25 L60.62,494.64 L60.97,494.02 L61.33,493.41 L61.69,492.8 L62.05,492.2 L62.41,491.59 L62.78,490.99 L63.15,490.4 L63.53,489.81 L63.91,489.22 L64.3,488.64 L64.69,488.07 L65.09,487.5 L65.5,486.94 L65.91,486.38 L66.33,485.83 L66.75,485.29 L67.19,484.74 L67.62,484.2 L68.06,483.66 L68.51,483.12 L68.96,482.57 L69.41,482.03 L69.87,481.5 L70.33,480.96 L70.8,480.42 L71.27,479.89 L71.75,479.36 L72.23,478.83 L72.71,478.3 L73.2,477.78 L73.69,477.26 L74.18,476.74 L74.68,476.22 L75.18,475.71 L75.68,475.2 L76.19,474.69 L76.7,474.19 L77.21,473.69 L77.73,473.19 L78.25,472.7 L78.77,472.21 L79.29,471.73 L79.82,471.25 L80.35,470.78 L80.88,470.31 L81.41,469.85 L81.95,469.39 L82.49,468.93 L83.02,468.49 L83.57,468.04 L84.11,467.61 L84.65,467.18 L85.2,466.75 L85.74,466.33 L86.29,465.92 L86.84,465.52 L87.39,465.11 L87.95,464.72 L88.5,464.32 L89.07,463.92 L89.63,463.52 L90.2,463.13 L90.77,462.73 L91.34,462.34 L91.92,461.95 L92.5,461.55 L93.08,461.17 L93.67,460.78 L94.25,460.39 L94.84,460.01 L95.44,459.62 L96.03,459.24 L96.63,458.86 L97.23,458.48 L97.84,458.11 L98.44,457.73 L99.05,457.36 L99.66,456.99 L100.27,456.62 L100.89,456.26 L101.51,455.89 L102.13,455.53 L102.75,455.17 L103.37,454.82 L103.99,454.46 L104.62,454.11 L105.25,453.76 L105.88,453.42 L106.51,453.07 L107.15,452.73 L107.78,452.4 L108.42,452.06 L109.05,451.73 L109.69,451.41 L110.33,451.08 L110.98,450.76 L111.62,450.44 L112.26,450.13 L112.91,449.82 L113.55,449.51 L114.2,449.21 L114.85,448.91 L115.5,448.61 L116.15,448.32 L116.8,448.03 L117.45,447.75 L118.1,447.46 L118.75,447.19 L119.41,446.92 L120.06,446.65 L120.72,446.38 L121.37,446.12 L122.02,445.87 L122.68,445.62 L123.33,445.37 L123.99,445.13 L124.64,444.9 L125.3,444.66 L125.95,444.44 L126.61,444.21 L127.26,444 L127.92,443.78 L128.57,443.58 L129.23,443.37 L129.89,443.17 L130.55,442.97 L131.21,442.77 L131.87,442.58 L132.53,442.38 L133.2,442.19 L133.87,442 L134.54,441.81 L135.21,441.63 L135.88,441.44 L136.56,441.26 L137.23,441.08 L137.91,440.9 L138.59,440.72 L139.27,440.55 L139.95,440.37 L140.63,440.2 L141.32,440.03 L142,439.86 L142.69,439.7 L143.38,439.53 L144.06,439.37 L144.75,439.21 L145.44,439.05 L146.13,438.9 L146.83,438.74 L147.52,438.59 L148.21,438.43 L148.91,438.28 L149.6,438.14 L150.3,437.99 L150.99,437.84 L151.69,437.7 L152.38,437.56 L153.08,437.42 L153.78,437.28 L154.48,437.14 L155.18,437.01 L155.87,436.87 L156.57,436.74 L157.27,436.61 L157.97,436.48 L158.67,436.36 L159.37,436.23 L160.07,436.11 L160.77,435.98 L161.47,435.86 L162.16,435.74 L162.86,435.62 L163.56,435.51 L164.26,435.39 L164.96,435.28 L165.65,435.17 L166.35,435.06 L167.05,434.95 L167.74,434.84 L168.44,434.73 L169.13,434.63 L169.83,434.53 L170.52,434.42 L171.21,434.32 L171.91,434.22 L172.6,434.12 L173.3,434.02 L173.99,433.92 L174.69,433.82 L175.38,433.72 L176.08,433.62 L176.77,433.53 L177.47,433.43 L178.16,433.33 L178.86,433.24 L179.55,433.14 L180.25,433.05 L180.95,432.95 L181.64,432.86 L182.34,432.77 L183.04,432.68 L183.74,432.59 L184.43,432.5 L185.13,432.41 L185.83,432.32 L186.53,432.23 L187.23,432.15 L187.92,432.06 L188.62,431.98 L189.32,431.9 L190.02,431.81 L190.72,431.73 L191.42,431.65 L192.12,431.57 L192.82,431.49 L193.52,431.42 L194.22,431.34 L194.92,431.26 L195.62,431.19 L196.32,431.12 L197.02,431.05 L197.73,430.98 L198.43,430.91 L199.13,430.84 L199.83,430.77 L200.53,430.71 L201.24,430.64 L201.94,430.58 L202.64,430.52 L203.34,430.46 L204.05,430.4 L204.75,430.34 L205.45,430.28 L206.16,430.23 L206.86,430.17 L207.57,430.12 L208.27,430.07 L208.97,430.02 L209.68,429.97 L210.38,429.93 L211.09,429.88 L211.79,429.84 L212.5,429.8" fill="none" stroke="#000" stroke-width="1.6" stroke-linejoin="round" stroke-linecap="round"/>
<path d="M45,574.2 L45,573.49 L45,572.79 L45,572.08 L45.01,571.37 L45.01,570.67 L45.01,569.96 L45.02,569.26 L45.02,568.55 L45.03,567.85 L45.04,567.14 L45.05,566.44 L45.06,565.73 L45.06,565.03 L45.08,564.32 L45.09,563.62 L45.1,562.91 L45.11,562.21 L45.12,561.51 L45.14,560.8 L45.15,560.1 L45.17,559.39 L45.18,558.69 L45.2,557.99 L45.22,557.28 L45.23,556.58 L45.25,555.88 L45.27,555.17 L45.29,554.47 L45.31,553.77 L45.33,553.07 L45.36,552.36 L45.38,551.66 L45.4,550.96 L45.43,550.25 L45.47,549.54 L45.51,548.84 L45.57,548.13 L45.63,547.42 L45.7,546.72 L45.79,546.02 L45.88,545.32 L45.98,544.64 L46.11,543.96 L46.3,543.27 L46.55,542.6 L46.83,541.93 L47.14,541.3 L47.46,540.69 L47.83,540.11 L48.25,539.54 L48.71,538.98 L49.21,538.45 L49.73,537.96 L50.26,537.51 L50.81,537.11 L51.39,536.74 L52.01,536.41 L52.65,536.1 L53.31,535.79 L53.95,535.48 L54.59,535.16 L55.2,534.8 L55.78,534.43 L56.36,534.04 L56.94,533.64 L57.51,533.23 L58.07,532.81 L58.63,532.38 L59.19,531.95 L59.74,531.51 L60.29,531.07 L60.84,530.62 L61.38,530.17 L61.93,529.72 L62.47,529.27 L63.02,528.81 L63.56,528.36 L64.11,527.91 L64.66,527.47 L65.21,527.02 L65.76,526.59 L66.32,526.15 L66.87,525.72 L67.42,525.28 L67.98,524.83 L68.52,524.38 L69.07,523.93 L69.62,523.48 L70.17,523.03 L70.71,522.57 L71.26,522.11 L71.8,521.65 L72.35,521.2 L72.89,520.74 L73.44,520.28 L73.98,519.82 L74.53,519.36 L75.07,518.9 L75.62,518.45 L76.17,518 L76.72,517.55 L77.27,517.1 L77.82,516.65 L78.37,516.21 L78.92,515.78 L79.48,515.34 L80.04,514.91 L80.6,514.49 L81.16,514.07 L81.73,513.66 L82.3,513.26 L82.87,512.86 L83.44,512.47 L84.02,512.08 L84.6,511.7 L85.18,511.33 L85.77,510.97 L86.36,510.62 L86.96,510.28 L87.56,509.93 L88.16,509.6 L88.76,509.26 L89.37,508.93 L89.98,508.6 L90.59,508.28 L91.21,507.96 L91.83,507.64 L92.45,507.32 L93.07,507.01 L93.69,506.7 L94.32,506.4 L94.95,506.09 L95.58,505.79 L96.22,505.5 L96.85,505.2 L97.49,504.91 L98.13,504.62 L98.77,504.33 L99.41,504.04 L100.06,503.76 L100.7,503.48 L101.35,503.2 L102,502.92 L102.65,502.64 L103.3,502.36 L103.95,502.09 L104.61,501.82 L105.26,501.55 L105.92,501.28 L106.58,501.01 L107.23,500.75 L107.89,500.48 L108.55,500.22 L109.21,499.95 L109.87,499.69 L110.54,499.43 L111.2,499.17 L111.86,498.91 L112.52,498.65 L113.19,498.39 L113.85,498.13 L114.51,497.87 L115.18,497.61 L115.84,497.35 L116.5,497.09 L117.17,496.84 L117.83,496.58 L118.49,496.32 L119.15,496.06 L119.82,495.8 L120.48,495.54 L121.14,495.28 L121.8,495.02 L122.46,494.76 L123.12,494.5 L123.78,494.23 L124.43,493.97 L125.09,493.7 L125.74,493.44 L126.4,493.17 L127.05,492.9 L127.7,492.63 L128.35,492.36 L129,492.09 L129.65,491.82 L130.3,491.54 L130.95,491.27 L131.6,491 L132.25,490.73 L132.9,490.46 L133.55,490.19 L134.2,489.92 L134.85,489.65 L135.5,489.37 L136.15,489.1 L136.8,488.83 L137.46,488.56 L138.11,488.29 L138.76,488.02 L139.41,487.75 L140.06,487.49 L140.71,487.22 L141.36,486.95 L142.01,486.68 L142.66,486.41 L143.32,486.14 L143.97,485.87 L144.62,485.61 L145.27,485.34 L145.92,485.07 L146.58,484.81 L147.23,484.54 L147.88,484.27 L148.53,484.01 L149.19,483.74 L149.84,483.48 L150.49,483.21 L151.14,482.95 L151.8,482.68 L152.45,482.42 L153.1,482.16 L153.76,481.89 L154.41,481.63 L155.07,481.37 L155.72,481.11 L156.37,480.84 L157.03,480.58 L157.68,480.32 L158.34,480.06 L158.99,479.8 L159.65,479.54 L160.3,479.28 L160.96,479.02 L161.61,478.76 L162.27,478.51 L162.92,478.25 L163.58,477.99 L164.23,477.73 L164.89,477.48 L165.55,477.22 L166.2,476.97 L166.86,476.71 L167.52,476.46 L168.17,476.2 L168.83,475.95 L169.49,475.7 L170.14,475.44 L170.8,475.19 L171.46,474.94 L172.12,474.69 L172.77,474.44 L173.43,474.19 L174.09,473.94 L174.75,473.69 L175.41,473.44 L176.07,473.19 L176.72,472.94 L177.38,472.69 L178.04,472.44 L178.7,472.19 L179.36,471.95 L180.02,471.7 L180.68,471.45 L181.34,471.2 L182,470.96 L182.66,470.71 L183.32,470.47 L183.98,470.22 L184.64,469.97 L185.3,469.73 L185.96,469.49 L186.62,469.24 L187.28,469 L187.94,468.75 L188.6,468.51 L189.27,468.27 L189.93,468.03 L190.59,467.78 L191.25,467.54 L191.91,467.3 L192.57,467.06 L193.24,466.82 L193.9,466.58 L194.56,466.34 L195.22,466.1 L195.89,465.86 L196.55,465.62 L197.21,465.38 L197.88,465.15 L198.54,464.91 L199.2,464.67 L199.87,464.43 L200.53,464.2 L201.19,463.96 L201.86,463.72 L202.52,463.49 L203.19,463.25 L203.85,463.02 L204.52,462.78 L205.18,462.55 L205.84,462.32 L206.51,462.08 L207.17,461.85 L207.84,461.62 L208.51,461.39 L209.17,461.15 L209.84,460.92 L210.5,460.69 L211.17,460.46 L211.83,460.23 L212.5,460" fill="none" stroke="#000" stroke-width="1.6" stroke-linejoin="round" stroke-linecap="round"/>
<path d="M45,574.2 L45.01,573.5 L45.01,572.79 L45.02,572.09 L45.04,571.39 L45.05,570.68 L45.06,569.98 L45.08,569.28 L45.1,568.57 L45.12,567.87 L45.13,567.17 L45.16,566.47 L45.18,565.76 L45.2,565.06 L45.22,564.36 L45.24,563.66 L45.27,562.95 L45.29,562.25 L45.32,561.55 L45.34,560.84 L45.37,560.14 L45.4,559.44 L45.43,558.73 L45.47,558.03 L45.51,557.33 L45.55,556.63 L45.61,555.93 L45.67,555.21 L45.74,554.48 L45.83,553.76 L45.94,553.05 L46.09,552.4 L46.28,551.78 L46.7,551.11 L47.27,550.6 L47.85,550.51 L48.51,550.61 L49.23,550.77 L49.96,550.93 L50.67,551.03 L51.36,551.13 L52.06,551.22 L52.76,551.31 L53.47,551.38 L54.17,551.44 L54.87,551.48 L55.57,551.5 L56.27,551.49 L56.97,551.46 L57.66,551.41 L58.36,551.34 L59.06,551.26 L59.76,551.17 L60.46,551.07 L61.16,550.97 L61.86,550.86 L62.55,550.76 L63.25,550.66 L63.95,550.57 L64.65,550.49 L65.35,550.43 L66.05,550.37 L66.75,550.32 L67.46,550.27 L68.16,550.22 L68.86,550.17 L69.56,550.12 L70.26,550.07 L70.97,550.03 L71.67,549.99 L72.37,549.96 L73.07,549.93 L73.78,549.91 L74.48,549.9 L75.18,549.9 L75.88,549.9 L76.59,549.91 L77.29,549.92 L77.99,549.94 L78.7,549.96 L79.4,549.98 L80.1,550 L80.81,550.03 L81.51,550.06 L82.21,550.09 L82.92,550.12 L83.62,550.16 L84.32,550.19 L85.02,550.23 L85.72,550.26 L86.42,550.3 L87.12,550.34 L87.82,550.39 L88.52,550.44 L89.22,550.5 L89.92,550.57 L90.62,550.64 L91.32,550.71 L92.02,550.79 L92.72,550.88 L93.41,550.96 L94.11,551.05 L94.81,551.15 L95.51,551.24 L96.2,551.34 L96.9,551.44 L97.6,551.54 L98.3,551.64 L98.99,551.75 L99.69,551.85 L100.39,551.95 L101.08,552.05 L101.78,552.16 L102.48,552.26 L103.17,552.35 L103.87,552.45 L104.57,552.54 L105.26,552.63 L105.96,552.73 L106.66,552.82 L107.36,552.91 L108.05,553.01 L108.75,553.11 L109.45,553.21 L110.14,553.31 L110.84,553.41 L111.53,553.51 L112.23,553.61 L112.93,553.71 L113.62,553.81 L114.32,553.92 L115.01,554.02 L115.71,554.12 L116.41,554.22 L117.1,554.32 L117.8,554.42 L118.5,554.52 L119.19,554.62 L119.89,554.72 L120.58,554.82 L121.28,554.92 L121.98,555.01 L122.67,555.1 L123.37,555.19 L124.07,555.28 L124.77,555.37 L125.46,555.46 L126.16,555.54 L126.86,555.62 L127.56,555.7 L128.25,555.77 L128.95,555.85 L129.65,555.92 L130.35,555.99 L131.05,556.06 L131.75,556.13 L132.45,556.2 L133.15,556.26 L133.85,556.33 L134.55,556.39 L135.25,556.46 L135.95,556.52 L136.65,556.58 L137.35,556.64 L138.05,556.7 L138.75,556.76 L139.45,556.82 L140.15,556.88 L140.85,556.94 L141.55,556.99 L142.25,557.05 L142.95,557.1 L143.65,557.16 L144.35,557.21 L145.06,557.27 L145.76,557.32 L146.46,557.38 L147.16,557.43 L147.86,557.48 L148.56,557.54 L149.26,557.59 L149.97,557.64 L150.67,557.69 L151.37,557.75 L152.07,557.8 L152.77,557.85 L153.47,557.9 L154.17,557.95 L154.88,558 L155.58,558.06 L156.28,558.11 L156.98,558.16 L157.68,558.21 L158.38,558.27 L159.08,558.32 L159.79,558.37 L160.49,558.43 L161.19,558.48 L161.89,558.53 L162.59,558.59 L163.29,558.64 L163.99,558.7 L164.69,558.76 L165.4,558.81 L166.1,558.87 L166.8,558.93 L167.5,558.99 L168.2,559.04 L168.9,559.1 L169.6,559.17 L170.3,559.23 L171,559.29 L171.7,559.35 L172.4,559.41 L173.1,559.47 L173.8,559.54 L174.5,559.6 L175.2,559.66 L175.9,559.72 L176.6,559.79 L177.3,559.85 L178,559.91 L178.7,559.98 L179.4,560.04 L180.1,560.1 L180.8,560.17 L181.5,560.23 L182.2,560.3 L182.91,560.36 L183.61,560.43 L184.31,560.49 L185.01,560.55 L185.71,560.62 L186.41,560.68 L187.11,560.75 L187.81,560.82 L188.51,560.88 L189.21,560.95 L189.91,561.01 L190.61,561.08 L191.31,561.15 L192.01,561.21 L192.71,561.28 L193.41,561.34 L194.11,561.41 L194.81,561.48 L195.51,561.55 L196.21,561.61 L196.91,561.68 L197.61,561.75 L198.31,561.82 L199.01,561.88 L199.7,561.95 L200.4,562.02 L201.1,562.09 L201.8,562.16 L202.5,562.22 L203.2,562.29 L203.9,562.36 L204.6,562.43 L205.3,562.5 L206,562.57 L206.7,562.64 L207.4,562.71 L208.1,562.78 L208.8,562.85 L209.5,562.92 L210.2,562.99 L210.9,563.06 L211.6,563.13 L212.3,563.2" fill="none" stroke="#000" stroke-width="1.6" stroke-linejoin="round" stroke-linecap="round"/>
<circle cx="45.3" cy="540" r="3.3" fill="#000"/>
<circle cx="45.8" cy="532.5" r="3.3" fill="#000"/>
<circle cx="46.8" cy="520.6" r="3.3" fill="#000"/>
<circle cx="50.1" cy="511.3" r="3.3" fill="#000"/>
<circle cx="55.6" cy="503.1" r="3.3" fill="#000"/>
<circle cx="66.2" cy="486" r="3.3" fill="#000"/>
<circle cx="87" cy="465.4" r="3.3" fill="#000"/>
<circle cx="128.5" cy="443.6" r="3.3" fill="#000"/>
<rect x="42" y="571.2" width="6" height="6" fill="#000"/>
<rect x="42.4" y="548" width="6" height="6" fill="#000"/>
<rect x="43" y="541.5" width="6" height="6" fill="#000"/>
<rect x="44.4" y="537.8" width="6" height="6" fill="#000"/>
<rect x="47.4" y="534.4" width="6" height="6" fill="#000"/>
<rect x="52.2" y="531.8" width="6" height="6" fill="#000"/>
<rect x="63" y="523.4" width="6" height="6" fill="#000"/>
<rect x="83.4" y="507.6" width="6" height="6" fill="#000"/>
<rect x="125.5" y="489.3" width="6" height="6" fill="#000"/>
<rect x="209.5" y="457" width="6" height="6" fill="#000"/>
<rect x="209.5" y="426.8" width="6" height="6" fill="#000"/>
<polygon points="45.3,558.25 41.8,565.15 48.8,565.15" fill="#000"/>
<polygon points="45.6,552.25 42.1,559.15 49.1,559.15" fill="#000"/>
<polygon points="46.2,548.25 42.7,555.15 49.7,555.15" fill="#000"/>
<polygon points="47.6,546.75 44.1,553.65 51.1,553.65" fill="#000"/>
<polygon points="50.4,547.75 46.9,554.65 53.9,554.65" fill="#000"/>
<polygon points="55.6,548.05 52.1,554.95 59.1,554.95" fill="#000"/>
<polygon points="65.7,546.85 62.2,553.75 69.2,553.75" fill="#000"/>
<polygon points="86.4,546.85 82.9,553.75 89.9,553.75" fill="#000"/>
<polygon points="128.5,552.25 125,559.15 132,559.15" fill="#000"/>
<polygon points="212.3,559.85 208.8,566.75 215.8,566.75" fill="#000"/>
<rect x="42.5" y="527.4" width="6.2" height="6.2" fill="#000"/>
<rect x="42.5" y="532.4" width="6.2" height="6.2" fill="#000"/>
<rect x="42.5" y="537.9" width="6.2" height="6.2" fill="#000"/>
<rect x="42.5" y="542.9" width="6.2" height="6.2" fill="#000"/>
<rect x="42.5" y="547.9" width="6.2" height="6.2" fill="#000"/>
<rect x="42.5" y="552.9" width="6.2" height="6.2" fill="#000"/>
<rect x="42.5" y="556.4" width="6.2" height="6.2" fill="#000"/>
<polygon points="47.2,545.75 43.7,552.65 50.7,552.65" fill="#000"/>
<text x="269" y="411.6" font-size="22.8" font-weight="bold" text-anchor="start" textLength="15" lengthAdjust="spacingAndGlyphs" stroke="#000" stroke-width="0.2">F</text>
<line x1="314.8" y1="412.8" x2="314.8" y2="577.2" stroke="#000" stroke-width="1.3"/>
<line x1="312.2" y1="577.3" x2="314.8" y2="577.3" stroke="#000" stroke-width="1.3"/>
<line x1="312.2" y1="544.91" x2="314.8" y2="544.91" stroke="#000" stroke-width="1.3"/>
<line x1="312.2" y1="512.52" x2="314.8" y2="512.52" stroke="#000" stroke-width="1.3"/>
<line x1="312.2" y1="480.13" x2="314.8" y2="480.13" stroke="#000" stroke-width="1.3"/>
<line x1="312.2" y1="447.74" x2="314.8" y2="447.74" stroke="#000" stroke-width="1.3"/>
<line x1="312.2" y1="415.35" x2="314.8" y2="415.35" stroke="#000" stroke-width="1.3"/>
<line x1="314.3" y1="577.2" x2="489.6" y2="577.2" stroke="#000" stroke-width="1.3"/>
<line x1="358.35" y1="577.2" x2="358.35" y2="581" stroke="#000" stroke-width="1.3"/>
<line x1="401.9" y1="577.2" x2="401.9" y2="581" stroke="#000" stroke-width="1.3"/>
<line x1="445.45" y1="577.2" x2="445.45" y2="581" stroke="#000" stroke-width="1.3"/>
<line x1="489" y1="577.2" x2="489" y2="581" stroke="#000" stroke-width="1.3"/>
<text x="307" y="581.2" font-size="10.8" font-weight="bold" text-anchor="end" textLength="5.6" lengthAdjust="spacingAndGlyphs" stroke="#000" stroke-width="0.2">0</text>
<text x="307" y="548.81" font-size="10.8" font-weight="bold" text-anchor="end" textLength="11.3" lengthAdjust="spacingAndGlyphs" stroke="#000" stroke-width="0.2">25</text>
<text x="307" y="516.42" font-size="10.8" font-weight="bold" text-anchor="end" textLength="11.3" lengthAdjust="spacingAndGlyphs" stroke="#000" stroke-width="0.2">50</text>
<text x="307" y="484.03" font-size="10.8" font-weight="bold" text-anchor="end" textLength="11.3" lengthAdjust="spacingAndGlyphs" stroke="#000" stroke-width="0.2">75</text>
<text x="307" y="451.64" font-size="10.8" font-weight="bold" text-anchor="end" textLength="17" lengthAdjust="spacingAndGlyphs" stroke="#000" stroke-width="0.2">100</text>
<text x="307" y="419.25" font-size="10.8" font-weight="bold" text-anchor="end" textLength="17" lengthAdjust="spacingAndGlyphs" stroke="#000" stroke-width="0.2">125</text>
<text x="357.95" y="593.6" font-size="11" font-weight="bold" text-anchor="end" textLength="17.4" lengthAdjust="spacingAndGlyphs" stroke="#000" stroke-width="0.2">250</text>
<text x="401.5" y="593.6" font-size="11" font-weight="bold" text-anchor="end" textLength="17.4" lengthAdjust="spacingAndGlyphs" stroke="#000" stroke-width="0.2">500</text>
<text x="445.05" y="593.6" font-size="11" font-weight="bold" text-anchor="end" textLength="17.4" lengthAdjust="spacingAndGlyphs" stroke="#000" stroke-width="0.2">750</text>
<text x="488.6" y="593.6" font-size="11" font-weight="bold" text-anchor="end" textLength="23" lengthAdjust="spacingAndGlyphs" stroke="#000" stroke-width="0.2">1000</text>
<text x="352.9" y="615.8" font-size="12.3" font-weight="bold" text-anchor="start" textLength="112.9" lengthAdjust="spacingAndGlyphs" stroke="#000" stroke-width="0.2">Concentration (nM)</text>
<text transform="translate(279.3,548.2) rotate(-90)" font-size="10.8" font-weight="bold" stroke="#000" stroke-width="0.25"><tspan textLength="14" lengthAdjust="spacingAndGlyphs">RU</tspan><tspan dy="2.8" textLength="21.4" lengthAdjust="spacingAndGlyphs">max</tspan><tspan dy="-2.8" textLength="78.9" lengthAdjust="spacingAndGlyphs"> at Equilibrium</tspan></text>
<text x="326.1" y="426.4" font-size="16" font-weight="normal" text-anchor="start" textLength="28.7" lengthAdjust="spacingAndGlyphs" stroke="#000" stroke-width="0.2">N=2</text>
<text x="401.5" y="424.4" font-size="10.5" font-weight="bold" text-anchor="start" textLength="35.5" lengthAdjust="spacingAndGlyphs" stroke="#000" stroke-width="0.2">FL-A13</text>
<text x="421" y="510.5" font-size="11.3" font-weight="bold" text-anchor="start" textLength="38.4" lengthAdjust="spacingAndGlyphs" stroke="#000" stroke-width="0.2">delCUB</text>
<text x="455.9" y="532.2" font-size="11.4" font-weight="bold" text-anchor="start" textLength="37.1" lengthAdjust="spacingAndGlyphs" stroke="#000" stroke-width="0.2">MDTCS</text>
<polygon points="402.1,441.4 403.4,428.1 405.8,431.5 411.9,432.2" fill="#000"/>
<polygon points="407.7,493.8 421.2,497.6 414.2,499.8 415.8,505.2" fill="#000"/>
<polygon points="487.4,549.4 476.3,541.7 481.5,541.2 483.8,536.5" fill="#000"/>
<path d="M314.8,577 L314.81,576.3 L314.83,575.6 L314.84,574.89 L314.85,574.19 L314.86,573.49 L314.88,572.79 L314.89,572.09 L314.9,571.38 L314.91,570.68 L314.93,569.98 L314.94,569.28 L314.95,568.58 L314.97,567.87 L314.98,567.17 L314.99,566.47 L315,565.77 L315.02,565.07 L315.03,564.37 L315.04,563.66 L315.05,562.96 L315.06,562.26 L315.07,561.56 L315.09,560.86 L315.1,560.15 L315.11,559.45 L315.12,558.75 L315.13,558.05 L315.15,557.35 L315.16,556.64 L315.18,555.94 L315.19,555.24 L315.21,554.54 L315.23,553.84 L315.25,553.13 L315.27,552.43 L315.29,551.73 L315.31,551.02 L315.33,550.32 L315.35,549.62 L315.38,548.91 L315.4,548.21 L315.43,547.51 L315.47,546.81 L315.5,546.11 L315.54,545.41 L315.58,544.71 L315.63,544.02 L315.69,543.32 L315.77,542.63 L315.87,541.93 L315.97,541.23 L316.09,540.54 L316.23,539.85 L316.36,539.16 L316.51,538.46 L316.66,537.78 L316.81,537.09 L316.97,536.4 L317.13,535.72 L317.28,535.04 L317.45,534.36 L317.63,533.68 L317.81,533.01 L318.01,532.33 L318.21,531.66 L318.43,530.99 L318.64,530.32 L318.87,529.65 L319.1,528.98 L319.33,528.32 L319.56,527.65 L319.8,526.99 L320.04,526.33 L320.28,525.68 L320.53,525.02 L320.77,524.37 L321.03,523.71 L321.28,523.05 L321.54,522.4 L321.81,521.74 L322.08,521.09 L322.35,520.44 L322.63,519.79 L322.91,519.15 L323.2,518.5 L323.49,517.86 L323.79,517.22 L324.09,516.58 L324.39,515.95 L324.7,515.32 L325.01,514.7 L325.33,514.08 L325.65,513.46 L325.98,512.85 L326.32,512.24 L326.66,511.63 L327.01,511.03 L327.36,510.43 L327.73,509.83 L328.1,509.23 L328.47,508.64 L328.85,508.05 L329.24,507.46 L329.63,506.87 L330.02,506.29 L330.42,505.71 L330.83,505.13 L331.24,504.55 L331.65,503.97 L332.06,503.4 L332.48,502.83 L332.9,502.26 L333.32,501.69 L333.74,501.13 L334.17,500.57 L334.6,500.01 L335.02,499.45 L335.45,498.9 L335.88,498.34 L336.31,497.79 L336.74,497.24 L337.17,496.69 L337.6,496.14 L338.03,495.59 L338.47,495.04 L338.91,494.49 L339.35,493.94 L339.79,493.39 L340.23,492.84 L340.68,492.29 L341.13,491.74 L341.58,491.2 L342.03,490.65 L342.48,490.11 L342.94,489.56 L343.39,489.02 L343.85,488.48 L344.32,487.94 L344.78,487.41 L345.25,486.87 L345.71,486.34 L346.18,485.81 L346.65,485.28 L347.13,484.76 L347.61,484.23 L348.08,483.71 L348.56,483.19 L349.05,482.68 L349.53,482.17 L350.02,481.66 L350.51,481.15 L351,480.65 L351.49,480.15 L351.99,479.65 L352.49,479.16 L352.99,478.67 L353.49,478.19 L353.99,477.71 L354.5,477.23 L355.01,476.76 L355.52,476.29 L356.04,475.83 L356.55,475.37 L357.07,474.91 L357.59,474.46 L358.12,474.02 L358.65,473.57 L359.18,473.13 L359.72,472.69 L360.26,472.26 L360.81,471.83 L361.36,471.4 L361.92,470.97 L362.47,470.55 L363.03,470.13 L363.6,469.71 L364.17,469.29 L364.74,468.88 L365.31,468.47 L365.88,468.06 L366.46,467.65 L367.04,467.25 L367.63,466.85 L368.21,466.45 L368.8,466.05 L369.39,465.66 L369.98,465.27 L370.57,464.88 L371.16,464.49 L371.76,464.11 L372.35,463.72 L372.95,463.34 L373.55,462.96 L374.14,462.59 L374.74,462.21 L375.34,461.84 L375.94,461.47 L376.54,461.1 L377.14,460.73 L377.74,460.36 L378.34,460 L378.94,459.64 L379.54,459.27 L380.14,458.91 L380.74,458.55 L381.34,458.19 L381.95,457.83 L382.55,457.48 L383.15,457.12 L383.76,456.76 L384.37,456.4 L384.98,456.04 L385.59,455.69 L386.2,455.33 L386.81,454.98 L387.42,454.63 L388.04,454.28 L388.65,453.93 L389.27,453.59 L389.89,453.25 L390.51,452.91 L391.13,452.57 L391.75,452.24 L392.38,451.91 L393,451.58 L393.63,451.26 L394.26,450.94 L394.89,450.62 L395.52,450.31 L396.15,450.01 L396.78,449.7 L397.42,449.41 L398.05,449.12 L398.69,448.83 L399.33,448.55 L399.96,448.27 L400.6,448.01 L401.25,447.74 L401.89,447.48 L402.53,447.23 L403.18,446.98 L403.83,446.72 L404.47,446.47 L405.12,446.22 L405.78,445.98 L406.43,445.73 L407.08,445.48 L407.74,445.24 L408.39,445 L409.05,444.76 L409.71,444.52 L410.37,444.28 L411.03,444.05 L411.69,443.81 L412.36,443.58 L413.02,443.35 L413.69,443.12 L414.35,442.9 L415.02,442.67 L415.69,442.45 L416.36,442.22 L417.03,442 L417.7,441.78 L418.37,441.57 L419.04,441.35 L419.71,441.14 L420.39,440.92 L421.06,440.71 L421.74,440.51 L422.41,440.3 L423.09,440.09 L423.77,439.89 L424.44,439.69 L425.12,439.49 L425.8,439.29 L426.48,439.09 L427.16,438.9 L427.84,438.71 L428.52,438.52 L429.2,438.33 L429.88,438.14 L430.57,437.96 L431.25,437.77 L431.93,437.59 L432.61,437.41 L433.3,437.23 L433.98,437.06 L434.66,436.88 L435.35,436.71 L436.03,436.54 L436.71,436.38 L437.4,436.21 L438.08,436.05 L438.76,435.88 L439.45,435.72 L440.13,435.57 L440.82,435.41 L441.5,435.26 L442.18,435.1 L442.87,434.95 L443.55,434.81 L444.23,434.66 L444.92,434.52 L445.6,434.38 L446.28,434.23 L446.96,434.09 L447.65,433.95 L448.33,433.81 L449.02,433.68 L449.7,433.54 L450.39,433.4 L451.07,433.26 L451.76,433.13 L452.45,432.99 L453.13,432.86 L453.82,432.73 L454.51,432.59 L455.19,432.46 L455.88,432.33 L456.57,432.2 L457.26,432.07 L457.95,431.95 L458.64,431.82 L459.33,431.69 L460.02,431.57 L460.71,431.45 L461.4,431.32 L462.09,431.2 L462.78,431.08 L463.47,430.96 L464.16,430.84 L464.86,430.73 L465.55,430.61 L466.24,430.5 L466.94,430.38 L467.63,430.27 L468.32,430.16 L469.02,430.05 L469.71,429.94 L470.41,429.84 L471.1,429.73 L471.8,429.63 L472.5,429.53 L473.19,429.42 L473.89,429.32 L474.59,429.23 L475.28,429.13 L475.98,429.03 L476.68,428.94 L477.38,428.85 L478.08,428.76 L478.78,428.67 L479.48,428.58 L480.18,428.5 L480.88,428.41 L481.58,428.33 L482.28,428.25 L482.98,428.17 L483.68,428.09 L484.38,428.02 L485.08,427.94 L485.79,427.87 L486.49,427.8 L487.19,427.73 L487.9,427.66 L488.6,427.6" fill="none" stroke="#000" stroke-width="1.6" stroke-linejoin="round" stroke-linecap="round"/>
<path d="M315,576.6 L315,575.9 L315,575.19 L315,574.49 L315.01,573.79 L315.01,573.09 L315.02,572.38 L315.02,571.68 L315.03,570.98 L315.03,570.28 L315.04,569.57 L315.05,568.87 L315.06,568.17 L315.07,567.47 L315.08,566.77 L315.09,566.06 L315.1,565.36 L315.11,564.66 L315.12,563.96 L315.14,563.26 L315.15,562.55 L315.16,561.85 L315.18,561.15 L315.19,560.45 L315.21,559.75 L315.22,559.04 L315.24,558.34 L315.27,557.64 L315.29,556.93 L315.32,556.23 L315.36,555.52 L315.4,554.82 L315.44,554.12 L315.49,553.42 L315.54,552.73 L315.6,552.03 L315.67,551.31 L315.77,550.55 L315.9,549.78 L316.05,549.05 L316.24,548.37 L316.45,547.79 L316.72,547.34 L317.16,546.96 L317.77,546.64 L318.48,546.34 L319.23,546.06 L319.95,545.77 L320.59,545.45 L321.23,545.14 L321.86,544.84 L322.5,544.53 L323.14,544.23 L323.77,543.92 L324.4,543.6 L325.01,543.27 L325.61,542.92 L326.19,542.55 L326.77,542.16 L327.33,541.76 L327.89,541.34 L328.44,540.91 L328.98,540.47 L329.52,540.02 L330.05,539.56 L330.58,539.09 L331.11,538.62 L331.63,538.14 L332.16,537.67 L332.68,537.19 L333.21,536.71 L333.73,536.24 L334.26,535.77 L334.8,535.3 L335.33,534.85 L335.88,534.4 L336.42,533.96 L336.97,533.52 L337.52,533.08 L338.06,532.64 L338.61,532.2 L339.16,531.76 L339.71,531.32 L340.26,530.88 L340.81,530.44 L341.36,530 L341.91,529.56 L342.46,529.13 L343.01,528.69 L343.56,528.25 L344.11,527.82 L344.66,527.38 L345.22,526.95 L345.77,526.51 L346.32,526.08 L346.88,525.65 L347.43,525.22 L347.99,524.79 L348.55,524.36 L349.11,523.93 L349.66,523.51 L350.22,523.08 L350.79,522.66 L351.35,522.24 L351.91,521.82 L352.47,521.4 L353.04,520.98 L353.6,520.57 L354.17,520.16 L354.74,519.75 L355.31,519.34 L355.88,518.93 L356.45,518.53 L357.02,518.12 L357.6,517.72 L358.17,517.32 L358.75,516.93 L359.33,516.53 L359.91,516.14 L360.49,515.75 L361.07,515.35 L361.66,514.97 L362.24,514.58 L362.83,514.19 L363.42,513.81 L364,513.42 L364.59,513.04 L365.18,512.66 L365.78,512.28 L366.37,511.9 L366.96,511.52 L367.55,511.15 L368.15,510.77 L368.74,510.4 L369.34,510.02 L369.94,509.65 L370.53,509.28 L371.13,508.91 L371.73,508.54 L372.33,508.17 L372.93,507.8 L373.53,507.43 L374.13,507.07 L374.73,506.7 L375.33,506.33 L375.93,505.97 L376.53,505.6 L377.13,505.24 L377.73,504.87 L378.33,504.51 L378.93,504.15 L379.53,503.78 L380.13,503.42 L380.73,503.06 L381.33,502.69 L381.93,502.33 L382.53,501.97 L383.14,501.6 L383.74,501.24 L384.34,500.87 L384.94,500.51 L385.54,500.15 L386.15,499.78 L386.75,499.42 L387.35,499.06 L387.96,498.7 L388.56,498.34 L389.17,497.98 L389.77,497.62 L390.38,497.27 L390.99,496.91 L391.59,496.56 L392.2,496.2 L392.81,495.85 L393.42,495.5 L394.03,495.16 L394.64,494.81 L395.26,494.47 L395.87,494.13 L396.49,493.79 L397.1,493.45 L397.72,493.12 L398.33,492.79 L398.95,492.46 L399.57,492.14 L400.19,491.81 L400.82,491.49 L401.44,491.18 L402.06,490.86 L402.69,490.55 L403.32,490.23 L403.94,489.92 L404.57,489.61 L405.2,489.3 L405.83,489 L406.46,488.69 L407.09,488.38 L407.72,488.08 L408.35,487.78 L408.99,487.48 L409.62,487.17 L410.25,486.88 L410.89,486.58 L411.53,486.28 L412.16,485.98 L412.8,485.69 L413.44,485.4 L414.08,485.1 L414.71,484.81 L415.35,484.52 L415.99,484.23 L416.64,483.94 L417.28,483.65 L417.92,483.37 L418.56,483.08 L419.2,482.79 L419.85,482.51 L420.49,482.23 L421.13,481.94 L421.78,481.66 L422.42,481.38 L423.07,481.1 L423.72,480.82 L424.36,480.54 L425.01,480.27 L425.66,479.99 L426.3,479.71 L426.95,479.44 L427.6,479.16 L428.25,478.89 L428.89,478.61 L429.54,478.34 L430.19,478.07 L430.84,477.8 L431.49,477.53 L432.14,477.25 L432.79,476.98 L433.44,476.72 L434.09,476.45 L434.74,476.18 L435.39,475.91 L436.04,475.64 L436.69,475.38 L437.34,475.11 L437.99,474.84 L438.64,474.58 L439.29,474.31 L439.95,474.05 L440.6,473.78 L441.25,473.52 L441.9,473.25 L442.55,472.99 L443.2,472.73 L443.85,472.46 L444.5,472.2 L445.15,471.94 L445.8,471.68 L446.45,471.42 L447.1,471.15 L447.75,470.89 L448.41,470.63 L449.06,470.37 L449.71,470.12 L450.36,469.86 L451.01,469.6 L451.67,469.34 L452.32,469.08 L452.97,468.83 L453.63,468.57 L454.28,468.32 L454.93,468.06 L455.59,467.81 L456.24,467.55 L456.9,467.3 L457.55,467.05 L458.21,466.8 L458.86,466.54 L459.52,466.29 L460.18,466.04 L460.83,465.79 L461.49,465.54 L462.14,465.29 L462.8,465.05 L463.46,464.8 L464.12,464.55 L464.77,464.3 L465.43,464.06 L466.09,463.81 L466.75,463.57 L467.41,463.32 L468.06,463.08 L468.72,462.83 L469.38,462.59 L470.04,462.35 L470.7,462.11 L471.36,461.87 L472.02,461.63 L472.68,461.39 L473.34,461.15 L474,460.91 L474.66,460.67 L475.33,460.43 L475.99,460.19 L476.65,459.96 L477.31,459.72 L477.97,459.49 L478.64,459.25 L479.3,459.02 L479.96,458.78 L480.62,458.55 L481.29,458.32 L481.95,458.09 L482.62,457.85 L483.28,457.62 L483.94,457.39 L484.61,457.16 L485.27,456.94 L485.94,456.71 L486.6,456.48 L487.27,456.25 L487.93,456.03 L488.6,455.8" fill="none" stroke="#000" stroke-width="1.6" stroke-linejoin="round" stroke-linecap="round"/>
<line x1="318.5" y1="549.8" x2="487" y2="549.4" stroke="#000" stroke-width="1.6"/>
<line x1="314.8" y1="560" x2="314.8" y2="577" stroke="#000" stroke-width="3"/>
<rect x="311.9" y="574.1" width="5.8" height="5.8" fill="#000"/>
<rect x="312.3" y="552.1" width="5.8" height="5.8" fill="#000"/>
<rect x="312.5" y="541.5" width="5.8" height="5.8" fill="#000"/>
<rect x="314.1" y="532.5" width="5.8" height="5.8" fill="#000"/>
<rect x="317.2" y="523" width="5.8" height="5.8" fill="#000"/>
<rect x="323" y="510.1" width="5.8" height="5.8" fill="#000"/>
<rect x="333.4" y="494.9" width="5.8" height="5.8" fill="#000"/>
<rect x="354.3" y="471.9" width="5.8" height="5.8" fill="#000"/>
<rect x="398.7" y="444.7" width="5.8" height="5.8" fill="#000"/>
<rect x="485.7" y="424.7" width="5.8" height="5.8" fill="#000"/>
<polygon points="315,572.85 311.5,579.75 318.5,579.75" fill="#000"/>
<polygon points="315.2,556.25 311.7,563.15 318.7,563.15" fill="#000"/>
<polygon points="315.5,548.25 312,555.15 319,555.15" fill="#000"/>
<polygon points="316.4,543.75 312.9,550.65 319.9,550.65" fill="#000"/>
<polygon points="320.3,542.65 316.8,549.55 323.8,549.55" fill="#000"/>
<polygon points="325.8,539.65 322.3,546.55 329.3,546.55" fill="#000"/>
<polygon points="336,530.55 332.5,537.45 339.5,537.45" fill="#000"/>
<polygon points="357.2,514.25 353.7,521.15 360.7,521.15" fill="#000"/>
<polygon points="401,487.65 397.5,494.55 404.5,494.55" fill="#000"/>
<polygon points="488.6,452.05 485.1,458.95 492.1,458.95" fill="#000"/>
<circle cx="314.8" cy="576.6" r="3.3" fill="#000"/>
<circle cx="315" cy="565" r="3.3" fill="#000"/>
<circle cx="315.4" cy="558" r="3.3" fill="#000"/>
<circle cx="316" cy="556" r="3.3" fill="#000"/>
<circle cx="320" cy="555.5" r="3.3" fill="#000"/>
<circle cx="325.9" cy="554.8" r="3.3" fill="#000"/>
<circle cx="334.2" cy="550.3" r="3.3" fill="#000"/>
<circle cx="355.9" cy="548.8" r="3.3" fill="#000"/>
<circle cx="399.4" cy="545.4" r="3.3" fill="#000"/>
<circle cx="486.6" cy="553" r="3.3" fill="#000"/>
<rect x="312.8" y="540" width="6" height="6" fill="#000"/>
<rect x="312.8" y="545" width="6" height="6" fill="#000"/>
<rect x="312.8" y="550" width="6" height="6" fill="#000"/>
<rect x="312.8" y="554.5" width="6" height="6" fill="#000"/>
<circle cx="317.5" cy="556" r="3.3" fill="#000"/>
</svg>
</body></html>
